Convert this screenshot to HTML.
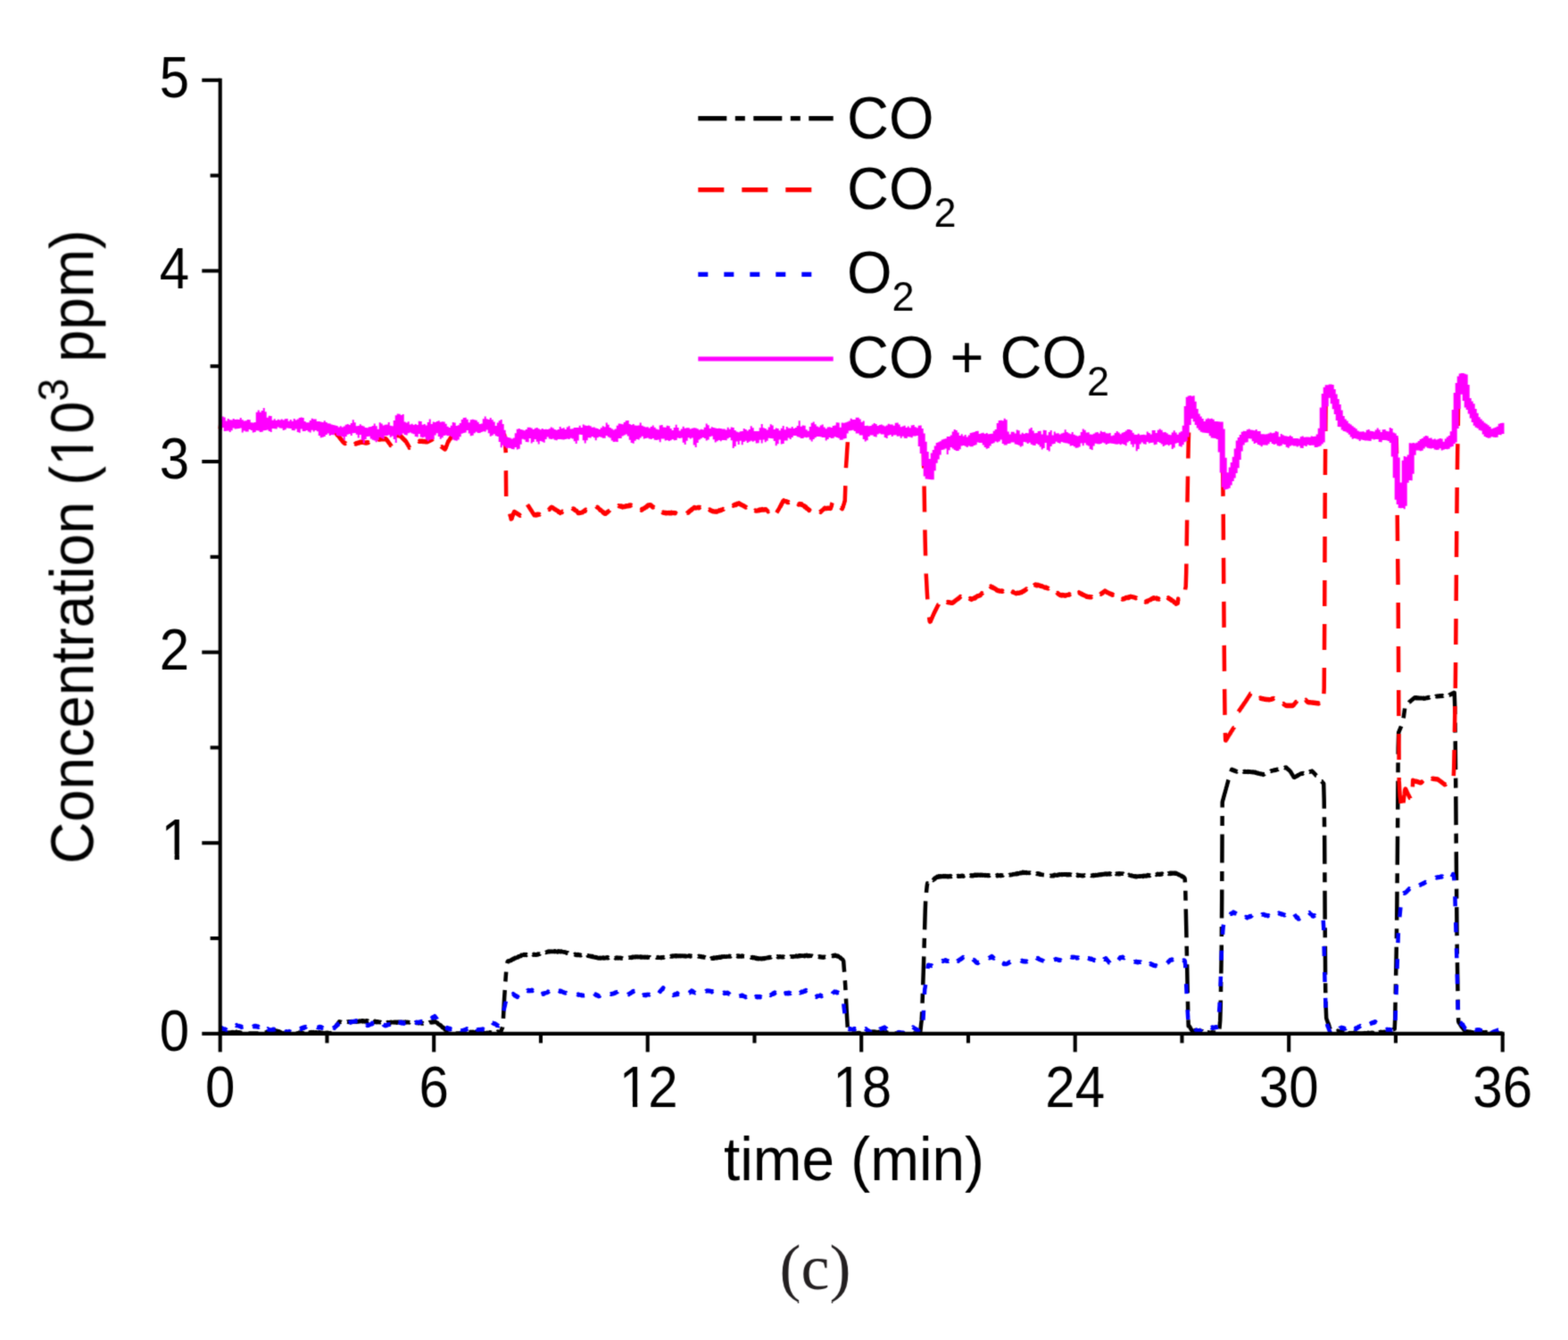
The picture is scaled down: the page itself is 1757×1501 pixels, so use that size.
<!DOCTYPE html>
<html><head><meta charset="utf-8"><title>Concentration vs time</title>
<style>
html,body{margin:0;padding:0;background:#fff;}
svg{display:block;}
text{font-family:"Liberation Sans", Arial, Helvetica, sans-serif;fill:#000;}
</style></head>
<body>
<svg width="1757" height="1501" viewBox="0 0 1757 1501">
<defs><clipPath id="c_ty1" clipPathUnits="userSpaceOnUse"><path clip-rule="evenodd" d="M-2033.37 -2000.00H1966.63V2000.00H-2033.37ZM-30.30 -6.08H-18.29V3.00H-30.30ZM-12.98 -6.08H-1.43V3.00H-12.98Z"/></clipPath><clipPath id="c_tx12" clipPathUnits="userSpaceOnUse"><path clip-rule="evenodd" d="M-2031.87 -2000.00H1968.13V2000.00H-2031.87ZM-28.80 -6.08H-16.79V3.00H-28.80ZM-11.48 -6.08H0.06V3.00H-11.48Z"/></clipPath><clipPath id="c_tx18" clipPathUnits="userSpaceOnUse"><path clip-rule="evenodd" d="M-2031.87 -2000.00H1968.13V2000.00H-2031.87ZM-28.80 -6.08H-16.79V3.00H-28.80ZM-11.48 -6.08H0.06V3.00H-11.48Z"/></clipPath><clipPath id="c_ytitle" clipPathUnits="userSpaceOnUse"><path clip-rule="evenodd" d="M-1909.53 -2000.00H2090.47V2000.00H-1909.53ZM93.93 -6.47H106.86V3.00H93.93ZM112.62 -6.47H125.04V3.00H112.62Z"/></clipPath><filter id="bl" x="0" y="0" width="100%" height="100%" color-interpolation-filters="sRGB"><feConvolveMatrix order="3" kernelMatrix="0.0277 0.1110 0.0277 0.1110 0.4452 0.1110 0.0277 0.1110 0.0277" edgeMode="duplicate"/></filter></defs>
<rect width="1757" height="1501" fill="#fff"/>
<g filter="url(#bl)">
<g fill="none" stroke-linejoin="round" stroke-width="4.5">
<path d="M246.7 1157.3l0.5 -0.21 0.5 0.36 0.5 -0.3 0.5 -0.07 0.5 -0.23 0.5 0.29 0.5 -0.41 0.5 0.28 0.5 -0.37 0.5 0.75 0.5 -0.47 0.5 0.5 0.5 -0.46 0.5 0.37 0.5 -0.71 0.5 0.53 0.5 -0.33 0.5 0.5 0.5 -0.72 0.5 0.39 0.5 -0.46 0.5 0.72 0.5 -0.63 0.5 0.27 0.5 -0.55 0.5 0.59 0.5 -0.81 0.5 0.62 0.5 -0.54 0.5 0.39 0.5 -0.37 0.5 0.42 0.5 -0.08 0.5 -0.07 0.5 -0.4 0.5 0.22 0.5 -0.53 0.5 0.92 0.5 -0.26 0.5 0.03 0.5 -0.25 0.5 0.67 0.5 -0.54 0.5 0.12 0.5 0.14 0.5 0.32 0.5 -0.24 0.5 0.25 0.5 -0.09 0.5 0.54 0.5 -0.63 0.5 0.72 0.5 -0.53 0.5 0.55 0.5 -0.4 0.5 0.4 0.5 -0.17 0.5 0.17 0.5 0 0.5 0 0.5 0 0.5 0 0.5 0 0.5 0 0.5 0 0.5 0 0.5 0 0.5 0 0.5 0 0.5 0 0.5 0 0.5 0 0.5 0 0.5 0 0.5 0 0.5 0 0.5 0 0.5 0 0.5 0 0.5 0 0.5 0 0.5 0 0.5 0 0.5 0 0.5 0 0.5 0 0.5 0 0.5 0 0.5 -0.06 0.5 0.06 0.5 -0.1 0.5 0.1 0.5 -0.18 0.5 0.18 0.5 -0.46 0.5 0.46 0.5 -0.72 0.5 0.38 0.5 -0.72 0.5 0.44 0.5 -0.48 0.5 0.26 0.5 -0.5 0.5 0.02 0.5 -0.41 0.5 0.5 0.5 -0.79 0.5 0.25 0.5 -0.58 0.5 0.27 0.5 -0.45 0.5 0.51 0.5 -0.7 0.5 0.26 0.5 -0.66 0.5 0.28 0.5 0 0.5 -0.08 0.5 -0.45 0.5 0.37 0.5 -0.24 0.5 0.46 0.5 -0.25 0.5 0.76 0.5 -0.65 0.5 0.76 0.5 -0.4 0.5 0.7 0.5 -0.51 0.5 0.75 0.5 -0.49 0.5 0.47 0.5 -0.2 0.5 0.65 0.5 -0.29 0.5 0.73 0.5 -0.04 0.5 0.27 0.5 -0.01 0.5 0.53 0.5 -0.34 0.5 0.34 0.5 0 0.5 0 0.5 0 0.5 0 0.5 0 0.5 0 0.5 0 0.5 0 0.5 0 0.5 0 0.5 0 0.5 0 0.5 0 0.5 0 0.5 0 0.5 0 0.5 0 0.5 0 0.5 0 0.5 0 0.5 0 0.5 0 0.5 0 0.5 0 0.5 0 0.5 0 0.5 0 0.5 0 0.5 -0.01 0.5 0.01 0.5 -0.18 0.5 0.18 0.5 -0.55 0.5 0.3 0.5 -0.58 0.5 0.83 0.5 -0.47 0.5 0.09 0.5 -0.19 0.5 0.39 0.5 -0.83 0.5 0.62 0.5 -0.36 0.5 0.68 0.5 -0.56 0.5 0.43 0.5 -0.61 0.5 0.51 0.5 -0.8 0.5 0.68 0.5 -0.45 0.5 0.11 0.5 -0.23 0.5 0.6 0.5 -0.4 0.5 0.35 0.5 -0.77 0.5 0.52 0.5 -0.51 0.5 0.7 0.5 -0.75 0.5 0.4 0.5 -0.54 0.5 0.7 0.5 -0.41 0.5 0.28 0.5 -0.46 0.5 0.53 0.5 -0.2 0.5 0.05 0.5 -0.23 0.5 0.49 0.5 -0.39 0.5 0.59 0.5 -0.48 0.5 0.39 0.5 -0.24 0.5 0.43 0.5 -0.54 0.5 0.47 0.5 -0.61 0.5 0.68 0.5 -0.54 0.5 0.43 0.5 -0.27 0.5 0.27 0.5 -0.27 0.5 0.54 0.5 -0.27 0.5 0.37 0.5 -0.33 0.5 0.41 0.5 -0.32 0.5 0.15 0.5 -0.53 0.5 0.58 0.5 -0.43 0.5 0.28 0.5 -0.4 0.5 0.44 0.5 -0.28 0.5 0.51 0.5 -0.17 0.5 0.02 0.5 -0.36 0.5 0.29 0.5 -0.49 0.5 0.66 0.5 -0.79 0.5 -0.55 0.5 -1.15 0.5 -0.59 0.5 -1.12 0.5 -0.7 0.5 -1.13 0.5 -0.61 0.5 -1.19 0.5 -0.14 0.5 -1.4 0.5 -0.13 0.5 -1 0.5 -0.25 0.5 -1.02 0.5 -0.37 0.5 -0.92 0.5 0.59 0.5 -0.41 0.5 0.26 0.5 -0.16 0.5 0.34 0.5 -0.43 0.5 0.41 0.5 -0.7 0.5 0.87 0.5 -0.87 0.5 0.59 0.5 -0.4 0.5 0.38 0.5 -0.47 0.5 0.28 0.5 -0.38 0.5 0.5 0.5 -0.26 0.5 0.15 0.5 -0.24 0.5 0.4 0.5 -0.5 0.5 0.34 0.5 -0.38 0.5 0.2 0.5 -0.17 0.5 0.47 0.5 -0.57 0.5 0.59 0.5 -0.48 0.5 0.27 0.5 -0.22 0.5 0.22 0.5 -0.02 0.5 -0.09 0.5 -0.43 0.5 0.43 0.5 -0.33 0.5 0.54 0.5 -0.64 0.5 0.32 0.5 -0.14 0.5 0.26 0.5 -0.69 0.5 0.4 0.5 -0.71 0.5 0.6 0.5 -0.26 0.5 -0.02 0.5 -0.45 0.5 0.68 0.5 -0.8 0.5 1.02 0.5 -0.87 0.5 0.56 0.5 -0.35 0.5 0.64 0.5 -0.56 0.5 0.09 0.5 -0.4 0.5 0.72 0.5 -0.78 0.5 0.72 0.5 -0.52 0.5 0.7 0.5 -0.37 0.5 -0.1 0.5 0.02 0.5 0.5 0.5 -0.62 0.5 0.51 0.5 -0.49 0.5 0.61 0.5 -0.27 0.5 0.63 0.5 -0.36 0.5 0.23 0.5 -0.49 0.5 0.75 0.5 -0.96 0.5 0.68 0.5 -0.08 0.5 0.72 0.5 -0.84 0.5 0.62 0.5 -0.57 0.5 0.65 0.5 -0.39 0.5 0.38 0.5 -0.21 0.5 0.4 0.5 -0.29 0.5 0.38 0.5 -0.54 0.5 0.68 0.5 -0.29 0.5 0.24 0.5 -0.08 0.5 0.35 0.5 -0.52 0.5 0.54 0.5 -0.47 0.5 0.41 0.5 -0.13 0.5 0.43 0.5 -0.68 0.5 0.45 0.5 -0.48 0.5 0.54 0.5 -0.35 0.5 0.09 0.5 -0.31 0.5 0.37 0.5 -0.37 0.5 0.55 0.5 -0.8 0.5 0.24 0.5 -0.17 0.5 0.21 0.5 0.04 0.5 0.08 0.5 -0.39 0.5 0.5 0.5 -0.45 0.5 0.33 0.5 -0.4 0.5 0.56 0.5 -0.65 0.5 0.74 0.5 -0.69 0.5 -0.01 0.5 0.01 0.5 0.05 0.5 -0.09 0.5 0.76 0.5 -0.59 0.5 0.13 0.5 -0.37 0.5 0.58 0.5 -0.21 0.5 0.12 0.5 -0.16 0.5 0.33 0.5 -0.5 0.5 0.43 0.5 -0.16 0.5 -0.04 0.5 -0.39 0.5 0.74 0.5 -0.43 0.5 0.09 0.5 -0.38 0.5 0.41 0.5 -0.19 0.5 0.26 0.5 -0.12 0.5 0.34 0.5 -0.51 0.5 0.44 0.5 -0.39 0.5 0.51 0.5 -0.52 0.5 0.52 0.5 -0.32 0.5 0.35 0.5 -0.24 0.5 0.31 0.5 -0.49 0.5 0.63 0.5 -0.18 0.5 0.46 0.5 -0.87 0.5 0.77 0.5 -0.52 0.5 0.5 0.5 -0.4 0.5 0.5 0.5 -0.45 0.5 0.52 0.5 -0.33 0.5 0.27 0.5 -0.4 0.5 0.5 0.5 -0.4 0.5 0.74 0.5 -0.65 0.5 0.64 0.5 -0.37 0.5 0.51 0.5 -0.64 0.5 0.51 0.5 -0.69 0.5 0.4 0.5 -0.44 0.5 0.02 0.5 -0.23 0.5 0.53 0.5 -0.72 0.5 0.32 0.5 -0.18 0.5 0.11 0.5 -0.33 0.5 -0.16 0.5 -0.13 0.5 0.29 0.5 -0.36 0.5 0.5 0.5 -0.7 0.5 0.38 0.5 -0.89 0.5 0.93 0.5 -0.42 0.5 0.21 0.5 -0.59 0.5 0.51 0.5 -0.32 0.5 0.69 0.5 0.18 0.5 0.45 0.5 -0.15 0.5 1.12 0.5 0.08 0.5 0.58 0.5 0.04 0.5 0.74 0.5 -0.14 0.5 0.92 0.5 -0.25 0.5 1.19 0.5 -0.02 0.5 0.9 0.5 -0.31 0.5 0.86 0.5 -0.2 0.5 0.86 0.5 0.3 0.5 1.12 0.5 -0.64 0.5 0.93 0.5 0.24 0.5 0.84 0.5 0.39 0.5 0.95 0.5 0.21 0.5 1.08 0.5 -0.29 0.5 0.33 0.5 0 0.5 0 0.5 0 0.5 0 0.5 0 0.5 0 0.5 0 0.5 0 0.5 0 0.5 0 0.5 0 0.5 0 0.5 0 0.5 0 0.5 0 0.5 0 0.5 0 0.5 0 0.5 0 0.5 0 0.5 0 0.5 0 0.5 -0.25 0.5 0.25 0.5 -0.37 0.5 0.3 0.5 -0.43 0.5 -0.02 0.5 -0.41 0.5 0.5 0.5 -0.37 0.5 0.29 0.5 -0.68 0.5 0.47 0.5 -0.7 0.5 0.77 0.5 -0.87 0.5 0.7 0.5 -0.34 0.5 0.39 0.5 -0.84 0.5 0.69 0.5 -0.55 0.5 0.44 0.5 -0.17 0.5 0.22 0.5 -0.71 0.5 0.48 0.5 -0.18 0.5 0.35 0.5 -0.65 0.5 0.34 0.5 -0.29 0.5 0.51 0.5 -0.16 0.5 0.32 0.5 -0.16 0.5 0.61 0.5 -0.78 0.5 0.67 0.5 -0.05 0.5 0.2 0.5 -0.31 0.5 0.64 0.5 -0.64 0.5 0.53 0.5 -0.59 0.5 0.81 0.5 -0.56 0.5 0.48 0.5 -0.74 0.5 0.86 0.5 -0.33 0.5 0.23 0.5 -0.13 0.5 -0.1 0.5 -0.07 0.5 0.2 0.5 0.2 0.5 -0.33 0.5 -0.22 0.5 0.46 0.5 -0.28 0.5 0.37 0.5 -0.58 0.5 0.27 0.5 -0.15 0.5 -0.06 0.5 -0.35 0.5 0.59 0.5 -0.96 0.5 0.45 0.5 -0.21 0.5 0.28 0.5 -0.75 0.5 0.59 0.5 -0.2 0.5 0.07 0.5 -0.32 0.5 0.3 0.5 -0.6 0.5 0.75 0.5 -0.57 0.5 0.45 0.5 -0.67 0.5 0.45 0.5 -0.45 0.5 0.45 0.5 -0.58 0.5 0.44 0.5 -0.1 0.5 0.13 0.5 -0.28 0.5 0.52 0.5 -0.96 0.5 -1.01 0.5 -1.71 0.5 -0.67 0.5 -1.52 0.5 -4.4 0.5 -10.37 0.5 -9.62 0.5 -9.38 0.5 -7.07 0.5 -7.96 0.5 -7.03 0.5 -6.67 0.5 -3.85 0.5 -4.77 0.5 -2.13 0.5 -0.75 0.5 0.19 0.5 -0.38 0.5 0.08 0.5 -0.43 0.5 0.26 0.5 -0.52 0.5 0.27 0.5 -0.9 0.5 0.18 0.5 -0.86 0.5 0.3 0.5 -0.75 0.5 0.37 0.5 -0.67 0.5 -0.07 0.5 -0.75 0.5 0.56 0.5 -0.56 0.5 -0.03 0.5 -0.31 0.5 0.03 0.5 -0.67 0.5 0.3 0.5 -0.91 0.5 0.21 0.5 -0.45 0.5 0.11 0.5 -0.47 0.5 0.25 0.5 -1.03 0.5 0.5 0.5 -0.43 0.5 -0.19 0.5 -0.34 0.5 0.18 0.5 -0.56 0.5 0.87 0.5 -0.48 0.5 0.19 0.5 -0.48 0.5 0.7 0.5 -0.49 0.5 0.24 0.5 -0.33 0.5 0.31 0.5 -0.52 0.5 0.57 0.5 -0.61 0.5 0.59 0.5 -0.57 0.5 0.4 0.5 -0.45 0.5 0.6 0.5 -0.37 0.5 0.37 0.5 -0.63 0.5 0.67 0.5 -0.67 0.5 0.41 0.5 -0.3 0.5 0.6 0.5 -0.44 0.5 0.39 0.5 -0.4 0.5 0.27 0.5 -0.72 0.5 0.52 0.5 -0.7 0.5 0.44 0.5 -0.52 0.5 0.23 0.5 -0.76 0.5 0.53 0.5 -0.59 0.5 0.35 0.5 -0.62 0.5 0.21 0.5 -0.64 0.5 0.65 0.5 -0.56 0.5 0.24 0.5 -0.64 0.5 0.59 0.5 -0.77 0.5 0.2 0.5 -0.46 0.5 0.16 0.5 -0.47 0.5 0.24 0.5 -0.55 0.5 0.3 0.5 -0.53 0.5 0.56 0.5 -0.37 0.5 0.12 0.5 -0.4 0.5 0.34 0.5 -0.16 0.5 0.27 0.5 -0.27 0.5 0.18 0.5 -0.2 0.5 0.23 0.5 -0.43 0.5 0.59 0.5 -0.58 0.5 0.42 0.5 -0.22 0.5 0.31 0.5 -0.24 0.5 0.63 0.5 -0.89 0.5 0.48 0.5 -0.6 0.5 0.5 0.5 -0.17 0.5 0.41 0.5 -0.43 0.5 0.48 0.5 -0.63 0.5 0.32 0.5 0.03 0.5 0.44 0.5 -0.19 0.5 0.4 0.5 -0.2 0.5 0.38 0.5 -0.23 0.5 0.55 0.5 -0.23 0.5 0.72 0.5 -0.42 0.5 0.06 0.5 0.11 0.5 0.59 0.5 -0.18 0.5 0.48 0.5 -0.43 0.5 0.56 0.5 -0.23 0.5 0.52 0.5 0.02 0.5 0.46 0.5 -0.39 0.5 0.71 0.5 -0.13 0.5 0.17 0.5 -0.37 0.5 0.44 0.5 -0.55 0.5 0.57 0.5 -0.46 0.5 0.68 0.5 -0.41 0.5 0.53 0.5 -0.66 0.5 0.72 0.5 -0.71 0.5 0.57 0.5 -0.2 0.5 0.44 0.5 -0.45 0.5 0.61 0.5 -0.59 0.5 0.26 0.5 -0.43 0.5 0.37 0.5 -0.28 0.5 0.3 0.5 -0.4 0.5 0.4 0.5 -0.53 0.5 1.07 0.5 -0.65 0.5 0.07 0.5 0.06 0.5 0.41 0.5 -0.55 0.5 0.85 0.5 -0.25 0.5 0.63 0.5 -0.24 0.5 0.26 0.5 -0.22 0.5 0.66 0.5 -0.34 0.5 0.53 0.5 -0.37 0.5 0.73 0.5 -0.69 0.5 0.53 0.5 0.16 0.5 0.36 0.5 -0.22 0.5 0.43 0.5 -0.41 0.5 0.54 0.5 -0.24 0.5 0.46 0.5 -0.26 0.5 0.54 0.5 -0.19 0.5 0.48 0.5 -0.32 0.5 0.1 0.5 -0.34 0.5 0.58 0.5 -0.53 0.5 0.02 0.5 -0.04 0.5 0.37 0.5 -0.52 0.5 0.44 0.5 -0.51 0.5 0.7 0.5 -0.53 0.5 0.34 0.5 -0.33 0.5 0.38 0.5 -0.73 0.5 0.37 0.5 -0.47 0.5 0.66 0.5 -0.59 0.5 0.58 0.5 -0.59 0.5 0.29 0.5 -0.65 0.5 0.53 0.5 -0.13 0.5 0.01 0.5 -0.41 0.5 0.57 0.5 -0.17 0.5 0.28 0.5 -0.56 0.5 0.54 0.5 -0.34 0.5 0.51 0.5 -0.27 0.5 0.69 0.5 -0.58 0.5 0.37 0.5 -0.51 0.5 0.36 0.5 -0.2 0.5 0.58 0.5 -0.47 0.5 0.34 0.5 -0.29 0.5 0.35 0.5 -0.38 0.5 0.48 0.5 -0.35 0.5 0.47 0.5 -0.23 0.5 0.35 0.5 -0.39 0.5 0.61 0.5 -0.53 0.5 0.47 0.5 -0.77 0.5 0.67 0.5 -0.7 0.5 0.22 0.5 -0.38 0.5 0.21 0.5 -0.46 0.5 0.46 0.5 -0.3 0.5 0.05 0.5 -0.27 0.5 0.31 0.5 -0.23 0.5 0.18 0.5 -0.43 0.5 0.5 0.5 -0.86 0.5 0.5 0.5 -0.66 0.5 0.48 0.5 -0.33 0.5 0.31 0.5 -0.41 0.5 0.27 0.5 -0.54 0.5 0.5 0.5 -0.53 0.5 0.42 0.5 -0.5 0.5 0.67 0.5 -0.35 0.5 0.21 0.5 -0.31 0.5 0.18 0.5 -0.27 0.5 0.63 0.5 -0.62 0.5 0.7 0.5 -0.55 0.5 0.56 0.5 -0.56 0.5 0.33 0.5 -0.22 0.5 0.56 0.5 -0.61 0.5 0.59 0.5 -0.59 0.5 0.51 0.5 -0.2 0.5 0.27 0.5 -0.56 0.5 0.67 0.5 -0.5 0.5 0.37 0.5 -0.25 0.5 -0.07 0.5 0.07 0.5 0.65 0.5 -0.66 0.5 0.13 0.5 0.05 0.5 0.62 0.5 -0.71 0.5 0.22 0.5 -0.37 0.5 0.53 0.5 -0.38 0.5 0.6 0.5 -0.52 0.5 0.05 0.5 -0.14 0.5 0.47 0.5 -0.13 0.5 0.1 0.5 -0.55 0.5 0.61 0.5 -0.35 0.5 0.14 0.5 0 0.5 0.27 0.5 -0.3 0.5 0.39 0.5 -0.52 0.5 0.51 0.5 -0.46 0.5 0.07 0.5 -0.45 0.5 0.54 0.5 -0.63 0.5 0.28 0.5 -0.4 0.5 0.24 0.5 -0.45 0.5 -0.06 0.5 0.02 0.5 0.63 0.5 -0.67 0.5 0.38 0.5 -0.58 0.5 0.24 0.5 -0.32 0.5 0.32 0.5 -0.53 0.5 0.43 0.5 -0.63 0.5 0.48 0.5 -0.43 0.5 0.43 0.5 -0.63 0.5 0.52 0.5 -0.53 0.5 0.09 0.5 -0.39 0.5 0.69 0.5 -0.57 0.5 0.69 0.5 -0.71 0.5 0.57 0.5 -0.46 0.5 0.41 0.5 -0.41 0.5 0.51 0.5 -0.43 0.5 0.35 0.5 -0.35 0.5 0.49 0.5 -0.55 0.5 0.37 0.5 -0.44 0.5 0.46 0.5 -0.44 0.5 0.52 0.5 -0.05 0.5 0.22 0.5 -0.6 0.5 0.53 0.5 -0.43 0.5 0.54 0.5 -0.42 0.5 0.09 0.5 0.03 0.5 0 0.5 -0.3 0.5 0.32 0.5 -0.56 0.5 0.43 0.5 0.12 0.5 0.38 0.5 -0.79 0.5 0.43 0.5 -0.05 0.5 0.09 0.5 -0.22 0.5 0.68 0.5 -0.62 0.5 0.56 0.5 -0.62 0.5 0.17 0.5 -0.31 0.5 0.31 0.5 -0.13 0.5 0.21 0.5 -0.22 0.5 0.35 0.5 -0.46 0.5 0.66 0.5 -0.51 0.5 0.47 0.5 -0.1 0.5 0.37 0.5 -0.57 0.5 0.91 0.5 -0.73 0.5 0.76 0.5 -0.31 0.5 0.41 0.5 -0.43 0.5 0.6 0.5 -0.35 0.5 0.42 0.5 -0.06 0.5 0.32 0.5 -0.36 0.5 0.85 0.5 -0.66 0.5 0.42 0.5 -0.13 0.5 0.56 0.5 -0.34 0.5 0.83 0.5 -0.73 0.5 0.82 0.5 -0.42 0.5 0.53 0.5 -0.72 0.5 0.35 0.5 -0.49 0.5 0.45 0.5 -0.41 0.5 0.47 0.5 -1.01 0.5 0.81 0.5 -0.6 0.5 0.34 0.5 -0.67 0.5 0.58 0.5 -0.82 0.5 0.82 0.5 -0.83 0.5 0.48 0.5 -0.52 0.5 0.47 0.5 -0.8 0.5 0.68 0.5 -0.58 0.5 0.54 0.5 -0.7 0.5 0.3 0.5 -0.77 0.5 0.6 0.5 -0.21 0.5 0.08 0.5 -0.5 0.5 0.44 0.5 -0.33 0.5 0.01 0.5 0.05 0.5 0.22 0.5 -0.45 0.5 0.31 0.5 -0.18 0.5 0.06 0.5 -0.28 0.5 0.31 0.5 -0.66 0.5 0.58 0.5 -0.33 0.5 0.27 0.5 -0.48 0.5 0.47 0.5 -0.59 0.5 0.38 0.5 -0.29 0.5 0.27 0.5 -0.25 0.5 0.44 0.5 -0.38 0.5 0.36 0.5 -0.65 0.5 0.54 0.5 -0.66 0.5 0.69 0.5 -0.56 0.5 0.73 0.5 -0.72 0.5 0.59 0.5 -0.57 0.5 0.67 0.5 -0.42 0.5 0.22 0.5 0.02 0.5 0.25 0.5 -0.69 0.5 0.55 0.5 -0.55 0.5 0.45 0.5 -0.13 0.5 0.18 0.5 -0.03 0.5 0.18 0.5 -0.21 0.5 0.79 0.5 -0.71 0.5 0.53 0.5 -0.2 0.5 0.26 0.5 -0.27 0.5 0.31 0.5 -0.29 0.5 0.61 0.5 -0.36 0.5 0.41 0.5 -0.2 0.5 0.59 0.5 -0.34 0.5 0.44 0.5 -0.49 0.5 0.77 0.5 -0.32 0.5 0.25 0.5 -0.54 0.5 0.84 0.5 -0.17 0.5 0.51 0.5 -0.66 0.5 0.9 0.5 -0.69 0.5 0.79 0.5 -0.56 0.5 0.72 0.5 -0.44 0.5 0.37 0.5 -0.26 0.5 0.27 0.5 -0.36 0.5 0.43 0.5 -0.57 0.5 0.65 0.5 -0.49 0.5 0.24 0.5 -0.64 0.5 0.58 0.5 -0.53 0.5 0.42 0.5 -0.61 0.5 0.33 0.5 -0.28 0.5 0.06 0.5 -0.46 0.5 0.11 0.5 -0.32 0.5 0.34 0.5 -0.51 0.5 0.48 0.5 -0.71 0.5 0.5 0.5 -0.66 0.5 0.34 0.5 -0.75 0.5 0.69 0.5 -0.51 0.5 0.11 0.5 -0.48 0.5 0.22 0.5 -0.24 0.5 0.33 0.5 -0.23 0.5 0.36 0.5 -0.33 0.5 0.22 0.5 -0.56 0.5 0.68 0.5 -0.51 0.5 0.81 0.5 -0.67 0.5 0.63 0.5 -0.56 0.5 0.33 0.5 -0.6 0.5 0.66 0.5 -0.29 0.5 0.39 0.5 -0.38 0.5 0.47 0.5 -0.64 0.5 0.72 0.5 -0.56 0.5 0.6 0.5 -0.19 0.5 -0.01 0.5 -0.13 0.5 0.53 0.5 -0.38 0.5 0.25 0.5 -0.61 0.5 0.64 0.5 -0.51 0.5 0.05 0.5 -0.21 0.5 0.14 0.5 -0.62 0.5 0.64 0.5 -0.48 0.5 0.22 0.5 0.11 0.5 -0.08 0.5 -0.25 0.5 0.44 0.5 -0.28 0.5 0.01 0.5 -0.21 0.5 -0.03 0.5 -0.35 0.5 0.32 0.5 -0.59 0.5 0.56 0.5 -0.27 0.5 0.39 0.5 -0.72 0.5 0.12 0.5 -0.42 0.5 0.63 0.5 -0.47 0.5 0.42 0.5 -0.58 0.5 0.32 0.5 -0.25 0.5 0.35 0.5 -0.24 0.5 0.11 0.5 -0.22 0.5 0.52 0.5 -0.35 0.5 0.44 0.5 -0.89 0.5 0.43 0.5 -0.24 0.5 0.29 0.5 -0.66 0.5 1.02 0.5 -0.58 0.5 0.52 0.5 -0.56 0.5 0.59 0.5 -0.57 0.5 0.42 0.5 -0.17 0.5 0.01 0.5 -0.12 0.5 0.19 0.5 0.08 0.5 0.24 0.5 -0.53 0.5 0.41 0.5 -0.14 0.5 0.82 0.5 -0.6 0.5 0.19 0.5 -0.46 0.5 1.23 0.5 -0.89 0.5 0.37 0.5 -0.15 0.5 0.57 0.5 -0.23 0.5 0.24 0.5 -0.46 0.5 0.72 0.5 -0.6 0.5 0.69 0.5 -0.41 0.5 0.64 0.5 -0.63 0.5 0.52 0.5 -0.23 0.5 0.45 0.5 -0.83 0.5 0.45 0.5 -0.38 0.5 0.27 0.5 -0.12 0.5 0.11 0.5 -0.44 0.5 0.15 0.5 -0.5 0.5 0.37 0.5 -0.38 0.5 0.15 0.5 -0.23 0.5 0.02 0.5 -0.25 0.5 0.25 0.5 -0.6 0.5 0.67 0.5 -0.6 0.5 0.2 0.5 -0.59 0.5 0.62 0.5 -0.75 0.5 0.59 0.5 -0.72 0.5 0.53 0.5 -0.64 0.5 0.62 0.5 0.03 0.5 0.65 0.5 -0.59 0.5 0.66 0.5 -0.46 0.5 0.92 0.5 -0.04 0.5 0.52 0.5 -0.06 0.5 1.01 0.5 -0.2 0.5 0.94 0.5 0.14 0.5 0.65 0.5 -0.04 0.5 0.99 0.5 0.94 0.5 6.98 0.5 6.07 0.5 6.94 0.5 7.31 0.5 9.82 0.5 9.04 0.5 9.86 0.5 9.02 0.5 8.21 0.5 3.31 0.5 1.66 0.5 0.69 0.5 0.97 0.5 0.88 0.5 0.14 0.5 0 0.5 0 0.5 0 0.5 0 0.5 0 0.5 0 0.5 0 0.5 0 0.5 0 0.5 0 0.5 0 0.5 0 0.5 0 0.5 0 0.5 -0.15 0.5 0.15 0.5 -0.43 0.5 0.43 0.5 -0.43 0.5 0.43 0.5 -0.4 0.5 0.36 0.5 -0.92 0.5 0.37 0.5 -0.25 0.5 0.17 0.5 -0.16 0.5 0.4 0.5 -0.76 0.5 0.67 0.5 -0.36 0.5 0.27 0.5 -0.57 0.5 0.43 0.5 -0.37 0.5 0.24 0.5 -0.31 0.5 0.33 0.5 -0.54 0.5 0.37 0.5 -0.24 0.5 0.19 0.5 -0.3 0.5 0.1 0.5 -0.23 0.5 0.44 0.5 -0.45 0.5 0.48 0.5 -0.55 0.5 0.4 0.5 -0.62 0.5 0.32 0.5 -0.41 0.5 0.53 0.5 -0.25 0.5 0.58 0.5 -0.51 0.5 0.45 0.5 -0.33 0.5 0.3 0.5 -0.34 0.5 0.41 0.5 -0.37 0.5 0.4 0.5 -0.58 0.5 0.6 0.5 -0.48 0.5 0.84 0.5 -0.46 0.5 0.16 0.5 -0.45 0.5 0.6 0.5 -0.63 0.5 0.89 0.5 -0.59 0.5 0.42 0.5 -0.16 0.5 0.52 0.5 -0.55 0.5 0.6 0.5 -0.83 0.5 0.59 0.5 -0.44 0.5 0.35 0.5 -0.04 0.5 0.67 0.5 -0.92 0.5 0.59 0.5 -0.14 0.5 0.29 0.5 -0.33 0.5 0.39 0.5 -0.2 0.5 0.32 0.5 -0.1 0.5 0.1 0.5 0 0.5 0 0.5 0 0.5 0 0.5 0 0.5 0 0.5 0 0.5 0 0.5 0 0.5 0 0.5 0 0.5 0 0.5 0 0.5 0 0.5 0 0.5 0 0.5 0 0.5 0 0.5 0 0.5 0 0.5 0 0.5 0 0.5 0 0.5 0 0.5 0 0.5 0 0.5 0 0.5 0 0.5 0 0.5 0 0.5 0 0.5 0 0.5 0 0.5 0 0.5 0 0.5 0 0.5 0 0.5 0 0.5 0 0.5 0 0.5 0 0.5 0 0.5 0 0.5 0 0.5 0 0.5 0 0.5 0 0.5 0 0.5 0 0.5 0 0.5 0 0.5 0 0.5 0 0.5 0 0.5 0 0.5 0 0.5 0 0.5 0 0.5 0 0.5 0 0.5 -1.12 0.5 -4.89 0.5 -4.68 0.5 -3.84 0.5 -9.01 0.5 -14.55 0.5 -15.41 0.5 -14.62 0.5 -16.44 0.5 -17.01 0.5 -17.96 0.5 -17.07 0.5 -13.06 0.5 -4.8 0.5 -5.68 0.5 -4.83 0.5 -3.16 0.5 0.47 0.5 -1.1 0.5 0.6 0.5 -1.09 0.5 0.26 0.5 -0.82 0.5 -0.05 0.5 -0.52 0.5 -0.05 0.5 -0.52 0.5 -0.14 0.5 -0.85 0.5 0.39 0.5 -0.97 0.5 -0.14 0.5 -0.94 0.5 0.46 0.5 -0.92 0.5 0.1 0.5 -0.98 0.5 0.08 0.5 -0.7 0.5 0.67 0.5 -0.7 0.5 0.49 0.5 -0.92 0.5 0.86 0.5 -0.76 0.5 0.1 0.5 -0.27 0.5 0.65 0.5 -0.31 0.5 -0.22 0.5 -0.26 0.5 0.65 0.5 -0.71 0.5 0.6 0.5 -0.53 0.5 0.61 0.5 -0.67 0.5 0.61 0.5 -0.51 0.5 0.59 0.5 -0.45 0.5 0.61 0.5 -0.54 0.5 0.67 0.5 -0.93 0.5 0.64 0.5 -0.29 0.5 0.34 0.5 -0.85 0.5 0.87 0.5 -0.56 0.5 0.87 0.5 -0.83 0.5 0.54 0.5 -0.7 0.5 0.67 0.5 -0.98 0.5 0.68 0.5 -0.37 0.5 0.23 0.5 -0.08 0.5 0.27 0.5 -0.21 0.5 -0.06 0.5 -0.38 0.5 0.63 0.5 -0.64 0.5 0.61 0.5 -0.5 0.5 0.2 0.5 -0.34 0.5 0.48 0.5 -0.5 0.5 0.36 0.5 -0.5 0.5 0.46 0.5 -0.27 0.5 0.58 0.5 -0.98 0.5 0.48 0.5 -0.33 0.5 0.67 0.5 -0.81 0.5 0.9 0.5 -0.46 0.5 -0.29 0.5 0 0.5 0.41 0.5 -0.62 0.5 0.2 0.5 -0.14 0.5 0.32 0.5 -0.23 0.5 0.33 0.5 -0.7 0.5 0.86 0.5 -0.48 0.5 0.36 0.5 -0.68 0.5 0.54 0.5 -0.61 0.5 0.3 0.5 -0.68 0.5 0.73 0.5 -0.81 0.5 0.81 0.5 -0.78 0.5 0.65 0.5 -0.54 0.5 0.29 0.5 -0.45 0.5 0.49 0.5 -0.14 0.5 0.26 0.5 -0.55 0.5 0.6 0.5 -0.75 0.5 0.39 0.5 -0.33 0.5 0.76 0.5 -0.61 0.5 0.54 0.5 -0.4 0.5 0.39 0.5 -0.15 0.5 0.4 0.5 -0.64 0.5 0.45 0.5 -0.26 0.5 0.33 0.5 -0.28 0.5 0.58 0.5 -0.52 0.5 0.48 0.5 -0.52 0.5 0.41 0.5 -0.46 0.5 0.81 0.5 -0.74 0.5 0.58 0.5 -0.43 0.5 0.5 0.5 -0.56 0.5 0.25 0.5 0.12 0.5 -0.04 0.5 -0.19 0.5 0.17 0.5 -0.18 0.5 0.16 0.5 -0.03 0.5 0.24 0.5 -0.77 0.5 0.92 0.5 -1 0.5 0.66 0.5 -0.22 0.5 0.2 0.5 -0.2 0.5 0.24 0.5 -0.55 0.5 0.7 0.5 -0.64 0.5 0.34 0.5 -0.24 0.5 0.24 0.5 -0.64 0.5 0.52 0.5 0.03 0.5 0.39 0.5 -1.05 0.5 0.78 0.5 -0.4 0.5 0.19 0.5 -0.31 0.5 0.15 0.5 -0.35 0.5 0.63 0.5 -0.63 0.5 0.41 0.5 -0.47 0.5 0.26 0.5 -0.4 0.5 0.44 0.5 -0.5 0.5 0.21 0.5 -0.14 0.5 -0.23 0.5 -0.45 0.5 0.4 0.5 -0.37 0.5 0.03 0.5 -0.28 0.5 0.17 0.5 -0.53 0.5 0.53 0.5 -0.47 0.5 0.37 0.5 -0.88 0.5 0.69 0.5 -0.53 0.5 0.23 0.5 -0.52 0.5 0.28 0.5 -0.57 0.5 0.49 0.5 -0.41 0.5 0.03 0.5 -0.45 0.5 0.42 0.5 -0.92 0.5 0.89 0.5 -0.58 0.5 0.66 0.5 -0.67 0.5 0.39 0.5 -0.28 0.5 0.54 0.5 -0.59 0.5 0.75 0.5 -0.51 0.5 0.26 0.5 -0.17 0.5 0.36 0.5 -0.38 0.5 0.39 0.5 -0.46 0.5 0.38 0.5 -0.2 0.5 0.46 0.5 -0.34 0.5 0.29 0.5 -0.22 0.5 0.54 0.5 -0.71 0.5 0.7 0.5 -0.08 0.5 0.08 0.5 -0.35 0.5 0.55 0.5 -0.44 0.5 0.74 0.5 -0.5 0.5 0.52 0.5 -0.45 0.5 0.74 0.5 -0.44 0.5 0.5 0.5 -0.31 0.5 0.84 0.5 -0.57 0.5 0.6 0.5 -0.15 0.5 0.34 0.5 -0.15 0.5 0.26 0.5 -0.06 0.5 0.13 0.5 0.04 0.5 0.47 0.5 -0.36 0.5 0.83 0.5 -0.38 0.5 0.57 0.5 -0.23 0.5 0.39 0.5 -0.33 0.5 0.37 0.5 -0.17 0.5 0.26 0.5 -0.74 0.5 0.39 0.5 -0.47 0.5 0.4 0.5 -0.18 0.5 0.24 0.5 -0.39 0.5 0.11 0.5 -0.51 0.5 0.68 0.5 -1 0.5 0.49 0.5 -0.66 0.5 0.59 0.5 -0.02 0.5 -0.15 0.5 -0.24 0.5 0.45 0.5 -0.87 0.5 0.36 0.5 -0.36 0.5 0.41 0.5 -0.86 0.5 0.48 0.5 -0.14 0.5 0.03 0.5 -0.26 0.5 0.54 0.5 -0.65 0.5 0.47 0.5 -0.49 0.5 0.43 0.5 -0.42 0.5 0.29 0.5 -0.26 0.5 0.5 0.5 -0.29 0.5 0.29 0.5 -0.46 0.5 0.85 0.5 -0.71 0.5 0.43 0.5 -0.46 0.5 0.54 0.5 -0.54 0.5 0.53 0.5 -0.46 0.5 0.42 0.5 -0.28 0.5 0.34 0.5 0.07 0.5 0.05 0.5 0.05 0.5 0.25 0.5 -0.34 0.5 0.55 0.5 -0.9 0.5 0.97 0.5 -0.59 0.5 0.32 0.5 -0.45 0.5 0.64 0.5 -0.71 0.5 0.99 0.5 -0.7 0.5 0.62 0.5 -0.5 0.5 0.4 0.5 -0.4 0.5 0.4 0.5 -0.08 0.5 0.28 0.5 -0.32 0.5 0.46 0.5 -0.39 0.5 0.43 0.5 -0.3 0.5 0.16 0.5 -0.48 0.5 0.57 0.5 -0.47 0.5 0.51 0.5 -0.24 0.5 0.44 0.5 -0.48 0.5 0.25 0.5 -0.24 0.5 0.4 0.5 -0.36 0.5 0.31 0.5 -0.52 0.5 0.5 0.5 -0.6 0.5 0.38 0.5 -0.3 0.5 0.36 0.5 -0.34 0.5 0.27 0.5 -0.69 0.5 0.77 0.5 -0.46 0.5 -0.02 0.5 -0.43 0.5 0.62 0.5 -0.61 0.5 0.14 0.5 -0.11 0.5 0.23 0.5 -0.45 0.5 0.5 0.5 -0.8 0.5 0.35 0.5 -0.31 0.5 0.4 0.5 -0.63 0.5 0.52 0.5 -0.61 0.5 0.48 0.5 -0.79 0.5 0.48 0.5 -0.29 0.5 0.1 0.5 -0.47 0.5 0.54 0.5 -0.54 0.5 0.31 0.5 -0.57 0.5 0.86 0.5 -0.66 0.5 0.62 0.5 -0.81 0.5 0.57 0.5 -0.49 0.5 0.47 0.5 -0.7 0.5 0.85 0.5 -0.66 0.5 0.49 0.5 -0.64 0.5 0.79 0.5 -0.92 0.5 0.93 0.5 -0.8 0.5 0.43 0.5 -0.51 0.5 0.74 0.5 -0.79 0.5 0.44 0.5 -0.46 0.5 0.66 0.5 -0.44 0.5 0.26 0.5 -0.25 0.5 0.59 0.5 -0.55 0.5 0.4 0.5 -0.64 0.5 0.83 0.5 -0.57 0.5 0.14 0.5 -0.33 0.5 0.14 0.5 0.05 0.5 0.18 0.5 -0.29 0.5 0.76 0.5 -0.72 0.5 0.91 0.5 -0.48 0.5 0.45 0.5 0.04 0.5 0.44 0.5 -0.48 0.5 0.74 0.5 -0.49 0.5 0.52 0.5 -0.26 0.5 0.76 0.5 -0.72 0.5 0.59 0.5 -0.01 0.5 0.2 0.5 -0.16 0.5 0.52 0.5 -0.49 0.5 0.62 0.5 -0.25 0.5 0.54 0.5 -0.24 0.5 0.46 0.5 -0.25 0.5 0.42 0.5 -0.46 0.5 0.63 0.5 -0.48 0.5 0.49 0.5 -0.61 0.5 0.42 0.5 -0.46 0.5 0.21 0.5 -0.18 0.5 0.24 0.5 -0.49 0.5 0.47 0.5 -0.12 0.5 -0.03 0.5 -0.14 0.5 -0.15 0.5 -0.22 0.5 0.72 0.5 -0.75 0.5 0.42 0.5 -0.63 0.5 0.18 0.5 -0.12 0.5 0.45 0.5 -0.48 0.5 0.52 0.5 -0.78 0.5 0.48 0.5 -0.88 0.5 0.64 0.5 -0.46 0.5 0.52 0.5 -0.43 0.5 0.33 0.5 -0.69 0.5 0.27 0.5 -0.51 0.5 0.38 0.5 -0.48 0.5 0.53 0.5 -0.71 0.5 0.17 0.5 -0.43 0.5 1.01 0.5 -0.73 0.5 0.12 0.5 -0.45 0.5 0.54 0.5 -0.54 0.5 0.41 0.5 -0.82 0.5 0.49 0.5 -0.24 0.5 0.49 0.5 -0.53 0.5 0.61 0.5 -0.71 0.5 0.43 0.5 -0.51 0.5 0.53 0.5 -0.71 0.5 0.8 0.5 -0.94 0.5 0.68 0.5 -0.48 0.5 0.54 0.5 -0.87 0.5 0.44 0.5 -0.37 0.5 0.56 0.5 -0.44 0.5 -0.11 0.5 -0.12 0.5 0.49 0.5 -0.45 0.5 0.41 0.5 -0.55 0.5 0.44 0.5 -0.77 0.5 0.81 0.5 -0.98 0.5 0.73 0.5 -0.61 0.5 0.57 0.5 -0.7 0.5 0.71 0.5 -0.49 0.5 0.51 0.5 -0.35 0.5 0.46 0.5 -0.63 0.5 0.6 0.5 -0.38 0.5 0.76 0.5 -0.27 0.5 0.31 0.5 0.16 0.5 0.72 0.5 -0.25 0.5 0.65 0.5 -0.06 0.5 0.56 0.5 0.01 0.5 0.77 0.5 -0.37 0.5 0.81 0.5 -0.5 0.5 0.72 0.5 0.01 0.5 0.84 0.5 0.22 0.5 1.51 0.5 8.56 0.5 22.06 0.5 21.25 0.5 23.28 0.5 24.32 0.5 25.2 0.5 24.29 0.5 15.55 0.5 -0.56 0.5 1.29 0.5 0.05 0.5 1.38 0.5 0.36 0.5 1.34 0.5 0.47 0.5 0.84 0.5 0.09 0.5 0.76 0.5 -0.53 0.5 0.48 0.5 -0.73 0.5 0.56 0.5 -0.98 0.5 0.83 0.5 -0.69 0.5 0.33 0.5 -0.43 0.5 0.71 0.5 -0.4 0.5 0.18 0.5 -0.34 0.5 0.74 0.5 -0.63 0.5 0.66 0.5 -0.31 0.5 0.61 0.5 -0.57 0.5 0.15 0.5 0.03 0.5 0.66 0.5 -0.53 0.5 0.51 0.5 -0.4 0.5 0.73 0.5 -0.39 0.5 0.55 0.5 -0.39 0.5 0.72 0.5 -0.49 0.5 0.48 0.5 -0.51 0.5 0.64 0.5 -0.28 0.5 0.75 0.5 -0.5 0.5 0.42 0.5 -0.19 0.5 0.45 0.5 -0.64 0.5 0.55 0.5 -0.7 0.5 0.58 0.5 -0.19 0.5 0.26 0.5 -0.51 0.5 0.45 0.5 -0.49 0.5 0.15 0.5 -0.35 0.5 0.39 0.5 -0.28 0.5 0.49 0.5 -0.28 0.5 0.11 0.5 -0.58 0.5 0.65 0.5 -2.37 0.5 -5.22 0.5 -6.11 0.5 -14.96 0.5 -30.44 0.5 -29.56 0.5 -61.72 0.5 -107.78 0.5 -2.34 0.5 -1.42 0.5 -2.19 0.5 -1.42 0.5 -2.28 0.5 -1.36 0.5 -2.27 0.5 -1.37 0.5 -2.27 0.5 -1.28 0.5 -2.3 0.5 -1.4 0.5 -2.26 0.5 -1.41 0.5 -2.15 0.5 -1.23 0.5 -2.06 0.5 -1.22 0.5 -1.99 0.5 -1.19 0.5 -1.35 0.5 0.63 0.5 -0.4 0.5 0.74 0.5 -0.22 0.5 0.61 0.5 -0.35 0.5 0.71 0.5 -0.24 0.5 0.59 0.5 -0.26 0.5 0.63 0.5 -0.53 0.5 0.6 0.5 -0.48 0.5 0.48 0.5 -0.42 0.5 0.45 0.5 -0.35 0.5 0.35 0.5 -0.4 0.5 0.36 0.5 -0.36 0.5 0.4 0.5 -0.31 0.5 0.41 0.5 -0.45 0.5 0.52 0.5 -0.52 0.5 0.49 0.5 -0.46 0.5 0.45 0.5 -0.4 0.5 0.44 0.5 -0.41 0.5 0.41 0.5 -0.45 0.5 0.58 0.5 -0.45 0.5 0.43 0.5 -0.38 0.5 0.41 0.5 -0.35 0.5 0.39 0.5 -0.33 0.5 0.47 0.5 -0.43 0.5 0.5 0.5 -0.44 0.5 0.55 0.5 -0.38 0.5 0.47 0.5 -0.29 0.5 0.69 0.5 -0.4 0.5 0.61 0.5 -0.35 0.5 0.67 0.5 -0.33 0.5 0.57 0.5 -0.36 0.5 0.58 0.5 -0.22 0.5 0.49 0.5 -0.37 0.5 0.72 0.5 -0.38 0.5 0.43 0.5 -0.27 0.5 0.54 0.5 -0.36 0.5 0.6 0.5 -0.53 0.5 0.04 0.5 -0.72 0.5 0.17 0.5 -0.75 0.5 0.08 0.5 -0.69 0.5 0.04 0.5 -0.68 0.5 0.01 0.5 -0.46 0.5 0.38 0.5 -0.59 0.5 0.2 0.5 -0.66 0.5 0.45 0.5 -0.53 0.5 0.26 0.5 -0.56 0.5 0.23 0.5 -0.53 0.5 0.28 0.5 -0.56 0.5 0.35 0.5 -0.47 0.5 0.28 0.5 -0.61 0.5 0.34 0.5 -0.59 0.5 0.34 0.5 -0.53 0.5 0.25 0.5 -0.48 0.5 0.28 0.5 -0.49 0.5 0.23 0.5 -0.51 0.5 0.27 0.5 -0.5 0.5 0.22 0.5 -0.51 0.5 0.31 0.5 -0.6 0.5 0.37 0.5 -0.55 0.5 0.3 0.5 -0.58 0.5 0.33 0.5 -0.57 0.5 0.41 0.5 -0.35 0.5 0.93 0.5 0.01 0.5 0.93 0.5 -0.05 0.5 0.9 0.5 0.01 0.5 0.88 0.5 0.06 0.5 0.89 0.5 0.18 0.5 1.27 0.5 0.44 0.5 1.18 0.5 0.49 0.5 1.26 0.5 0.39 0.5 1.3 0.5 -0.01 0.5 0.16 0.5 -0.77 0.5 0.2 0.5 -0.74 0.5 0.19 0.5 -0.72 0.5 0.15 0.5 -0.77 0.5 0.12 0.5 -0.62 0.5 0.05 0.5 -0.65 0.5 0.12 0.5 -0.6 0.5 0.24 0.5 -0.57 0.5 0.24 0.5 -0.44 0.5 0.29 0.5 -0.58 0.5 0.33 0.5 -0.49 0.5 0.29 0.5 -0.54 0.5 0.28 0.5 -0.54 0.5 0.35 0.5 -0.61 0.5 0.39 0.5 -0.62 0.5 0.41 0.5 -0.67 0.5 0.33 0.5 -0.54 0.5 0.29 0.5 -0.55 0.5 0.33 0.5 -0.48 0.5 0.26 0.5 -0.47 0.5 0.59 0.5 0.09 0.5 0.99 0.5 0.2 0.5 0.8 0.5 0.21 0.5 1 0.5 0.14 0.5 0.97 0.5 0.14 0.5 0.98 0.5 0.12 0.5 0.92 0.5 0.15 0.5 1.03 0.5 0 0.5 1.02 0.5 0.04 0.5 1.06 0.5 0.05 0.5 1.05 0.5 0.02 0.5 1.04 0.5 0.06 0.5 1 0.5 0.05 0.5 18.77 0.5 44.55 0.5 95.15 0.5 71.85 0.5 20.43 0.5 12.16 0.5 1.85 0.5 1.07 0.5 2 0.5 0.48 0.5 1.58 0.5 1.22 0.5 2.28 0.5 0.92 0.5 1.13 0.5 -0.25 0.5 0.61 0.5 -0.46 0.5 0.28 0.5 0.27 0.5 0.35 0.5 -0.25 0.5 0.58 0.5 -0.24 0.5 0.58 0.5 0 0.5 0.4 0.5 -0.08 0.5 0.46 0.5 -0.14 0.5 0.38 0.5 -0.65 0.5 1.12 0.5 -0.35 0.5 0.4 0.5 -0.68 0.5 0.97 0.5 -0.48 0.5 0.36 0.5 -0.3 0.5 0.79 0.5 -0.62 0.5 0.61 0.5 -0.44 0.5 0.71 0.5 -0.56 0.5 0.74 0.5 -0.49 0.5 0.87 0.5 -0.74 0.5 0.61 0.5 -0.23 0.5 0.47 0.5 -0.69 0.5 0.69 0.5 -0.35 0.5 0.35 0.5 -0.4 0.5 0.4 0.5 -0.14 0.5 0.14 0.5 -0.49 0.5 0.49 0.5 -0.2 0.5 0.2 0.5 -0.44 0.5 0.44 0.5 -0.53 0.5 0.53 0.5 -0.04 0.5 0.04 0.5 -0.07 0.5 0.07 0.5 -0.2 0.5 0.2 0.5 0 0.5 0 0.5 -0.19 0.5 0.19 0.5 -0.1 0.5 0.1 0.5 -0.12 0.5 0.12 0.5 -0.06 0.5 0.06 0.5 0 0.5 0 0.5 -0.16 0.5 0.16 0.5 -0.09 0.5 0.09 0.5 -0.37 0.5 0.37 0.5 -0.31 0.5 0.31 0.5 -0.26 0.5 0.26 0.5 -0.54 0.5 0.34 0.5 -0.47 0.5 0.56 0.5 -0.31 0.5 0.36 0.5 -0.29 0.5 0.08 0.5 -0.33 0.5 0.41 0.5 -0.57 0.5 0.24 0.5 -0.25 0.5 0.66 0.5 -0.89 0.5 0.77 0.5 -0.48 0.5 0.23 0.5 -0.43 0.5 0.34 0.5 -0.47 0.5 0.61 0.5 -0.54 0.5 0.38 0.5 -0.6 0.5 0.34 0.5 -0.42 0.5 0.18 0.5 -0.41 0.5 0.54 0.5 -0.75 0.5 0.69 0.5 -0.49 0.5 0.41 0.5 -0.45 0.5 0.34 0.5 -0.04 0.5 -0.18 0.5 -0.27 0.5 0.28 0.5 -0.12 0.5 0.54 0.5 -0.28 0.5 0.09 0.5 -0.2 0.5 0.23 0.5 -0.28 0.5 0.58 0.5 -0.73 0.5 0.67 0.5 -0.65 0.5 0.21 0.5 -0.77 0.5 -0.29 0.5 -0.63 0.5 -0.15 0.5 -0.42 0.5 0.08 0.5 -0.83 0.5 0.01 0.5 -0.85 0.5 0.17 0.5 -10.89 0.5 -25.06 0.5 -25.93 0.5 -25.07 0.5 -35.72 0.5 -49.58 0.5 -62.59 0.5 -79.94 0.5 -17.46 0.5 -0.77 0.5 -1.63 0.5 -0.74 0.5 -1.62 0.5 -0.82 0.5 -1.59 0.5 -0.73 0.5 -1.63 0.5 -0.78 0.5 -2.53 0.5 -3.22 0.5 -4.04 0.5 -3.19 0.5 -4.04 0.5 -2.56 0.5 -0.77 0.5 0.09 0.5 -0.89 0.5 0.05 0.5 -0.87 0.5 0.01 0.5 -0.82 0.5 0.03 0.5 -0.85 0.5 -0.02 0.5 -0.85 0.5 -0.08 0.5 -0.73 0.5 -0.03 0.5 -0.84 0.5 0.09 0.5 -0.89 0.5 0.03 0.5 -0.91 0.5 0.08 0.5 -0.7 0.5 0.47 0.5 -0.43 0.5 0.55 0.5 -0.54 0.5 0.53 0.5 -0.41 0.5 0.49 0.5 -0.43 0.5 0.42 0.5 -0.38 0.5 0.52 0.5 -0.43 0.5 0.4 0.5 -0.39 0.5 0.45 0.5 -0.35 0.5 0.39 0.5 -0.33 0.5 0.48 0.5 -0.49 0.5 0.57 0.5 -0.52 0.5 0.47 0.5 -0.44 0.5 0.26 0.5 -0.54 0.5 0.26 0.5 -0.53 0.5 0.34 0.5 -0.63 0.5 0.41 0.5 -0.57 0.5 0.28 0.5 -0.53 0.5 0.32 0.5 -0.63 0.5 0.38 0.5 -0.54 0.5 0.35 0.5 -0.43 0.5 0.33 0.5 -0.56 0.5 0.54 0.5 -0.49 0.5 0.47 0.5 -0.58 0.5 0.45 0.5 -0.57 0.5 0.38 0.5 -0.45 0.5 0.41 0.5 -0.5 0.5 0.45 0.5 -0.49 0.5 0.29 0.5 -0.45 0.5 0.5 0.5 -0.5 0.5 0.28 0.5 -0.46 0.5 0.52 0.5 -0.61 0.5 0.5 0.5 -0.62 0.5 0.48 0.5 -0.52 0.5 0.47 0.5 -0.43 0.5 0.36 0.5 -0.45 0.5 0.42 0.5 -0.46 0.5 0.35 0.5 -0.58 0.5 0.43 0.5 -0.44 0.5 0.2 0.5 -0.65 0.5 0.14 0.5 -0.68 0.5 0.14 0.5 -0.64 0.5 0.25 0.5 -0.71 0.5 0.16 0.5 -0.54 0.5 0.14 0.5 -0.67 0.5 0.03 0.5 14.31 0.5 37.68 0.5 48.59 0.5 67.1 0.5 66.22 0.5 52.99 0.5 30.89 0.5 31.78 0.5 18.62 0.5 1.42 0.5 0.15 0.5 1.13 0.5 0.73 0.5 1.03 0.5 0.23 0.5 1.31 0.5 0.37 0.5 0.84 0.5 0.26 0.5 1.11 0.5 0.24 0.5 0.88 0.5 0.66 0.5 0.64 0.5 0.1 0.5 0.91 0.5 -0.7 0.5 0.37 0.5 -0.21 0.5 0.85 0.5 -0.71 0.5 0.33 0.5 -0.16 0.5 0.52 0.5 -0.53 0.5 0.69 0.5 -0.74 0.5 0.94 0.5 -0.4 0.5 0.51 0.5 -0.51 0.5 0.73 0.5 -0.55 0.5 0.54 0.5 -0.73 0.5 0.64 0.5 -0.29 0.5 0.39 0.5 -0.79 0.5 0.57 0.5 -0.53 0.5 0.49 0.5 -0.4 0.5 0.71 0.5 -0.48 0.5 0.18 0.5 -0.29 0.5 0.2 0.5 -0.54 0.5 0.33 0.5 -0.3 0.5 0.86 0.5 -0.73 0.5 0.47 0.5 -0.38 0.5 -0.03 0.5 -0.2 0.5 0.46 0.5 -0.27 0.5 0.34 0.5 -0.7 0.5 0.5 0.5 -0.07 0.5 0.49 0.5 -0.62 0.5 0.5 0.5 -0.15 0.5 0.29 0.5 -0.13 0.5 0.42 0.5 -0.38 0.5 0.61 0.5 -0.56 0.5 0.47 0.5 -0.27 0.5 0.23 0.5 0.12 0.5 0.01 0.5 0 0.5 0 0.5 0 0.5 0 0.5 0 0.5 0 0.5 0 0.5 0 0.5 0 0.5 0 0.5 0 0.5 0 0.5 0 0.5 0 0.5 0 0.5 0 0.5 0 0.5 0 0.5 0 0.5 0" stroke="#000" stroke-dasharray="32 9.5 11 9.5"/>
<path d="M246.7 480.4l0.5 -4.78 0.5 0.14 0.5 0.11 0.5 0.1 0.5 0.08 0.5 0.07 0.5 0.03 0.5 0 0.5 -0.01 0.5 -0.03 0.5 -0.04 0.5 -0.06 0.5 -0.07 0.5 -0.06 0.5 -0.08 0.5 -0.09 0.5 -0.09 0.5 -0.09 0.5 -0.1 0.5 -0.09 0.5 -0.09 0.5 -0.1 0.5 -0.08 0.5 -0.08 0.5 -0.07 0.5 -0.06 0.5 -0.08 0.5 -0.06 0.5 -0.06 0.5 -0.06 0.5 -0.05 0.5 -0.03 0.5 -0.01 0.5 0 0.5 0.02 0.5 0.05 0.5 0.09 0.5 0.1 0.5 0.12 0.5 0.13 0.5 0.13 0.5 0.11 0.5 0.09 0.5 0.07 0.5 0.04 0.5 0 0.5 -0.02 0.5 -0.04 0.5 -0.05 0.5 -0.07 0.5 -0.04 0.5 -0.02 0.5 0.01 0.5 0.06 0.5 0.11 0.5 0.15 0.5 0.2 0.5 0.24 0.5 0.26 0.5 0.28 0.5 0.28 0.5 0.27 0.5 0.23 0.5 0.18 0.5 0.14 0.5 0.08 0.5 0.02 0.5 -0.02 0.5 -0.05 0.5 -0.06 0.5 -0.06 0.5 -0.05 0.5 -0.01 0.5 0.01 0.5 0.04 0.5 0.07 0.5 0.09 0.5 0.08 0.5 0.06 0.5 0.04 0.5 0 0.5 -0.04 0.5 -0.09 0.5 -0.14 0.5 -0.88 0.5 -1.99 0.5 -1.98 0.5 -1.97 0.5 -1.93 0.5 -1.17 0.5 -0.03 0.5 0.02 0.5 0.08 0.5 0.83 0.5 1.94 0.5 1.96 0.5 1.95 0.5 1.93 0.5 1.18 0.5 0.07 0.5 0.01 0.5 -0.05 0.5 -0.1 0.5 -0.13 0.5 -0.18 0.5 -0.21 0.5 -0.22 0.5 -0.23 0.5 -0.22 0.5 -0.21 0.5 -0.19 0.5 -0.15 0.5 -0.13 0.5 -0.09 0.5 -0.09 0.5 -0.05 0.5 -0.03 0.5 -0.03 0.5 -0.03 0.5 -0.03 0.5 -0.04 0.5 -0.04 0.5 -0.05 0.5 -0.05 0.5 -0.06 0.5 -0.05 0.5 -0.05 0.5 -0.04 0.5 -0.02 0.5 0 0.5 0.01 0.5 0.02 0.5 0.04 0.5 0.06 0.5 0.06 0.5 0.08 0.5 0.09 0.5 0.09 0.5 0.11 0.5 0.11 0.5 0.13 0.5 0.11 0.5 0.13 0.5 0.11 0.5 0.11 0.5 0.09 0.5 0.07 0.5 0.06 0.5 0.04 0.5 0.02 0.5 -0.02 0.5 -0.03 0.5 -0.07 0.5 -0.1 0.5 -0.1 0.5 -0.13 0.5 -0.13 0.5 -0.13 0.5 -0.13 0.5 -0.11 0.5 -0.08 0.5 -0.03 0.5 -0.01 0.5 0.04 0.5 0.08 0.5 0.11 0.5 0.15 0.5 0.17 0.5 0.18 0.5 0.18 0.5 0.17 0.5 0.17 0.5 0.15 0.5 0.13 0.5 0.11 0.5 0.07 0.5 0.05 0.5 0.02 0.5 0.01 0.5 0 0.5 -0.01 0.5 -0.02 0.5 -0.02 0.5 0.01 0.5 0.02 0.5 0.05 0.5 0.08 0.5 0.13 0.5 0.14 0.5 0.16 0.5 0.19 0.5 0.16 0.5 0.17 0.5 0.15 0.5 0.11 0.5 0.1 0.5 0.07 0.5 0.03 0.5 0.02 0.5 0.01 0.5 0.01 0.5 0.01 0.5 0 0.5 -0.02 0.5 -0.03 0.5 -0.05 0.5 -0.07 0.5 -0.08 0.5 -0.13 0.5 -0.18 0.5 -0.2 0.5 -0.22 0.5 -0.25 0.5 -0.24 0.5 -0.23 0.5 -0.2 0.5 -0.17 0.5 -0.1 0.5 -0.05 0.5 -0.01 0.5 0.07 0.5 0.11 0.5 0.17 0.5 0.22 0.5 0.24 0.5 0.29 0.5 0.29 0.5 0.29 0.5 0.27 0.5 0.23 0.5 0.21 0.5 0.15 0.5 0.09 0.5 0.05 0.5 0 0.5 -0.03 0.5 -0.05 0.5 -0.06 0.5 -0.06 0.5 -0.03 0.5 -0.01 0.5 0.03 0.5 0.07 0.5 0.1 0.5 0.13 0.5 0.17 0.5 0.19 0.5 0.21 0.5 0.21 0.5 0.23 0.5 0.23 0.5 0.24 0.5 0.21 0.5 0.2 0.5 0.2 0.5 0.18 0.5 0.17 0.5 0.16 0.5 2.42 0.5 1.54 0.5 -0.07 0.5 1.42 0.5 -0.13 0.5 1.26 0.5 -0.1 0.5 1.29 0.5 -0.14 0.5 1.47 0.5 -0.28 0.5 1.39 0.5 -0.14 0.5 1.36 0.5 -0.19 0.5 1.51 0.5 -0.26 0.5 1.44 0.5 -0.19 0.5 0.95 0.5 -0.47 0.5 1.09 0.5 -0.58 0.5 1.02 0.5 -0.43 0.5 1.06 0.5 -0.34 0.5 1.13 0.5 -0.61 0.5 1.11 0.5 -0.94 0.5 0.75 0.5 -0.92 0.5 0.66 0.5 -0.84 0.5 0.6 0.5 -0.83 0.5 0.67 0.5 -0.95 0.5 0.75 0.5 -0.95 0.5 0.66 0.5 -0.91 0.5 0.68 0.5 -0.89 0.5 0.58 0.5 -1.07 0.5 0.62 0.5 -0.88 0.5 0.63 0.5 -0.92 0.5 0.6 0.5 -0.93 0.5 0.74 0.5 -1.05 0.5 0.74 0.5 -0.98 0.5 0.72 0.5 -0.95 0.5 0.73 0.5 -0.64 0.5 0.89 0.5 -0.74 0.5 0.99 0.5 -0.68 0.5 0.91 0.5 -0.66 0.5 0.9 0.5 -0.74 0.5 0.66 0.5 -0.98 0.5 0.72 0.5 -0.85 0.5 0.63 0.5 -0.92 0.5 0.59 0.5 -0.98 0.5 0.61 0.5 -0.93 0.5 0.66 0.5 -1 0.5 0.61 0.5 -1.04 0.5 0.63 0.5 -1.03 0.5 0.69 0.5 -0.98 0.5 0.58 0.5 -0.93 0.5 0.55 0.5 -0.81 0.5 0.65 0.5 -0.86 0.5 0.76 0.5 -0.86 0.5 0.69 0.5 -0.76 0.5 0.77 0.5 -0.86 0.5 0.76 0.5 -0.89 0.5 0.83 0.5 -0.92 0.5 0.76 0.5 -0.77 0.5 0.77 0.5 -0.87 0.5 0.87 0.5 -0.97 0.5 0.73 0.5 -0.78 0.5 0.83 0.5 -0.89 0.5 0.88 0.5 -0.09 0.5 1.53 0.5 -0.11 0.5 1.5 0.5 -0.11 0.5 1.43 0.5 -0.01 0.5 1.43 0.5 -0.09 0.5 1.48 0.5 -0.1 0.5 1.41 0.5 -0.05 0.5 1.48 0.5 -0.16 0.5 1.49 0.5 -0.11 0.5 0.53 0.5 -2.38 0.5 -0.83 0.5 -2.3 0.5 -0.87 0.5 -2.39 0.5 -0.73 0.5 -2.36 0.5 -0.8 0.5 -2.39 0.5 -0.7 0.5 -1.5 0.5 1.23 0.5 -0.16 0.5 1.21 0.5 -0.18 0.5 1.27 0.5 -0.27 0.5 1.35 0.5 -0.26 0.5 1.34 0.5 -0.32 0.5 1.28 0.5 -0.37 0.5 1.34 0.5 -0.28 0.5 1.28 0.5 -0.1 0.5 1.64 0.5 0.17 0.5 1.6 0.5 0.04 0.5 1.71 0.5 0.08 0.5 1.74 0.5 -0.42 0.5 0.33 0.5 -1.26 0.5 0.28 0.5 -1.27 0.5 0.36 0.5 -1.23 0.5 0.33 0.5 -1.24 0.5 0.37 0.5 -1.31 0.5 0.39 0.5 -1.38 0.5 0.37 0.5 -1.32 0.5 0.35 0.5 -1.13 0.5 0.8 0.5 -0.78 0.5 0.78 0.5 -0.81 0.5 0.88 0.5 -0.85 0.5 0.88 0.5 -0.73 0.5 0.7 0.5 -0.73 0.5 0.78 0.5 -0.85 0.5 0.9 0.5 -0.7 0.5 0.72 0.5 -0.72 0.5 0.84 0.5 -0.8 0.5 0.92 0.5 -0.77 0.5 0.89 0.5 -0.77 0.5 0.74 0.5 -0.96 0.5 0.59 0.5 -1.06 0.5 0.6 0.5 -1.04 0.5 0.46 0.5 -0.94 0.5 0.44 0.5 -1.02 0.5 0.58 0.5 -1.1 0.5 0.54 0.5 -1 0.5 0.44 0.5 -0.98 0.5 0.56 0.5 -0.57 0.5 1.73 0.5 0.23 0.5 1.94 0.5 0.36 0.5 1.79 0.5 -0.03 0.5 1.17 0.5 -0.42 0.5 1.17 0.5 -0.49 0.5 1.15 0.5 -0.42 0.5 1.14 0.5 -0.46 0.5 1.1 0.5 -0.37 0.5 1.13 0.5 -0.43 0.5 1.15 0.5 -0.47 0.5 1.21 0.5 -0.44 0.5 1.08 0.5 -1.21 0.5 -0.53 0.5 -2.14 0.5 -0.59 0.5 -2.13 0.5 -0.64 0.5 -1.87 0.5 0.1 0.5 -1.58 0.5 -0.01 0.5 -1.54 0.5 0.12 0.5 -1.6 0.5 -0.02 0.5 -1.52 0.5 0.01 0.5 -1.57 0.5 0.01 0.5 -1.23 0.5 0.73 0.5 -1.72 0.5 -0.11 0.5 -0.16 0.5 -0.2 0.5 -0.25 0.5 -0.25 0.5 -0.27 0.5 -0.27 0.5 -0.29 0.5 -0.28 0.5 -0.27 0.5 -0.28 0.5 -0.27 0.5 -0.28 0.5 -0.3 0.5 -0.3 0.5 -0.33 0.5 -0.33 0.5 -0.36 0.5 -0.35 0.5 -0.34 0.5 -0.35 0.5 -0.32 0.5 -0.27 0.5 -0.24 0.5 -0.22 0.5 -0.18 0.5 -0.18 0.5 -0.14 0.5 -0.1 0.5 -0.09 0.5 -0.04 0.5 -0.01 0.5 0.04 0.5 0.09 0.5 0.14 0.5 0.19 0.5 0.21 0.5 0.26 0.5 0.26 0.5 0.27 0.5 0.26 0.5 0.23 0.5 0.2 0.5 0.18 0.5 0.16 0.5 0.13 0.5 0.1 0.5 0.11 0.5 0.09 0.5 0.1 0.5 0.09 0.5 0.08 0.5 0.08 0.5 0.05 0.5 0.03 0.5 0 0.5 -0.03 0.5 -0.05 0.5 -0.12 0.5 -0.16 0.5 -0.18 0.5 -0.18 0.5 -0.18 0.5 -0.21 0.5 -0.27 0.5 -0.29 0.5 -0.33 0.5 -0.38 0.5 -0.39 0.5 -0.41 0.5 -0.41 0.5 -0.37 0.5 -0.34 0.5 -0.24 0.5 -0.14 0.5 -0.02 0.5 0.11 0.5 0.25 0.5 0.37 0.5 0.5 0.5 0.58 0.5 0.63 0.5 0.68 0.5 0.67 0.5 0.64 0.5 0.61 0.5 0.55 0.5 0.48 0.5 0.41 0.5 0.33 0.5 0.26 0.5 0.21 0.5 0.14 0.5 0.08 0.5 0.05 0.5 0.02 0.5 -0.02 0.5 -0.04 0.5 -0.07 0.5 -0.07 0.5 -0.09 0.5 -0.09 0.5 -0.11 0.5 0.56 0.5 1.55 0.5 1.54 0.5 1.52 0.5 1.54 0.5 1.53 0.5 -4.45 0.5 1.2 0.5 -0.49 0.5 4.15 0.5 6.53 0.5 8.14 0.5 53.37 0.5 2.63 0.5 1.17 0.5 2.81 0.5 1.17 0.5 2.71 0.5 1.17 0.5 2.67 0.5 1.25 0.5 2.77 0.5 1.04 0.5 2.76 0.5 -0.25 0.5 -0.8 0.5 -2.18 0.5 -0.73 0.5 -2.39 0.5 -0.66 0.5 -1.53 0.5 1.08 0.5 -0.58 0.5 1.13 0.5 -0.51 0.5 1.14 0.5 -0.53 0.5 1.14 0.5 -0.5 0.5 1.06 0.5 -0.42 0.5 1.1 0.5 -0.53 0.5 1.16 0.5 -0.44 0.5 0.94 0.5 -1.02 0.5 -0.36 0.5 -2.02 0.5 -0.42 0.5 -1.88 0.5 -0.5 0.5 -1.99 0.5 -0.42 0.5 -1.92 0.5 -0.53 0.5 -1.94 0.5 -0.38 0.5 -1.18 0.5 1.54 0.5 -0.02 0.5 1.5 0.5 -0.06 0.5 1.58 0.5 -0.06 0.5 1.58 0.5 -0.02 0.5 1.62 0.5 0.01 0.5 1.51 0.5 0.02 0.5 1.62 0.5 0 0.5 1.59 0.5 0.05 0.5 1.14 0.5 -1.17 0.5 0.61 0.5 -0.56 0.5 1.33 0.5 -1.13 0.5 0.73 0.5 -1.24 0.5 1.04 0.5 -0.99 0.5 0.56 0.5 -0.65 0.5 0.71 0.5 -0.69 0.5 0.57 0.5 -0.47 0.5 1.5 0.5 -0.72 0.5 1.12 0.5 -1.06 0.5 0.55 0.5 -1.12 0.5 -0.02 0.5 -1.11 0.5 0.57 0.5 -1 0.5 0 0.5 -1.02 0.5 0.05 0.5 -1.33 0.5 0.69 0.5 -1.62 0.5 0.51 0.5 -1.43 0.5 0.5 0.5 -1.68 0.5 0.26 0.5 -1.33 0.5 0.51 0.5 -0.72 0.5 1 0.5 -0.63 0.5 1.03 0.5 -0.23 0.5 0.85 0.5 -0.25 0.5 1.17 0.5 -0.6 0.5 1.06 0.5 -0.46 0.5 1.03 0.5 -0.39 0.5 0.91 0.5 -0.46 0.5 1.62 0.5 -0.79 0.5 0.83 0.5 0.13 0.5 1.14 0.5 -0.89 0.5 0.12 0.5 -0.5 0.5 0.31 0.5 -1.08 0.5 0.22 0.5 -0.95 0.5 0.4 0.5 -1.04 0.5 0.37 0.5 -0.97 0.5 0.62 0.5 -0.95 0.5 0.72 0.5 -1.17 0.5 0.02 0.5 -0.57 0.5 -0.07 0.5 -0.81 0.5 0.24 0.5 -0.94 0.5 0.89 0.5 -0.73 0.5 1.5 0.5 -1.43 0.5 1.28 0.5 -0.18 0.5 0.73 0.5 -0.57 0.5 0.87 0.5 -0.58 0.5 1.45 0.5 -0.61 0.5 1.28 0.5 -0.3 0.5 0.75 0.5 -0.2 0.5 1.36 0.5 -0.12 0.5 1.4 0.5 -0.82 0.5 0.97 0.5 -0.79 0.5 0.77 0.5 -0.53 0.5 0.26 0.5 -0.74 0.5 0.16 0.5 -0.55 0.5 0.61 0.5 -0.95 0.5 0.27 0.5 -1.12 0.5 0.34 0.5 -1.01 0.5 1.02 0.5 -1.96 0.5 0.46 0.5 -0.78 0.5 0.27 0.5 -0.67 0.5 -0.03 0.5 -0.45 0.5 0.14 0.5 -1.28 0.5 0.48 0.5 -0.74 0.5 0.66 0.5 -0.77 0.5 0.31 0.5 -0.08 0.5 0.22 0.5 -1.14 0.5 0.6 0.5 -0.29 0.5 -0.01 0.5 -0.62 0.5 0.82 0.5 -1.41 0.5 0.98 0.5 -0.93 0.5 1.64 0.5 -0.34 0.5 1.07 0.5 -0.42 0.5 0.97 0.5 0.38 0.5 1.05 0.5 -0.51 0.5 1.4 0.5 -0.66 0.5 1.02 0.5 0.05 0.5 0.86 0.5 -0.26 0.5 1.51 0.5 -0.82 0.5 1.59 0.5 -0.39 0.5 1.1 0.5 -0.65 0.5 0.6 0.5 -1.2 0.5 0.5 0.5 -1.51 0.5 0.73 0.5 -1.46 0.5 0.49 0.5 -0.86 0.5 0.03 0.5 -1.21 0.5 0.26 0.5 -1.14 0.5 0.44 0.5 -1.59 0.5 0.45 0.5 -1.77 0.5 0.57 0.5 -1.51 0.5 0.24 0.5 -1.36 0.5 0.87 0.5 -0.61 0.5 0.51 0.5 -0.38 0.5 0.59 0.5 -0.59 0.5 0.53 0.5 -0.86 0.5 1.31 0.5 -0.73 0.5 0.72 0.5 -0.59 0.5 0.74 0.5 -0.57 0.5 0.8 0.5 -0.91 0.5 1.33 0.5 -1.08 0.5 1.57 0.5 -1.22 0.5 0.58 0.5 -0.71 0.5 0.78 0.5 -0.86 0.5 0.81 0.5 -1.13 0.5 0.41 0.5 -0.67 0.5 0.94 0.5 -0.78 0.5 0.06 0.5 -0.49 0.5 0.91 0.5 -1.39 0.5 1.36 0.5 -1.34 0.5 0.91 0.5 -0.88 0.5 1.27 0.5 -0.87 0.5 0.87 0.5 -0.65 0.5 0.79 0.5 -0.26 0.5 1 0.5 -0.44 0.5 0.72 0.5 0.11 0.5 1 0.5 -0.4 0.5 0.63 0.5 -0.43 0.5 0.83 0.5 -0.12 0.5 0.83 0.5 -0.18 0.5 0.85 0.5 -0.57 0.5 0.96 0.5 -1.14 0.5 1.09 0.5 -1.44 0.5 0.97 0.5 -0.98 0.5 0.2 0.5 -1 0.5 0.57 0.5 -1.05 0.5 0.44 0.5 -1.23 0.5 0.23 0.5 -0.97 0.5 0.86 0.5 -1.79 0.5 0.87 0.5 -1.69 0.5 0.61 0.5 -0.68 0.5 0.47 0.5 -0.68 0.5 0.88 0.5 -0.73 0.5 1.27 0.5 -0.55 0.5 1.46 0.5 -0.51 0.5 1.31 0.5 -0.81 0.5 1.27 0.5 -0.46 0.5 1.18 0.5 -0.4 0.5 1.45 0.5 -0.67 0.5 1.37 0.5 -0.64 0.5 0.76 0.5 -0.37 0.5 1.41 0.5 -0.23 0.5 0.78 0.5 -0.9 0.5 1.33 0.5 -0.68 0.5 1.15 0.5 -0.57 0.5 0.85 0.5 -0.83 0.5 0.84 0.5 -0.55 0.5 0.96 0.5 -0.63 0.5 0.71 0.5 -0.78 0.5 1.08 0.5 -0.69 0.5 0.74 0.5 -1.02 0.5 0.98 0.5 -0.29 0.5 0.11 0.5 -0.7 0.5 1.03 0.5 -1.2 0.5 0.91 0.5 -0.5 0.5 0.72 0.5 -1.37 0.5 1.27 0.5 -0.98 0.5 0.58 0.5 -0.32 0.5 0.48 0.5 -0.7 0.5 0.64 0.5 -0.47 0.5 0.84 0.5 -0.8 0.5 1.16 0.5 -1.14 0.5 0.59 0.5 -0.65 0.5 0.75 0.5 -0.72 0.5 0.19 0.5 -0.13 0.5 1.07 0.5 -0.99 0.5 0.56 0.5 -0.18 0.5 0.61 0.5 -0.45 0.5 0.69 0.5 -0.95 0.5 0.66 0.5 -0.34 0.5 1 0.5 -0.87 0.5 0.71 0.5 -0.39 0.5 0.27 0.5 -0.61 0.5 0.14 0.5 -0.91 0.5 0.33 0.5 -1.02 0.5 0.46 0.5 -1.72 0.5 0.67 0.5 -1.2 0.5 0.37 0.5 -1.12 0.5 0.63 0.5 -1.63 0.5 0.72 0.5 -1.37 0.5 0.38 0.5 -1.32 0.5 0.6 0.5 -1.07 0.5 1.14 0.5 -0.56 0.5 0.61 0.5 -0.75 0.5 0.48 0.5 -0.52 0.5 0.46 0.5 -0.86 0.5 0.98 0.5 -1.04 0.5 1 0.5 -0.97 0.5 0.66 0.5 -0.91 0.5 0.92 0.5 -0.8 0.5 0.76 0.5 -0.57 0.5 0.5 0.5 -0.89 0.5 0.92 0.5 -0.6 0.5 0.96 0.5 -0.5 0.5 1.33 0.5 -1.15 0.5 1.01 0.5 -0.56 0.5 0.9 0.5 -0.56 0.5 1.3 0.5 -0.47 0.5 0.64 0.5 -0.43 0.5 1.25 0.5 -0.66 0.5 0.97 0.5 -0.4 0.5 0.99 0.5 -0.67 0.5 1.18 0.5 -0.9 0.5 0.94 0.5 -0.55 0.5 0.58 0.5 -0.39 0.5 0.52 0.5 -0.88 0.5 1.04 0.5 -0.87 0.5 0.75 0.5 -0.86 0.5 0.17 0.5 -0.82 0.5 0.45 0.5 -0.92 0.5 0.92 0.5 -1.09 0.5 0.61 0.5 -0.97 0.5 0.45 0.5 -0.66 0.5 0.17 0.5 -0.65 0.5 0.37 0.5 -1.04 0.5 1.2 0.5 -1.45 0.5 0.82 0.5 -1.26 0.5 0.62 0.5 -0.59 0.5 0.48 0.5 -1.03 0.5 0.71 0.5 -0.91 0.5 0.72 0.5 -0.98 0.5 0.75 0.5 -1.05 0.5 0.47 0.5 -0.89 0.5 -0.1 0.5 -0.45 0.5 0.41 0.5 -0.98 0.5 0.51 0.5 -1.08 0.5 0.87 0.5 -1.32 0.5 0.67 0.5 -0.98 0.5 1.15 0.5 -1.31 0.5 0.61 0.5 -1.27 0.5 0.89 0.5 -0.87 0.5 0.18 0.5 -0.61 0.5 1.16 0.5 -0.41 0.5 1.16 0.5 -0.34 0.5 0.68 0.5 -0.54 0.5 0.91 0.5 -0.24 0.5 0.85 0.5 -0.45 0.5 1.12 0.5 -0.69 0.5 1.1 0.5 -0.42 0.5 1.14 0.5 -0.47 0.5 1.13 0.5 -0.41 0.5 1.43 0.5 -0.82 0.5 1.19 0.5 -0.57 0.5 1.25 0.5 -0.88 0.5 1.06 0.5 -0.66 0.5 1.23 0.5 -0.69 0.5 0.89 0.5 -0.75 0.5 1.3 0.5 -1.09 0.5 0.43 0.5 -0.65 0.5 0.86 0.5 -0.56 0.5 0.62 0.5 -0.46 0.5 0.56 0.5 -0.57 0.5 0.51 0.5 -0.75 0.5 0.57 0.5 -1.15 0.5 1.2 0.5 -1.48 0.5 0.82 0.5 -1.06 0.5 1.19 0.5 -0.88 0.5 0.55 0.5 -1.3 0.5 1.39 0.5 -0.65 0.5 0.24 0.5 -0.58 0.5 0.84 0.5 -1.02 0.5 0.52 0.5 -0.49 0.5 1.15 0.5 -0.15 0.5 0.76 0.5 0.04 0.5 1.11 0.5 -0.73 0.5 1.29 0.5 -0.12 0.5 1.33 0.5 -0.51 0.5 1.57 0.5 -0.95 0.5 0.9 0.5 -0.18 0.5 1.04 0.5 -0.73 0.5 1.87 0.5 -0.79 0.5 1.22 0.5 -0.35 0.5 -0.6 0.5 -1.75 0.5 0.23 0.5 -1.49 0.5 -0.82 0.5 -1.52 0.5 0.01 0.5 -1.39 0.5 -0.19 0.5 -1.5 0.5 -0.6 0.5 -1.42 0.5 0.22 0.5 -2.35 0.5 0.46 0.5 -2.1 0.5 0.08 0.5 -2.01 0.5 0.17 0.5 -1.28 0.5 0.86 0.5 -0.21 0.5 0.5 0.5 -0.2 0.5 0.57 0.5 -0.19 0.5 0.95 0.5 -0.94 0.5 1.42 0.5 -0.95 0.5 0.71 0.5 -0.42 0.5 1.23 0.5 -0.78 0.5 1.17 0.5 -0.49 0.5 0.91 0.5 -0.62 0.5 0.99 0.5 -0.58 0.5 1.01 0.5 -1.17 0.5 0.91 0.5 -0.57 0.5 0.47 0.5 -0.37 0.5 0.64 0.5 -0.68 0.5 0.61 0.5 -0.7 0.5 1.11 0.5 -1.23 0.5 1.24 0.5 -0.76 0.5 0.61 0.5 -1.19 0.5 0.98 0.5 -0.51 0.5 0.93 0.5 -1.16 0.5 1.47 0.5 -0.51 0.5 0.78 0.5 -0.14 0.5 0.93 0.5 -0.62 0.5 1.78 0.5 -0.95 0.5 1.03 0.5 -0.42 0.5 1.86 0.5 -0.57 0.5 1.13 0.5 -0.65 0.5 1.48 0.5 -0.42 0.5 1.37 0.5 -0.78 0.5 1.68 0.5 -0.41 0.5 0.58 0.5 -0.67 0.5 1.1 0.5 -0.92 0.5 1.13 0.5 -0.69 0.5 1.23 0.5 -1.18 0.5 1.02 0.5 -0.4 0.5 0.27 0.5 -0.17 0.5 0.58 0.5 -0.52 0.5 0.76 0.5 -0.59 0.5 0.09 0.5 -0.2 0.5 0.59 0.5 -0.54 0.5 0.3 0.5 -1.08 0.5 0.68 0.5 -1.45 0.5 0.35 0.5 -1.19 0.5 0.2 0.5 -0.89 0.5 0.2 0.5 -1.36 0.5 0.61 0.5 -1.54 0.5 0.35 0.5 0.16 0.5 0.7 0.5 -0.87 0.5 0.81 0.5 -0.94 0.5 0.73 0.5 -0.81 0.5 0.8 0.5 -0.8 0.5 0.84 0.5 -0.76 0.5 0.89 0.5 -1.64 0.5 -1.18 0.5 -2.73 0.5 -1.2 0.5 -1.83 0.5 1.19 0.5 -0.35 0.5 1.11 0.5 -0.42 0.5 1.28 0.5 -0.52 0.5 1.16 0.5 -0.31 0.5 1.14 0.5 -0.4 0.5 1.18 0.5 -0.48 0.5 1.24 0.5 -0.49 0.5 1.26 0.5 -0.41 0.5 1.1 0.5 -0.34 0.5 1.14 0.5 -0.34 0.5 1.11 0.5 -1.29 0.5 -0.84 0.5 -2.33 0.5 -0.88 0.5 -2.4 0.5 -0.95 0.5 -13.39 0.5 -19.67 0.5 -8.45 0.5 -6.86 0.5 -8.47 0.5 -6.86 0.5 -8.47 0.5 -3.51 0.5 -7.23 0.5 -0.19 0.5 -0.24 0.5 -0.25 0.5 -0.3 0.5 -0.33 0.5 -0.37 0.5 -0.4 0.5 -0.45 0.5 -0.49 0.5 -0.23 0.5 0.19 0.5 0.18 0.5 0.18 0.5 0.23 0.5 0.28 0.5 0.36 0.5 0.43 0.5 0.52 0.5 0.63 0.5 0.73 0.5 0.82 0.5 0.62 0.5 0.28 0.5 0.32 0.5 0.32 0.5 0.31 0.5 0.28 0.5 0.22 0.5 0.19 0.5 0.15 0.5 0.1 0.5 0.07 0.5 0.06 0.5 0.04 0.5 0.05 0.5 0.07 0.5 0.1 0.5 0.14 0.5 0.16 0.5 0.18 0.5 0.19 0.5 0.2 0.5 0.19 0.5 0.14 0.5 0.12 0.5 0.07 0.5 0 0.5 -0.07 0.5 -0.13 0.5 -0.2 0.5 -0.27 0.5 -0.3 0.5 -0.35 0.5 -0.35 0.5 -0.37 0.5 -0.36 0.5 -0.33 0.5 -0.31 0.5 -0.26 0.5 -0.22 0.5 -0.16 0.5 -0.12 0.5 -0.08 0.5 -0.02 0.5 0.02 0.5 0.04 0.5 0.08 0.5 0.12 0.5 0.14 0.5 0.15 0.5 0.16 0.5 0.17 0.5 0.15 0.5 0.14 0.5 0.12 0.5 0.11 0.5 0.09 0.5 0.07 0.5 0.04 0.5 0.04 0.5 0.06 0.5 0.04 0.5 0.04 0.5 0.05 0.5 0.04 0.5 0 0.5 -0.01 0.5 -0.05 0.5 -0.09 0.5 -0.12 0.5 -0.16 0.5 -0.19 0.5 -0.21 0.5 -0.21 0.5 -0.19 0.5 -0.18 0.5 -0.14 0.5 -0.09 0.5 -0.04 0.5 0 0.5 0.07 0.5 0.13 0.5 0.18 0.5 0.25 0.5 0.27 0.5 0.33 0.5 0.36 0.5 0.38 0.5 0.39 0.5 0.38 0.5 0.36 0.5 0.34 0.5 0.31 0.5 0.25 0.5 0.21 0.5 0.16 0.5 0.09 0.5 0.01 0.5 -0.05 0.5 -0.11 0.5 -0.18 0.5 -0.22 0.5 -0.27 0.5 -0.28 0.5 -0.3 0.5 -0.29 0.5 -0.25 0.5 -0.21 0.5 -0.11 0.5 -0.04 0.5 0.05 0.5 0.12 0.5 0.19 0.5 0.22 0.5 0.24 0.5 0.23 0.5 0.2 0.5 0.13 0.5 0.07 0.5 0 0.5 -0.09 0.5 -0.13 0.5 -0.17 0.5 -0.17 0.5 -0.18 0.5 -0.16 0.5 -0.11 0.5 -0.07 0.5 -0.05 0.5 -0.01 0.5 0 0.5 0.03 0.5 0.04 0.5 0.04 0.5 0.07 0.5 0.08 0.5 0.11 0.5 0.12 0.5 0.15 0.5 1.41 0.5 1.29 0.5 -0.3 0.5 1.33 0.5 -0.22 0.5 1.45 0.5 0.4 0.5 11.14 0.5 24.2 0.5 28.3 0.5 30.46 0.5 24.14 0.5 20.57 0.5 14.89 0.5 8.43 0.5 10.03 0.5 8.44 0.5 10.04 0.5 6.03 0.5 4.07 0.5 2.44 0.5 3.56 0.5 0.71 0.5 -0.25 0.5 -1.96 0.5 -0.33 0.5 -2 0.5 -0.22 0.5 -2.09 0.5 -0.26 0.5 -1.93 0.5 -0.28 0.5 -1.95 0.5 -0.2 0.5 -1.88 0.5 -0.07 0.5 -1.84 0.5 -0.18 0.5 -1.78 0.5 -0.17 0.5 -1.73 0.5 -0.11 0.5 -1.82 0.5 -0.13 0.5 -1.78 0.5 -0.15 0.5 -1.4 0.5 0.97 0.5 -0.67 0.5 0.99 0.5 -0.83 0.5 0.97 0.5 -0.58 0.5 0.98 0.5 -0.71 0.5 0.93 0.5 -0.64 0.5 0.96 0.5 -0.67 0.5 0.86 0.5 -0.67 0.5 0.84 0.5 -0.72 0.5 0.97 0.5 -0.65 0.5 0.84 0.5 -0.82 0.5 1.04 0.5 -0.67 0.5 0.84 0.5 -0.75 0.5 0.88 0.5 -0.86 0.5 0.66 0.5 -1.2 0.5 0.41 0.5 -1.19 0.5 0.42 0.5 -1.15 0.5 0.38 0.5 -1.14 0.5 0.38 0.5 -1.19 0.5 0.37 0.5 -1.1 0.5 0.47 0.5 -1.22 0.5 0.43 0.5 -1.26 0.5 0.38 0.5 -1.2 0.5 0.39 0.5 -1.11 0.5 0.42 0.5 -1.22 0.5 0.66 0.5 -1.09 0.5 0.68 0.5 -0.86 0.5 0.8 0.5 -0.61 0.5 0.79 0.5 -0.68 0.5 0.95 0.5 -0.87 0.5 0.98 0.5 -0.75 0.5 0.98 0.5 0.69 0.5 1.24 0.5 -0.19 0.5 1.52 0.5 -0.77 0.5 1.21 0.5 -0.51 0.5 1.02 0.5 -1.47 0.5 0.77 0.5 -0.87 0.5 0.54 0.5 -0.88 0.5 0.44 0.5 -1.32 0.5 1.37 0.5 -1.34 0.5 0.27 0.5 -1.17 0.5 0.49 0.5 -1.3 0.5 0.69 0.5 -0.77 0.5 0.61 0.5 -0.75 0.5 0.35 0.5 -1.2 0.5 0.61 0.5 -1.35 0.5 -0.04 0.5 -1.18 0.5 0.57 0.5 -1.67 0.5 0.42 0.5 -1.57 0.5 0.65 0.5 -1.16 0.5 -0.59 0.5 -1.18 0.5 0.55 0.5 -1.48 0.5 0.12 0.5 -1.66 0.5 0.08 0.5 -1.17 0.5 0.42 0.5 -1.08 0.5 1.39 0.5 -1.32 0.5 1.48 0.5 -0.52 0.5 1.39 0.5 -1.06 0.5 1.46 0.5 -1.15 0.5 1.58 0.5 -0.94 0.5 1.03 0.5 -0.24 0.5 0.93 0.5 -0.34 0.5 1.06 0.5 -0.57 0.5 1.51 0.5 -0.6 0.5 1.15 0.5 -0.53 0.5 0.57 0.5 -0.66 0.5 1.16 0.5 -0.79 0.5 0.77 0.5 -0.47 0.5 0.56 0.5 -0.78 0.5 0.9 0.5 -0.85 0.5 0.92 0.5 -1.2 0.5 0.83 0.5 -0.91 0.5 0.6 0.5 -0.88 0.5 0.85 0.5 -0.85 0.5 0.33 0.5 -0.9 0.5 0.84 0.5 -0.61 0.5 0.7 0.5 -0.52 0.5 1.03 0.5 -0.75 0.5 0.66 0.5 -0.54 0.5 1.01 0.5 -0.59 0.5 1.33 0.5 -0.88 0.5 1.28 0.5 -0.73 0.5 0.97 0.5 -0.11 0.5 0.55 0.5 0.04 0.5 0.56 0.5 -0.27 0.5 0.63 0.5 -0.91 0.5 0.64 0.5 -1.01 0.5 0.79 0.5 -0.57 0.5 0.62 0.5 -0.64 0.5 0.48 0.5 -1.03 0.5 0.58 0.5 -1.02 0.5 0.92 0.5 -1.33 0.5 0.6 0.5 -1.1 0.5 0.8 0.5 -0.52 0.5 -0.16 0.5 -1.38 0.5 0.62 0.5 -0.86 0.5 0.18 0.5 -1.18 0.5 0.68 0.5 -1.28 0.5 0.32 0.5 -0.85 0.5 0.2 0.5 -0.91 0.5 0.9 0.5 -1.91 0.5 1.28 0.5 -1.79 0.5 0.91 0.5 -1.6 0.5 0.83 0.5 -1.25 0.5 0.44 0.5 -1.05 0.5 1.35 0.5 -0.84 0.5 0.35 0.5 -0.81 0.5 1.16 0.5 -1.02 0.5 1.51 0.5 -0.88 0.5 0.69 0.5 -1.21 0.5 1.08 0.5 -0.38 0.5 0.52 0.5 -0.34 0.5 0.81 0.5 -0.46 0.5 0.77 0.5 -0.61 0.5 0.77 0.5 -0.38 0.5 0.8 0.5 -0.32 0.5 0.54 0.5 -0.17 0.5 1 0.5 -0.69 0.5 0.54 0.5 -0.58 0.5 1.25 0.5 -0.65 0.5 0.84 0.5 -0.62 0.5 0.76 0.5 -0.67 0.5 0.89 0.5 -0.6 0.5 0.97 0.5 -0.78 0.5 0.75 0.5 -0.24 0.5 0.98 0.5 -0.7 0.5 1.87 0.5 -1.52 0.5 1.72 0.5 -0.56 0.5 0.92 0.5 -0.59 0.5 1.31 0.5 -0.25 0.5 1.11 0.5 -0.53 0.5 1.11 0.5 -0.44 0.5 1.38 0.5 -0.55 0.5 1.26 0.5 -0.12 0.5 0.9 0.5 -0.35 0.5 0.64 0.5 -1.01 0.5 1.22 0.5 -1.3 0.5 0.91 0.5 -0.88 0.5 1.07 0.5 -0.75 0.5 1.03 0.5 -0.79 0.5 0.8 0.5 -1.03 0.5 0.86 0.5 -1.12 0.5 0.56 0.5 -0.49 0.5 0.24 0.5 -0.71 0.5 0.74 0.5 -1.29 0.5 1 0.5 -1.18 0.5 0.64 0.5 -0.8 0.5 0.87 0.5 -1.59 0.5 0.93 0.5 -1.17 0.5 0.83 0.5 -0.91 0.5 0.28 0.5 -0.86 0.5 1.07 0.5 -0.99 0.5 0.49 0.5 -0.74 0.5 0.91 0.5 -0.88 0.5 0.15 0.5 -0.43 0.5 1.5 0.5 -0.94 0.5 1.05 0.5 -0.42 0.5 1.09 0.5 -0.55 0.5 1.09 0.5 -0.78 0.5 1.3 0.5 -0.46 0.5 0.92 0.5 -0.59 0.5 0.96 0.5 -0.37 0.5 0.78 0.5 -0.39 0.5 1.11 0.5 -0.96 0.5 1.56 0.5 -0.97 0.5 0.98 0.5 -0.75 0.5 0.95 0.5 -0.73 0.5 1 0.5 -1.08 0.5 0.96 0.5 -0.6 0.5 0.63 0.5 -0.8 0.5 1.01 0.5 -0.7 0.5 0.79 0.5 -1.14 0.5 1.1 0.5 -0.8 0.5 1.17 0.5 -1.1 0.5 0.81 0.5 -0.58 0.5 0 0.5 -0.79 0.5 0.44 0.5 -1.41 0.5 0.53 0.5 -1.06 0.5 0.79 0.5 -1.52 0.5 0.34 0.5 -0.91 0.5 0.35 0.5 -1.32 0.5 0.6 0.5 -1.09 0.5 0.59 0.5 -1.31 0.5 0.43 0.5 -1.39 0.5 0.72 0.5 -1.28 0.5 1.07 0.5 -0.48 0.5 1 0.5 -0.37 0.5 1.16 0.5 -0.68 0.5 0.93 0.5 -0.46 0.5 0.85 0.5 -0.31 0.5 1.08 0.5 -0.94 0.5 0.99 0.5 -0.34 0.5 1.26 0.5 -1.05 0.5 1.36 0.5 -0.68 0.5 0.83 0.5 -0.34 0.5 1.13 0.5 -0.68 0.5 1.54 0.5 -1.34 0.5 1.46 0.5 -0.51 0.5 1.04 0.5 -0.51 0.5 1.2 0.5 -0.47 0.5 0.94 0.5 -0.49 0.5 0.82 0.5 -0.81 0.5 1 0.5 -0.3 0.5 0.56 0.5 -0.66 0.5 1.05 0.5 -0.77 0.5 0.51 0.5 -0.79 0.5 0.75 0.5 -0.93 0.5 0.36 0.5 -1.27 0.5 0.69 0.5 -0.95 0.5 0.92 0.5 -0.78 0.5 0.51 0.5 -0.85 0.5 1.09 0.5 -1.76 0.5 1.17 0.5 -1.18 0.5 0.58 0.5 -0.86 0.5 0.71 0.5 -0.36 0.5 0.61 0.5 -0.49 0.5 0.4 0.5 -0.09 0.5 0.75 0.5 -0.53 0.5 0.62 0.5 -0.3 0.5 0.93 0.5 -0.63 0.5 1.11 0.5 -0.49 0.5 1.12 0.5 -0.71 0.5 1.44 0.5 -0.85 0.5 1.2 0.5 -0.6 0.5 0.95 0.5 0.37 0.5 1.01 0.5 -1.05 0.5 0.97 0.5 -0.75 0.5 1.1 0.5 -0.73 0.5 0.63 0.5 -0.58 0.5 0.53 0.5 -0.62 0.5 0.98 0.5 -1 0.5 0.57 0.5 -1.07 0.5 1.05 0.5 -1.44 0.5 0.19 0.5 -0.67 0.5 0.17 0.5 -0.63 0.5 0.45 0.5 -0.79 0.5 0.5 0.5 -1.41 0.5 0.56 0.5 -0.83 0.5 0.26 0.5 -0.9 0.5 1.13 0.5 -1.35 0.5 1.02 0.5 -0.34 0.5 0.28 0.5 -0.26 0.5 0.26 0.5 -0.59 0.5 1.39 0.5 -0.78 0.5 0.81 0.5 -0.73 0.5 1.04 0.5 -0.64 0.5 0.19 0.5 -0.66 0.5 1.04 0.5 -1.08 0.5 1 0.5 -1.23 0.5 1.21 0.5 -1 0.5 0.61 0.5 -0.87 0.5 0.93 0.5 -1.49 0.5 0.94 0.5 -1.22 0.5 0.59 0.5 -0.58 0.5 0.34 0.5 -0.87 0.5 1.28 0.5 -0.68 0.5 1.49 0.5 -0.79 0.5 1.33 0.5 -0.58 0.5 1.29 0.5 -0.83 0.5 1.49 0.5 -0.45 0.5 1.03 0.5 -0.56 0.5 1.07 0.5 -0.28 0.5 1.37 0.5 -0.53 0.5 1 0.5 0.1 0.5 1.23 0.5 -0.79 0.5 0.37 0.5 -0.92 0.5 0.55 0.5 -5.25 0.5 0.78 0.5 -0.95 0.5 0.82 0.5 -0.88 0.5 0.78 0.5 -0.94 0.5 0.76 0.5 -0.88 0.5 0.66 0.5 -0.7 0.5 0.64 0.5 -0.84 0.5 -0.47 0.5 -3.87 0.5 -2.25 0.5 -3.91 0.5 -2.17 0.5 -15.28 0.5 -30.86 0.5 -32.47 0.5 -28.87 0.5 -27.46 0.5 -25.87 0.5 -16.78 0.5 -29.09 0.5 -1.32 0.5 -1.29 0.5 -0.07 0.5 1.77 0.5 1.81 0.5 1.85 0.5 1.88 0.5 1.92 0.5 1.93 0.5 1.95 0.5 1.94 0.5 1.74 0.5 0.92 0.5 0.89 0.5 0.86 0.5 0.83 0.5 0.8 0.5 0.76 0.5 0.72 0.5 0.67 0.5 0.66 0.5 0.61 0.5 0.59 0.5 0.6 0.5 0.76 0.5 0.76 0.5 0.75 0.5 0.76 0.5 0.78 0.5 0.8 0.5 0.82 0.5 0.86 0.5 0.89 0.5 0.91 0.5 -0.48 0.5 -0.8 0.5 -0.79 0.5 -0.78 0.5 -0.77 0.5 -0.75 0.5 -0.75 0.5 -0.74 0.5 -0.73 0.5 -0.73 0.5 -0.73 0.5 -0.72 0.5 0.35 0.5 1.96 0.5 1.94 0.5 1.94 0.5 1.93 0.5 1.91 0.5 1.9 0.5 1.89 0.5 0.7 0.5 -1.04 0.5 -1.06 0.5 -1.08 0.5 -1.1 0.5 -1.12 0.5 -1.13 0.5 -1.14 0.5 -1.15 0.5 -1.15 0.5 -1.15 0.5 0.15 0.5 1.05 0.5 1.06 0.5 1.09 0.5 1.11 0.5 4.74 0.5 -1.11 0.5 6.7 0.5 19.46 0.5 17.88 0.5 44 0.5 79.2 0.5 70.61 0.5 53.7 0.5 40.51 0.5 13.04 0.5 0.09 0.5 -1.55 0.5 0 0.5 -1.56 0.5 -0.08 0.5 -1.58 0.5 -0.03 0.5 -1.58 0.5 0.02 0.5 -1.62 0.5 -0.03 0.5 -1.66 0.5 0.05 0.5 -1.58 0.5 0.02 0.5 -1.57 0.5 0.01 0.5 -1.62 0.5 0.03 0.5 -3.83 0.5 -2.16 0.5 -3.71 0.5 -2.19 0.5 -2.85 0.5 0.09 0.5 -1.51 0.5 0.08 0.5 -1.47 0.5 0.08 0.5 -1.49 0.5 0.07 0.5 -1.57 0.5 0.13 0.5 -1.58 0.5 0.12 0.5 -1.6 0.5 0.14 0.5 -1.57 0.5 0.09 0.5 -1.53 0.5 0.11 0.5 -1.53 0.5 0.05 0.5 -1.46 0.5 0.02 0.5 -1.6 0.5 0.08 0.5 -1.55 0.5 0.06 0.5 -1.57 0.5 -0.02 0.5 -1.49 0.5 -0.01 0.5 -1.6 0.5 0.02 0.5 -1.63 0.5 -0.03 0.5 -1.62 0.5 0.32 0.5 -0.28 0.5 1.38 0.5 -0.26 0.5 1.42 0.5 -0.27 0.5 1.38 0.5 -0.25 0.5 1.34 0.5 -0.18 0.5 1.35 0.5 -0.23 0.5 0.93 0.5 -0.7 0.5 0.91 0.5 -0.74 0.5 0.88 0.5 -0.68 0.5 0.85 0.5 -0.67 0.5 0.91 0.5 -0.74 0.5 0.98 0.5 -0.67 0.5 0.88 0.5 -0.65 0.5 0.85 0.5 -0.63 0.5 0.91 0.5 -0.74 0.5 0.92 0.5 -0.74 0.5 0.83 0.5 -0.76 0.5 0.85 0.5 -0.71 0.5 0.78 0.5 -0.72 0.5 0.92 0.5 -0.82 0.5 0.82 0.5 -0.86 0.5 0.59 0.5 -0.87 0.5 0.64 0.5 -0.99 0.5 0.62 0.5 -0.94 0.5 0.62 0.5 -0.91 0.5 0.61 0.5 -0.93 0.5 0.7 0.5 -0.47 0.5 1.12 0.5 -0.37 0.5 1.09 0.5 -0.37 0.5 1.11 0.5 -0.46 0.5 1.08 0.5 -0.39 0.5 1.14 0.5 -0.45 0.5 1.08 0.5 -0.45 0.5 1.14 0.5 -0.46 0.5 1.13 0.5 -0.48 0.5 1.13 0.5 -0.45 0.5 1.16 0.5 -0.47 0.5 1.12 0.5 -0.46 0.5 1.14 0.5 -0.56 0.5 0.73 0.5 -0.81 0.5 0.82 0.5 -0.82 0.5 0.81 0.5 -0.78 0.5 0.78 0.5 -0.79 0.5 0.81 0.5 -0.81 0.5 0.78 0.5 -0.75 0.5 0.79 0.5 -0.81 0.5 0.8 0.5 -1.01 0.5 0.23 0.5 -1.47 0.5 0.2 0.5 -1.46 0.5 0.17 0.5 -1.37 0.5 0.16 0.5 -1.46 0.5 0.24 0.5 -1.46 0.5 0.22 0.5 -1.42 0.5 0.14 0.5 -1.44 0.5 0.24 0.5 -1.4 0.5 0.12 0.5 -1.03 0.5 1.32 0.5 -0.29 0.5 1.22 0.5 -0.28 0.5 1.28 0.5 -0.3 0.5 1.36 0.5 -0.37 0.5 1.33 0.5 -0.35 0.5 1.28 0.5 -0.32 0.5 1.29 0.5 -0.27 0.5 1.02 0.5 -0.74 0.5 0.88 0.5 -0.8 0.5 0.87 0.5 -0.76 0.5 0.88 0.5 -0.69 0.5 0.79 0.5 -0.75 0.5 0.86 0.5 -0.77 0.5 0.9 0.5 -0.73 0.5 0.87 0.5 -0.78 0.5 0.87 0.5 -0.72 0.5 0.81 0.5 -0.73 0.5 0.89 0.5 -0.73 0.5 0.86 0.5 -0.72 0.5 0.87 0.5 -0.76 0.5 0.85 0.5 -0.8 0.5 0.8 0.5 -0.73 0.5 0.79 0.5 -0.76 0.5 0.76 0.5 -0.74 0.5 0.84 0.5 -5.97 0.5 -11.71 0.5 -73.51 0.5 -139.8 0.5 -65.01 0.5 -49.61 0.5 -2.18 0.5 -1.1 0.5 -1.09 0.5 -1.08 0.5 -1.07 0.5 -1.06 0.5 -0.44 0.5 0.46 0.5 0.47 0.5 0.48 0.5 0.81 0.5 1.3 0.5 1.3 0.5 1.33 0.5 1.34 0.5 1.34 0.5 1.36 0.5 1.37 0.5 1.37 0.5 1.37 0.5 1.47 0.5 1.63 0.5 1.61 0.5 1.6 0.5 1.58 0.5 1.57 0.5 1.55 0.5 1.56 0.5 1.55 0.5 1.57 0.5 1.57 0.5 1.59 0.5 1.6 0.5 1.63 0.5 1.19 0.5 0.54 0.5 0.54 0.5 0.55 0.5 0.56 0.5 0.55 0.5 0.54 0.5 0.54 0.5 0.53 0.5 0.52 0.5 0.49 0.5 0.48 0.5 0.46 0.5 0.42 0.5 0.41 0.5 0.38 0.5 0.36 0.5 0.34 0.5 0.33 0.5 0.31 0.5 0.33 0.5 0.32 0.5 0.34 0.5 0.36 0.5 0.39 0.5 0.45 0.5 0.47 0.5 0.49 0.5 0.5 0.5 0.52 0.5 0.51 0.5 0.52 0.5 0.51 0.5 0.5 0.5 0.3 0.5 0 0.5 0.01 0.5 0.01 0.5 -0.6 0.5 0.08 0.5 0.12 0.5 0.17 0.5 0.21 0.5 0.25 0.5 0.26 0.5 0.27 0.5 0.27 0.5 0.23 0.5 0.2 0.5 0.14 0.5 0.07 0.5 0.03 0.5 -0.04 0.5 -0.11 0.5 -0.14 0.5 -0.18 0.5 -0.21 0.5 -0.22 0.5 -0.22 0.5 -0.21 0.5 -0.19 0.5 -0.16 0.5 -0.13 0.5 -0.08 0.5 -0.05 0.5 0 0.5 0.03 0.5 0.07 0.5 0.09 0.5 0.11 0.5 0.11 0.5 0.1 0.5 0.09 0.5 0.07 0.5 0.04 0.5 0.02 0.5 -0.01 0.5 -0.02 0.5 -0.03 0.5 -0.03 0.5 0 0.5 0 0.5 0.04 0.5 0.08 0.5 0.11 0.5 0.13 0.5 0.15 0.5 0.15 0.5 0.14 0.5 0.13 0.5 0.1 0.5 0.06 0.5 0.04 0.5 -0.01 0.5 -0.06 0.5 -0.08 0.5 -0.13 0.5 -0.14 0.5 -0.16 0.5 -0.15 0.5 -0.15 0.5 -0.14 0.5 -0.1 0.5 -0.07 0.5 -0.06 0.5 -0.03 0.5 -0.01 0.5 0.01 0.5 0.03 0.5 0.03 0.5 0.03 0.5 0.05 0.5 0.04 0.5 0.06 0.5 0.55 0.5 0.04 0.5 0.05 0.5 0.06 0.5 2.66 0.5 6.21 0.5 6.2 0.5 6.21 0.5 6.21 0.5 -25.18 0.5 25.2 0.5 58.99 0.5 47.19 0.5 48.81 0.5 96 0.5 106.78 0.5 9.2 0.5 8.49 0.5 3.42 0.5 5 0.5 3.41 0.5 5.15 0.5 0.25 0.5 -3.49 0.5 -4.81 0.5 -3.22 0.5 -4.82 0.5 -3.21 0.5 -4.81 0.5 -1.45 0.5 0.21 0.5 1.94 0.5 0.2 0.5 1.87 0.5 0.34 0.5 1.89 0.5 0.24 0.5 1.7 0.5 0.13 0.5 1.79 0.5 0.01 0.5 1.83 0.5 0.11 0.5 1.69 0.5 -0.52 0.5 -10.61 0.5 -12.56 0.5 1.42 0.5 -0.75 0.5 0.92 0.5 -0.72 0.5 0.89 0.5 -0.7 0.5 0.89 0.5 -0.72 0.5 0.84 0.5 -0.66 0.5 1.02 0.5 -0.67 0.5 1.01 0.5 -0.61 0.5 0.86 0.5 -0.48 0.5 0.94 0.5 -0.86 0.5 0.39 0.5 -1.21 0.5 0.39 0.5 -1.26 0.5 0.41 0.5 -1.22 0.5 0.4 0.5 -1.19 0.5 0.39 0.5 -1.21 0.5 0.39 0.5 -1.22 0.5 0.38 0.5 -1.04 0.5 0.88 0.5 -0.67 0.5 0.88 0.5 -0.76 0.5 0.88 0.5 -0.76 0.5 0.93 0.5 -0.7 0.5 0.86 0.5 -0.72 0.5 0.91 0.5 -0.73 0.5 0.83 0.5 -0.66 0.5 0.85 0.5 -0.71 0.5 0.8 0.5 -0.75 0.5 0.89 0.5 -0.73 0.5 0.85 0.5 -0.67 0.5 0.82 0.5 -0.65 0.5 1.25 0.5 -0.46 0.5 1.18 0.5 -0.46 0.5 1.12 0.5 -0.32 0.5 1.13 0.5 -0.45 0.5 1.18 0.5 -0.4 0.5 1.15 0.5 -0.44 0.5 1.18 0.5 -0.46 0.5 1.23 0.5 -0.71 0.5 0.49 0.5 -1.17 0.5 0.47 0.5 -1.17 0.5 0.51 0.5 -1.13 0.5 0.46 0.5 -1.09 0.5 0.45 0.5 -1.16 0.5 0.42 0.5 -1.11 0.5 0.57 0.5 -1.26 0.5 0.46 0.5 -1.12 0.5 0.42 0.5 -1.14 0.5 0 0.5 -12.18 0.5 -27.11 0.5 -28.71 0.5 -27.11 0.5 -44.23 0.5 -65.88 0.5 -67.47 0.5 -54.42 0.5 -38.81 0.5 -22.04 0.5 -47.71 0.5 -1.86 0.5 -1.87 0.5 -1.89 0.5 -1.89 0.5 -1.89 0.5 -1.9 0.5 -1.89 0.5 -0.98 0.5 0.38 0.5 0.39 0.5 0.4 0.5 0.41 0.5 1.11 0.5 3.79 0.5 3.83 0.5 3.83 0.5 3.82 0.5 3.83 0.5 3.83 0.5 2.77 0.5 0.78 0.5 0.78 0.5 0.79 0.5 0.81 0.5 0.82 0.5 0.84 0.5 0.85 0.5 0.87 0.5 0.96 0.5 1.24 0.5 1.24 0.5 1.23 0.5 1.22 0.5 1.2 0.5 1.2 0.5 1.18 0.5 1.16 0.5 1.15 0.5 1.13 0.5 0.92 0.5 0.61 0.5 0.59 0.5 0.57 0.5 0.55 0.5 0.54 0.5 0.51 0.5 0.49 0.5 0.48 0.5 0.47 0.5 0.37 0.5 0.34 0.5 0.35 0.5 0.37 0.5 0.38 0.5 0.39 0.5 0.43 0.5 0.44 0.5 0.48 0.5 0.51 0.5 0.52 0.5 0.54 0.5 0.57 0.5 0.53 0.5 0.35 0.5 0.35 0.5 0.36 0.5 0.35 0.5 0.34 0.5 0.33 0.5 0.32 0.5 0.32 0.5 0.3 0.5 0.3 0.5 0.28 0.5 0.27 0.5 0.26 0.5 -0.09 0.5 -0.32 0.5 -0.33 0.5 -0.33 0.5 -0.35 0.5 -0.34 0.5 -0.33 0.5 -0.32 0.5 -0.3 0.5 -0.27 0.5 -0.25 0.5 -0.22 0.5 -0.19 0.5 -0.17 0.5 -0.13 0.5 -0.11 0.5 -0.43 0.5 -0.5 0.5 -0.5 0.5 -0.51 0.5 -0.5 0.5 -0.53 0.5 -0.54" stroke="#ff0000" stroke-dasharray="29 20"/>
<path d="M246.7 1151.2l0.5 -0.46 0.5 0.92 0.5 -0.5 0.5 1.18 0.5 -0.7 0.5 0.59 0.5 -0.03 0.5 0.74 0.5 -0.33 0.5 0.32 0.5 -0.36 0.5 0.5 0.5 0.08 0.5 0.68 0.5 -0.52 0.5 1.13 0.5 -0.84 0.5 0.39 0.5 -0.96 0.5 0.29 0.5 -0.72 0.5 0.27 0.5 -0.96 0.5 0.11 0.5 -0.99 0.5 0.37 0.5 -0.87 0.5 0.05 0.5 -0.91 0.5 0.2 0.5 -1.14 0.5 0.07 0.5 -0.77 0.5 1 0.5 -0.73 0.5 0.56 0.5 -0.63 0.5 0.71 0.5 -0.17 0.5 0.27 0.5 0.08 0.5 0.39 0.5 -0.41 0.5 0.61 0.5 -0.19 0.5 0.75 0.5 -0.76 0.5 1.27 0.5 -0.75 0.5 0.2 0.5 -0.3 0.5 0.5 0.5 -0.7 0.5 0.65 0.5 -0.62 0.5 0.1 0.5 -0.46 0.5 0.56 0.5 -0.62 0.5 0.2 0.5 -0.24 0.5 0.52 0.5 -0.27 0.5 0.02 0.5 -0.56 0.5 0.84 0.5 -0.63 0.5 0.83 0.5 -0.49 0.5 0.23 0.5 -0.36 0.5 0.74 0.5 -0.86 0.5 1.2 0.5 -0.97 0.5 0.57 0.5 -0.94 0.5 0.75 0.5 -0.89 0.5 1.09 0.5 -0.93 0.5 0.87 0.5 -0.45 0.5 0.67 0.5 -0.62 0.5 0.92 0.5 -0.86 0.5 0.55 0.5 -0.41 0.5 1.15 0.5 -0.35 0.5 0.31 0.5 -0.45 0.5 0.92 0.5 -0.81 0.5 0.9 0.5 -0.63 0.5 1.01 0.5 -1.07 0.5 1 0.5 -0.51 0.5 1.07 0.5 -0.35 0.5 0.65 0.5 -0.03 0.5 0.38 0.5 -0.63 0.5 0.88 0.5 -0.2 0.5 0.74 0.5 -0.08 0.5 0.4 0.5 -0.65 0.5 0.47 0.5 -0.34 0.5 -0.24 0.5 -0.11 0.5 0.54 0.5 -1.01 0.5 0.57 0.5 -0.56 0.5 0.45 0.5 -0.82 0.5 0.33 0.5 -1.03 0.5 0.2 0.5 -0.99 0.5 1.17 0.5 -0.94 0.5 0.33 0.5 0.08 0.5 0.52 0.5 -0.39 0.5 0.71 0.5 0.3 0.5 0.2 0.5 -0.28 0.5 1.25 0.5 -0.28 0.5 0.84 0.5 -0.6 0.5 1.07 0.5 -0.42 0.5 0.98 0.5 0.16 0.5 0.36 0.5 -0.44 0.5 0.3 0.5 -0.49 0.5 0.82 0.5 -0.44 0.5 0.33 0.5 -0.28 0.5 0.76 0.5 -1.47 0.5 0.91 0.5 -0.52 0.5 0.35 0.5 -0.3 0.5 0.21 0.5 -0.64 0.5 0.04 0.5 -0.27 0.5 0.15 0.5 -0.63 0.5 0.27 0.5 -0.86 0.5 0.52 0.5 -0.98 0.5 0.64 0.5 -0.49 0.5 0.42 0.5 -1.13 0.5 0.83 0.5 -0.97 0.5 0.43 0.5 -0.47 0.5 0.47 0.5 -1.02 0.5 0.76 0.5 -0.94 0.5 0.89 0.5 -1.48 0.5 0.7 0.5 -0.77 0.5 0.33 0.5 -0.87 0.5 0.95 0.5 -0.97 0.5 0.08 0.5 -0.63 0.5 0.43 0.5 -0.68 0.5 0.45 0.5 0 0.5 0.41 0.5 -0.23 0.5 0.51 0.5 -0.69 0.5 0.7 0.5 -0.41 0.5 0.62 0.5 -0.51 0.5 0.78 0.5 -0.43 0.5 0.23 0.5 -0.64 0.5 0.84 0.5 -0.07 0.5 0.19 0.5 -0.81 0.5 0.69 0.5 -0.63 0.5 0.15 0.5 -0.65 0.5 0.72 0.5 -0.67 0.5 0.43 0.5 -0.04 0.5 0.36 0.5 -0.9 0.5 0.74 0.5 -0.99 0.5 1.01 0.5 -0.83 0.5 0.69 0.5 -0.55 0.5 1.24 0.5 -0.55 0.5 0.66 0.5 -0.08 0.5 0.55 0.5 -0.3 0.5 0.65 0.5 -0.22 0.5 0.49 0.5 -0.26 0.5 0.88 0.5 -0.58 0.5 0.83 0.5 -0.18 0.5 0.3 0.5 -0.37 0.5 0.4 0.5 -0.79 0.5 0.19 0.5 -0.13 0.5 0.45 0.5 -0.99 0.5 0.4 0.5 -0.8 0.5 0.31 0.5 -0.77 0.5 0.52 0.5 -1.21 0.5 0.67 0.5 -0.9 0.5 -0.37 0.5 -0.92 0.5 -0.11 0.5 -1.11 0.5 0.46 0.5 -1.47 0.5 0.82 0.5 -1.68 0.5 -0.05 0.5 -0.88 0.5 0.49 0.5 -0.7 0.5 0.44 0.5 -0.76 0.5 0.61 0.5 -0.72 0.5 0.33 0.5 -0.59 0.5 0.35 0.5 -0.6 0.5 0.63 0.5 -0.26 0.5 0.2 0.5 -0.4 0.5 0.62 0.5 -0.42 0.5 0.37 0.5 -0.49 0.5 0.97 0.5 -0.65 0.5 0.6 0.5 -0.1 0.5 0.27 0.5 -0.85 0.5 0.77 0.5 -0.54 0.5 0.07 0.5 -0.82 0.5 0.24 0.5 0.13 0.5 0.03 0.5 -0.65 0.5 0.37 0.5 -0.54 0.5 0.32 0.5 -0.19 0.5 0.32 0.5 -0.97 0.5 0.8 0.5 0.11 0.5 0.66 0.5 0.15 0.5 0.73 0.5 -0.35 0.5 0.68 0.5 -0.01 0.5 0.59 0.5 0.18 0.5 0.27 0.5 0 0.5 1.43 0.5 -0.9 0.5 1.13 0.5 -0.27 0.5 0.46 0.5 -0.7 0.5 0.83 0.5 -0.61 0.5 0.26 0.5 -0.2 0.5 0.51 0.5 -1.1 0.5 0.85 0.5 -0.65 0.5 0.45 0.5 -0.84 0.5 0.4 0.5 -0.37 0.5 0.09 0.5 -0.51 0.5 0.01 0.5 -0.68 0.5 0.45 0.5 -1.23 0.5 0.73 0.5 -0.86 0.5 0.22 0.5 -0.81 0.5 0.52 0.5 -0.97 0.5 -0.08 0.5 -0.47 0.5 0.3 0.5 -0.56 0.5 0.15 0.5 -0.34 0.5 0.77 0.5 -0.18 0.5 0.59 0.5 -0.17 0.5 0.52 0.5 0.1 0.5 0.93 0.5 -0.55 0.5 1.17 0.5 -0.57 0.5 1.25 0.5 -0.58 0.5 0.95 0.5 0.07 0.5 0.63 0.5 -0.19 0.5 0.47 0.5 -0.87 0.5 0.86 0.5 -0.94 0.5 0.44 0.5 -0.8 0.5 0.32 0.5 -0.41 0.5 0.29 0.5 -0.63 0.5 0.31 0.5 -0.64 0.5 0.17 0.5 -0.62 0.5 0.56 0.5 -0.74 0.5 0.19 0.5 -0.93 0.5 0.93 0.5 -0.79 0.5 0.11 0.5 -0.33 0.5 0.34 0.5 -0.98 0.5 0.73 0.5 -0.95 0.5 0.72 0.5 -0.65 0.5 0.63 0.5 -0.39 0.5 0.08 0.5 -0.93 0.5 1.44 0.5 -0.68 0.5 0.95 0.5 -0.51 0.5 0.87 0.5 -1.21 0.5 1.39 0.5 -0.83 0.5 0.59 0.5 -0.12 0.5 0.58 0.5 -1.07 0.5 0.77 0.5 -0.19 0.5 0.03 0.5 -0.27 0.5 0.71 0.5 -0.66 0.5 0.6 0.5 -0.29 0.5 0.44 0.5 -0.72 0.5 0.94 0.5 -1 0.5 0.83 0.5 -0.41 0.5 0.26 0.5 -0.01 0.5 0.41 0.5 -0.65 0.5 0.45 0.5 -0.3 0.5 0.32 0.5 -0.64 0.5 0.25 0.5 -0.59 0.5 0.11 0.5 -0.75 0.5 0.63 0.5 -0.96 0.5 0.84 0.5 -0.63 0.5 0.17 0.5 -0.38 0.5 0.44 0.5 -0.67 0.5 0.92 0.5 -0.98 0.5 0.53 0.5 -0.86 0.5 0.48 0.5 -0.66 0.5 0.49 0.5 -0.78 0.5 0.72 0.5 -0.99 0.5 0.5 0.5 -0.36 0.5 0.17 0.5 -0.61 0.5 0.44 0.5 -0.94 0.5 0.8 0.5 -0.94 0.5 0.35 0.5 -0.83 0.5 0.42 0.5 -0.74 0.5 -0.22 0.5 -0.16 0.5 -0.31 0.5 -0.7 0.5 0.71 0.5 -1.03 0.5 0.5 0.5 -1.25 0.5 0.56 0.5 -0.78 0.5 0.03 0.5 -0.87 0.5 1.31 0.5 0.08 0.5 0.7 0.5 0.5 0.5 1.41 0.5 0.32 0.5 0.77 0.5 0.33 0.5 1.05 0.5 0.12 0.5 1.36 0.5 0.54 0.5 1.08 0.5 0.18 0.5 1.08 0.5 0.34 0.5 0.58 0.5 -0.28 0.5 0.33 0.5 -0.31 0.5 1.07 0.5 -0.15 0.5 0.7 0.5 -1.03 0.5 0.91 0.5 -0.44 0.5 1.39 0.5 -1.03 0.5 1.01 0.5 -0.18 0.5 0.72 0.5 -0.76 0.5 1.39 0.5 -1.29 0.5 1.21 0.5 -0.59 0.5 0.53 0.5 -0.25 0.5 0.74 0.5 -0.61 0.5 0.86 0.5 -0.4 0.5 0.8 0.5 -0.95 0.5 1.05 0.5 -0.37 0.5 0.91 0.5 -0.56 0.5 -0.02 0.5 -0.4 0.5 0.74 0.5 -0.53 0.5 0.77 0.5 -1.02 0.5 0.4 0.5 -0.33 0.5 0.65 0.5 -0.76 0.5 0.58 0.5 -0.25 0.5 0.28 0.5 -0.38 0.5 0.86 0.5 -0.53 0.5 0.3 0.5 -1.08 0.5 -0.2 0.5 -0.33 0.5 0.63 0.5 -0.82 0.5 0.45 0.5 -1.08 0.5 0.49 0.5 -1.2 0.5 0.38 0.5 -0.58 0.5 -0.31 0.5 -0.92 0.5 0.58 0.5 -1.04 0.5 0.29 0.5 0.21 0.5 0.39 0.5 -0.39 0.5 1.14 0.5 -0.51 0.5 0.82 0.5 -0.21 0.5 0.73 0.5 -1.09 0.5 1.41 0.5 -0.26 0.5 0.72 0.5 -0.38 0.5 0.99 0.5 -0.31 0.5 0.54 0.5 -0.63 0.5 0.39 0.5 -0.38 0.5 0.42 0.5 -0.31 0.5 0.3 0.5 -0.6 0.5 0.37 0.5 -0.44 0.5 0.7 0.5 -1.01 0.5 1 0.5 -0.89 0.5 0.45 0.5 -0.48 0.5 0.03 0.5 -1.55 0.5 0.7 0.5 -1.16 0.5 -0.01 0.5 -1.69 0.5 0 0.5 -0.65 0.5 0.67 0.5 -1.02 0.5 -0.02 0.5 -1.07 0.5 -0.3 0.5 -0.6 0.5 -0.04 0.5 -0.91 0.5 0.69 0.5 0.04 0.5 0.65 0.5 -0.21 0.5 0.77 0.5 -0.49 0.5 0.68 0.5 -0.32 0.5 0.91 0.5 -0.17 0.5 1.22 0.5 -0.7 0.5 0.74 0.5 -0.16 0.5 0.43 0.5 -0.67 0.5 -0.73 0.5 -2.43 0.5 -0.23 0.5 -2.1 0.5 -0.62 0.5 -1.96 0.5 -0.64 0.5 -2.46 0.5 -1.3 0.5 -2.81 0.5 -2.03 0.5 -2.59 0.5 -1.74 0.5 -2.53 0.5 -2.06 0.5 -2.66 0.5 -1.98 0.5 -2.43 0.5 0.94 0.5 -0.93 0.5 0.13 0.5 -0.34 0.5 0.48 0.5 -1.27 0.5 0.72 0.5 -0.75 0.5 0.48 0.5 -0.7 0.5 0.41 0.5 -0.99 0.5 0.85 0.5 -0.99 0.5 1.03 0.5 -0.08 0.5 1.18 0.5 -0.39 0.5 0.5 0.5 -0.19 0.5 1.23 0.5 -0.44 0.5 0.98 0.5 -0.62 0.5 1.21 0.5 -0.27 0.5 1.07 0.5 -0.21 0.5 0.41 0.5 0.12 0.5 -0.2 0.5 -1.01 0.5 0.38 0.5 -1.35 0.5 0.15 0.5 -0.91 0.5 0.18 0.5 -1.47 0.5 -0.31 0.5 -0.94 0.5 -0.14 0.5 -1.15 0.5 0.16 0.5 -1.32 0.5 0.05 0.5 -1.21 0.5 0.49 0.5 -1.04 0.5 0.86 0.5 -0.65 0.5 0.88 0.5 -0.79 0.5 0.46 0.5 -0.79 0.5 0.8 0.5 -0.99 0.5 1.02 0.5 -0.85 0.5 0.62 0.5 -0.2 0.5 0.41 0.5 -0.59 0.5 0.61 0.5 0.15 0.5 0.1 0.5 0.29 0.5 0.85 0.5 -0.29 0.5 0.68 0.5 -0.4 0.5 1.46 0.5 -0.57 0.5 0.97 0.5 -0.83 0.5 1.41 0.5 -0.23 0.5 0.73 0.5 -0.86 0.5 0.53 0.5 -1.09 0.5 0.98 0.5 -0.66 0.5 0.24 0.5 -0.97 0.5 0.28 0.5 -0.46 0.5 0 0.5 -0.23 0.5 0.1 0.5 -0.64 0.5 0.13 0.5 -0.89 0.5 0.53 0.5 -1.07 0.5 0.62 0.5 -0.68 0.5 0.34 0.5 -0.4 0.5 0.17 0.5 -0.87 0.5 0.8 0.5 -0.68 0.5 0.43 0.5 -0.69 0.5 0.49 0.5 -0.72 0.5 0.38 0.5 -0.79 0.5 0.1 0.5 -0.37 0.5 0.87 0.5 -0.71 0.5 0.7 0.5 -0.08 0.5 0.46 0.5 -0.26 0.5 0.84 0.5 -0.3 0.5 1.18 0.5 -1.09 0.5 0.16 0.5 0.28 0.5 0.61 0.5 -0.11 0.5 0.74 0.5 -0.28 0.5 0.61 0.5 -0.21 0.5 0.52 0.5 -0.13 0.5 0.43 0.5 -0.35 0.5 0.97 0.5 -0.22 0.5 0.49 0.5 -0.18 0.5 0.95 0.5 -0.36 0.5 0.45 0.5 0.24 0.5 0.39 0.5 -0.2 0.5 0.71 0.5 -1.18 0.5 0.25 0.5 -0.06 0.5 -0.03 0.5 -0.36 0.5 0.32 0.5 -0.09 0.5 0.23 0.5 -0.35 0.5 0.31 0.5 -0.84 0.5 0.87 0.5 -1.01 0.5 0.69 0.5 -0.31 0.5 0.68 0.5 -0.82 0.5 0.87 0.5 -0.49 0.5 0.49 0.5 0 0.5 0.2 0.5 -0.28 0.5 0.7 0.5 -0.5 0.5 0 0.5 0.14 0.5 0.49 0.5 -0.16 0.5 0.06 0.5 -0.06 0.5 0.31 0.5 -1.08 0.5 0.6 0.5 -0.71 0.5 -0.01 0.5 -0.91 0.5 0.68 0.5 -0.6 0.5 0.32 0.5 -0.86 0.5 0.25 0.5 -0.79 0.5 0.68 0.5 -0.88 0.5 0.63 0.5 -1.03 0.5 0.74 0.5 -0.46 0.5 0.92 0.5 -0.04 0.5 0.43 0.5 -0.33 0.5 0.96 0.5 -0.31 0.5 1.01 0.5 -0.67 0.5 1.31 0.5 -0.79 0.5 0.86 0.5 -0.34 0.5 1.07 0.5 -0.45 0.5 0.32 0.5 -0.99 0.5 0.4 0.5 -0.41 0.5 0.46 0.5 -0.82 0.5 0.53 0.5 -0.92 0.5 0.65 0.5 -0.52 0.5 0.29 0.5 -0.82 0.5 0.47 0.5 -0.57 0.5 0.13 0.5 -0.7 0.5 0.5 0.5 -0.83 0.5 1.19 0.5 -0.74 0.5 0.27 0.5 -0.09 0.5 0.06 0.5 -0.38 0.5 0.33 0.5 -0.18 0.5 0.4 0.5 -0.59 0.5 0.56 0.5 -0.3 0.5 -0.38 0.5 -0.27 0.5 0.51 0.5 -0.72 0.5 0.25 0.5 -0.82 0.5 0.55 0.5 -0.83 0.5 0.06 0.5 -0.47 0.5 0.11 0.5 -0.8 0.5 0.75 0.5 -0.95 0.5 -0.32 0.5 -0.27 0.5 0.45 0.5 -0.92 0.5 0.71 0.5 0.15 0.5 0.54 0.5 -0.17 0.5 0.8 0.5 -0.14 0.5 0.69 0.5 0.3 0.5 0.58 0.5 -0.12 0.5 0.85 0.5 0.11 0.5 1.04 0.5 -0.64 0.5 0.83 0.5 -0.31 0.5 0.08 0.5 -0.91 0.5 0.37 0.5 -0.8 0.5 0.11 0.5 -0.85 0.5 0.32 0.5 -0.82 0.5 0.16 0.5 -1.08 0.5 0.38 0.5 -1.18 0.5 0.79 0.5 -0.98 0.5 0.28 0.5 -1.32 0.5 1.11 0.5 -0.27 0.5 0.76 0.5 -0.1 0.5 0.45 0.5 0.13 0.5 1.04 0.5 -0.6 0.5 0.93 0.5 -0.38 0.5 1.3 0.5 -0.39 0.5 0.99 0.5 -0.38 0.5 1.2 0.5 -0.34 0.5 0.56 0.5 -0.65 0.5 0.74 0.5 -0.78 0.5 0.52 0.5 -0.59 0.5 0.56 0.5 -0.78 0.5 1.15 0.5 -0.69 0.5 -0.11 0.5 -0.47 0.5 0.48 0.5 -0.17 0.5 0.11 0.5 -0.49 0.5 0.45 0.5 -0.38 0.5 0.92 0.5 -0.24 0.5 0.29 0.5 -0.25 0.5 0.72 0.5 -0.59 0.5 0.66 0.5 -0.94 0.5 1 0.5 -0.73 0.5 0.2 0.5 -0.06 0.5 0.51 0.5 -0.76 0.5 0.42 0.5 -1.4 0.5 0.17 0.5 -1.14 0.5 0.46 0.5 -1.53 0.5 0.55 0.5 -1.39 0.5 0.22 0.5 -1.38 0.5 0.05 0.5 -1.11 0.5 0.21 0.5 -1.22 0.5 0.19 0.5 -1.49 0.5 1.43 0.5 -0.09 0.5 0.9 0.5 -0.15 0.5 1.06 0.5 -0.3 0.5 1.03 0.5 0.12 0.5 1.22 0.5 -0.09 0.5 1.33 0.5 -0.2 0.5 1.33 0.5 -0.15 0.5 1.19 0.5 0.58 0.5 0.28 0.5 -0.78 0.5 0.32 0.5 -0.42 0.5 0.77 0.5 -1.24 0.5 0.54 0.5 -0.6 0.5 0.17 0.5 -0.97 0.5 0.97 0.5 -0.97 0.5 0.65 0.5 -0.84 0.5 0.23 0.5 -1.14 0.5 1.45 0.5 -0.46 0.5 0.83 0.5 -0.34 0.5 0.86 0.5 -0.26 0.5 0.51 0.5 -0.1 0.5 0.59 0.5 -0.36 0.5 0.95 0.5 -0.51 0.5 0.89 0.5 -0.47 0.5 0.64 0.5 -0.2 0.5 0.11 0.5 -1.22 0.5 0.04 0.5 -0.62 0.5 -0.43 0.5 -0.64 0.5 -0.1 0.5 -0.72 0.5 0 0.5 -0.59 0.5 -0.03 0.5 -1.11 0.5 0.19 0.5 -0.65 0.5 0.17 0.5 -1.21 0.5 0.87 0.5 -0.49 0.5 1.51 0.5 -0.41 0.5 0.54 0.5 -0.1 0.5 0.59 0.5 -0.36 0.5 0.86 0.5 -0.22 0.5 0.58 0.5 -0.19 0.5 0.71 0.5 -0.78 0.5 0.87 0.5 -0.01 0.5 0.25 0.5 -0.84 0.5 0.48 0.5 -0.86 0.5 0.44 0.5 -0.65 0.5 0.07 0.5 -0.69 0.5 0.48 0.5 -1.03 0.5 -0.14 0.5 -0.19 0.5 -0.15 0.5 -0.74 0.5 0.57 0.5 -0.58 0.5 0.33 0.5 -0.73 0.5 0.5 0.5 -0.63 0.5 0.54 0.5 -0.19 0.5 0.47 0.5 -0.49 0.5 0.39 0.5 -0.2 0.5 0.34 0.5 -0.06 0.5 0.99 0.5 -1.03 0.5 0.67 0.5 0.01 0.5 0.37 0.5 -0.11 0.5 0.22 0.5 -0.14 0.5 0.84 0.5 -0.61 0.5 0.43 0.5 -0.86 0.5 1.21 0.5 -0.66 0.5 0.85 0.5 -0.21 0.5 0.03 0.5 -0.28 0.5 0.88 0.5 -0.26 0.5 0.16 0.5 -0.44 0.5 0.14 0.5 -0.46 0.5 0.56 0.5 -0.5 0.5 0.44 0.5 -0.62 0.5 0.83 0.5 -0.79 0.5 0.57 0.5 -0.53 0.5 0.53 0.5 -0.37 0.5 0.54 0.5 -0.91 0.5 1.13 0.5 -0.59 0.5 1.1 0.5 -0.08 0.5 1.19 0.5 -0.46 0.5 1.04 0.5 -0.65 0.5 1.29 0.5 -0.46 0.5 0.65 0.5 -0.32 0.5 0.91 0.5 -0.58 0.5 0.84 0.5 -0.19 0.5 0.64 0.5 -0.83 0.5 0.79 0.5 -0.89 0.5 0.17 0.5 -0.44 0.5 0.15 0.5 -0.71 0.5 0.62 0.5 -0.34 0.5 -0.04 0.5 -0.31 0.5 0.07 0.5 -0.45 0.5 0.51 0.5 -0.82 0.5 0.82 0.5 -0.57 0.5 0.54 0.5 -0.05 0.5 0.8 0.5 -0.05 0.5 0.45 0.5 -0.37 0.5 0.82 0.5 -0.68 0.5 0.92 0.5 -0.28 0.5 0.49 0.5 -0.68 0.5 0.94 0.5 -0.28 0.5 0.27 0.5 -0.77 0.5 0.75 0.5 -1.17 0.5 0.8 0.5 -0.72 0.5 0.34 0.5 -0.53 0.5 0.73 0.5 -0.68 0.5 0.4 0.5 -0.47 0.5 0.47 0.5 -0.98 0.5 1.02 0.5 -0.8 0.5 0.63 0.5 -0.59 0.5 0.87 0.5 -0.95 0.5 0.84 0.5 -0.69 0.5 0.54 0.5 -0.77 0.5 1.1 0.5 -0.8 0.5 0.66 0.5 -0.51 0.5 0.53 0.5 -0.78 0.5 1.26 0.5 -0.77 0.5 0.52 0.5 -0.79 0.5 0.43 0.5 -0.66 0.5 0.51 0.5 -0.71 0.5 0.7 0.5 -1.27 0.5 0.38 0.5 -0.58 0.5 0.65 0.5 -0.84 0.5 0.02 0.5 -0.28 0.5 0.59 0.5 -1.11 0.5 0.56 0.5 -0.94 0.5 0.18 0.5 -0.46 0.5 0.11 0.5 -1.1 0.5 0.82 0.5 -1.42 0.5 1.17 0.5 -1.66 0.5 0.68 0.5 -1.05 0.5 0.87 0.5 -0.64 0.5 -0.13 0.5 -0.45 0.5 0.38 0.5 -0.59 0.5 1.11 0.5 -0.28 0.5 0.5 0.5 -0.48 0.5 0.89 0.5 -0.61 0.5 0.82 0.5 -0.49 0.5 0.62 0.5 -0.49 0.5 0.73 0.5 -0.66 0.5 0.67 0.5 -0.57 0.5 0.82 0.5 -0.94 0.5 0.85 0.5 -0.62 0.5 0.29 0.5 -0.64 0.5 0.87 0.5 -0.86 0.5 0.92 0.5 -1.21 0.5 0.55 0.5 -0.25 0.5 0.63 0.5 -0.67 0.5 0.41 0.5 -0.25 0.5 0.51 0.5 -0.41 0.5 0.55 0.5 -0.81 0.5 0.67 0.5 -0.36 0.5 0.38 0.5 -0.73 0.5 0.65 0.5 -0.2 0.5 0.65 0.5 -0.96 0.5 0.59 0.5 -0.71 0.5 0.51 0.5 -1.13 0.5 1.32 0.5 -1.23 0.5 0.59 0.5 -0.72 0.5 0.16 0.5 -0.87 0.5 0.84 0.5 -0.81 0.5 0.5 0.5 -0.58 0.5 -0.11 0.5 -0.72 0.5 0.64 0.5 -0.65 0.5 0.44 0.5 -1.2 0.5 1.18 0.5 -0.17 0.5 1.02 0.5 0.14 0.5 0.76 0.5 0.26 0.5 0.81 0.5 0.43 0.5 0.61 0.5 0.19 0.5 1.13 0.5 -0.41 0.5 1.29 0.5 -0.13 0.5 0.87 0.5 0 0.5 0.96 0.5 -1.06 0.5 0.51 0.5 -1.2 0.5 0.42 0.5 -0.26 0.5 0.28 0.5 -0.96 0.5 0.55 0.5 -0.73 0.5 0.2 0.5 -0.23 0.5 -0.13 0.5 0.05 0.5 -0.33 0.5 -0.55 0.5 1.06 0.5 -0.51 0.5 0.92 0.5 -0.76 0.5 0.51 0.5 0.18 0.5 0.45 0.5 -0.21 0.5 1 0.5 -0.34 0.5 0.02 0.5 0.1 0.5 0.4 0.5 -0.27 0.5 0.74 0.5 0.12 0.5 -0.18 0.5 -1.33 0.5 0.46 0.5 -1.47 0.5 0.57 0.5 -1.46 0.5 0.36 0.5 -0.9 0.5 -0.3 0.5 -0.66 0.5 0.13 0.5 -1.02 0.5 -0.09 0.5 -0.73 0.5 0.03 0.5 -0.78 0.5 0.29 0.5 -0.07 0.5 0.63 0.5 -0.54 0.5 1.24 0.5 -0.93 0.5 0.83 0.5 -0.29 0.5 0.39 0.5 -0.11 0.5 0.25 0.5 -0.56 0.5 0.74 0.5 -0.55 0.5 1.01 0.5 -0.72 0.5 0.43 0.5 1.73 0.5 5.06 0.5 3.96 0.5 5.09 0.5 3.9 0.5 5.17 0.5 2.83 0.5 2.15 0.5 0.62 0.5 2.47 0.5 1.1 0.5 1.7 0.5 1.63 0.5 2.01 0.5 0.47 0.5 0.34 0.5 -0.8 0.5 0.88 0.5 -0.62 0.5 0.61 0.5 -0.18 0.5 0.12 0.5 -0.17 0.5 0.09 0.5 -0.35 0.5 0.24 0.5 -0.59 0.5 0.96 0.5 -0.87 0.5 0.12 0.5 -0.22 0.5 0.49 0.5 -0.89 0.5 0.21 0.5 -0.66 0.5 0.62 0.5 -0.82 0.5 0.45 0.5 -0.96 0.5 1.08 0.5 -0.88 0.5 0.17 0.5 -0.76 0.5 1.02 0.5 -0.84 0.5 0.17 0.5 -0.15 0.5 0.96 0.5 -0.46 0.5 0.96 0.5 0.09 0.5 0.58 0.5 -0.28 0.5 0.8 0.5 0.17 0.5 1.2 0.5 -0.53 0.5 0.6 0.5 0.06 0.5 1.01 0.5 -0.62 0.5 1.07 0.5 -0.45 0.5 0.95 0.5 -1.33 0.5 0.28 0.5 -0.45 0.5 0.74 0.5 -1 0.5 0.67 0.5 -0.93 0.5 0.63 0.5 -1.04 0.5 0.34 0.5 -0.77 0.5 0.54 0.5 -0.56 0.5 0.62 0.5 -1.03 0.5 0.8 0.5 -1.13 0.5 0.74 0.5 -1.11 0.5 0.53 0.5 -0.59 0.5 0.27 0.5 -0.11 0.5 -0.09 0.5 -0.69 0.5 0.05 0.5 -0.64 0.5 0.74 0.5 -0.84 0.5 0.28 0.5 -0.82 0.5 0.83 0.5 0.03 0.5 0.88 0.5 -0.27 0.5 1.26 0.5 0.22 0.5 0.67 0.5 0 0.5 0.78 0.5 -0.02 0.5 1.33 0.5 -0.33 0.5 0.94 0.5 0.18 0.5 0.83 0.5 0.02 0.5 0.01 0.5 0 0.5 -0.17 0.5 -0.44 0.5 0.21 0.5 -0.52 0.5 0.58 0.5 -0.88 0.5 0.86 0.5 -0.96 0.5 0.2 0.5 -0.34 0.5 0.24 0.5 -0.52 0.5 0.46 0.5 -0.52 0.5 0.35 0.5 -0.25 0.5 0.84 0.5 -0.69 0.5 0.49 0.5 -0.11 0.5 0.56 0.5 -0.74 0.5 0.61 0.5 -0.36 0.5 0.83 0.5 -0.93 0.5 0.77 0.5 -0.19 0.5 0.3 0.5 -0.53 0.5 0.18 0.5 -0.71 0.5 -0.26 0.5 -0.8 0.5 0.2 0.5 -0.89 0.5 0.02 0.5 -1.43 0.5 0.45 0.5 -0.83 0.5 0.46 0.5 -1.49 0.5 0.65 0.5 -1.37 0.5 0.37 0.5 -1.07 0.5 0.61 0.5 -0.06 0.5 0.75 0.5 0.06 0.5 0.91 0.5 -0.47 0.5 0.9 0.5 -0.27 0.5 1.15 0.5 -0.46 0.5 0.66 0.5 0.07 0.5 1.52 0.5 -1.06 0.5 1.32 0.5 -0.33 0.5 0.28 0.5 -1.18 0.5 -0.28 0.5 -0.95 0.5 -0.34 0.5 -5.83 0.5 -10.03 0.5 -11.11 0.5 -10.02 0.5 -8.2 0.5 -2.64 0.5 -3.76 0.5 -2.62 0.5 -3.83 0.5 -2.57 0.5 -3.81 0.5 -6.03 0.5 -2.17 0.5 0.85 0.5 -0.79 0.5 0.93 0.5 -0.55 0.5 0.47 0.5 -0.35 0.5 0.46 0.5 -0.23 0.5 0.6 0.5 -0.21 0.5 0.7 0.5 -0.17 0.5 0.16 0.5 -0.26 0.5 0.08 0.5 -0.76 0.5 0.53 0.5 -1.13 0.5 0.03 0.5 -0.97 0.5 0 0.5 -1.04 0.5 0.54 0.5 -1.13 0.5 0.49 0.5 -1.2 0.5 0.49 0.5 -1.31 0.5 0.19 0.5 -0.5 0.5 0.03 0.5 -0.56 0.5 0.55 0.5 -0.64 0.5 -0.01 0.5 -0.15 0.5 0.22 0.5 -0.8 0.5 1.02 0.5 -0.97 0.5 1.11 0.5 -0.35 0.5 0.48 0.5 -0.42 0.5 0.46 0.5 -0.22 0.5 1.11 0.5 -0.86 0.5 0.63 0.5 -0.57 0.5 0.57 0.5 -0.55 0.5 0.65 0.5 -1 0.5 0.64 0.5 -0.33 0.5 0.87 0.5 -0.93 0.5 1.08 0.5 -0.85 0.5 1.22 0.5 -0.71 0.5 0.64 0.5 -1.09 0.5 -0.21 0.5 -0.59 0.5 0.44 0.5 -0.9 0.5 0.09 0.5 -1.11 0.5 0.38 0.5 -0.82 0.5 0.29 0.5 -1.04 0.5 0.24 0.5 -0.89 0.5 0.37 0.5 -1.28 0.5 0.75 0.5 -0.46 0.5 0.28 0.5 -0.55 0.5 0.36 0.5 -0.38 0.5 0.58 0.5 -0.45 0.5 0.44 0.5 -0.87 0.5 0.86 0.5 -0.87 0.5 0.65 0.5 -0.61 0.5 1.12 0.5 -0.74 0.5 0.4 0.5 0.16 0.5 1.13 0.5 -0.24 0.5 0.82 0.5 -0.17 0.5 0.98 0.5 -0.17 0.5 0.96 0.5 -0.34 0.5 1.41 0.5 -0.43 0.5 1.54 0.5 -0.52 0.5 1.01 0.5 0.02 0.5 0.25 0.5 -0.88 0.5 0.11 0.5 -0.85 0.5 0.34 0.5 -0.37 0.5 0.05 0.5 -0.73 0.5 0.41 0.5 -1.05 0.5 0.53 0.5 -0.91 0.5 0.28 0.5 -0.7 0.5 0.25 0.5 -0.62 0.5 0.38 0.5 -0.73 0.5 0.7 0.5 -1.12 0.5 0.69 0.5 -0.82 0.5 0.07 0.5 -0.85 0.5 0.43 0.5 -0.55 0.5 0.27 0.5 -0.78 0.5 0.39 0.5 -0.89 0.5 0.48 0.5 -1.49 0.5 1.23 0.5 -0.51 0.5 1.41 0.5 -0.55 0.5 0.92 0.5 -0.58 0.5 1.13 0.5 -0.21 0.5 0.7 0.5 -0.19 0.5 0.9 0.5 -0.57 0.5 1.2 0.5 -0.32 0.5 0.86 0.5 0.2 0.5 0.66 0.5 -0.57 0.5 0.74 0.5 -0.12 0.5 0.45 0.5 -0.09 0.5 0.98 0.5 -0.88 0.5 1.09 0.5 -0.66 0.5 1.72 0.5 -0.98 0.5 0.94 0.5 -0.18 0.5 0.34 0.5 -0.17 0.5 0.11 0.5 -0.3 0.5 -0.03 0.5 -0.76 0.5 0.24 0.5 -0.48 0.5 -0.03 0.5 -1.02 0.5 0.2 0.5 -0.66 0.5 -0.01 0.5 -0.63 0.5 0.21 0.5 -0.84 0.5 0.12 0.5 -0.83 0.5 0.53 0.5 -0.4 0.5 0.91 0.5 -0.71 0.5 0.63 0.5 -0.39 0.5 -0.07 0.5 0.09 0.5 0.17 0.5 -0.13 0.5 0.41 0.5 -0.4 0.5 -0.01 0.5 -0.2 0.5 0.84 0.5 -0.39 0.5 0.35 0.5 -0.86 0.5 0.95 0.5 -0.49 0.5 0.96 0.5 -0.93 0.5 1.12 0.5 -0.76 0.5 0.65 0.5 -0.48 0.5 0.74 0.5 -0.67 0.5 0.5 0.5 -0.57 0.5 0.71 0.5 -0.58 0.5 0.14 0.5 -0.74 0.5 0.2 0.5 -0.91 0.5 0.22 0.5 -1.24 0.5 0.43 0.5 -0.86 0.5 0.16 0.5 -0.83 0.5 0.36 0.5 -0.63 0.5 0.15 0.5 -1.33 0.5 0.41 0.5 -0.92 0.5 0.73 0.5 -0.42 0.5 0.93 0.5 -0.2 0.5 1.02 0.5 -0.13 0.5 0.67 0.5 -0.69 0.5 0.94 0.5 -0.11 0.5 0.88 0.5 -0.29 0.5 0.33 0.5 0.09 0.5 0.65 0.5 -0.15 0.5 0.48 0.5 -0.18 0.5 0.53 0.5 -0.07 0.5 0.49 0.5 -0.04 0.5 0.01 0.5 -0.44 0.5 1.22 0.5 -0.67 0.5 0.66 0.5 -0.62 0.5 0.91 0.5 -0.46 0.5 0.58 0.5 -0.33 0.5 0.6 0.5 -1.19 0.5 0.56 0.5 -1.2 0.5 0.32 0.5 -0.89 0.5 0.3 0.5 -0.73 0.5 0.43 0.5 -0.59 0.5 0.03 0.5 -0.23 0.5 -0.16 0.5 -0.34 0.5 0.36 0.5 -0.79 0.5 0.62 0.5 -0.24 0.5 0.2 0.5 0.34 0.5 0.53 0.5 -0.44 0.5 0.64 0.5 -0.66 0.5 0.86 0.5 -0.65 0.5 0.98 0.5 -0.34 0.5 0.3 0.5 0.05 0.5 0.5 0.5 -0.54 0.5 0.55 0.5 -1.04 0.5 0.35 0.5 -0.82 0.5 0.17 0.5 -0.74 0.5 0.04 0.5 -0.55 0.5 0.66 0.5 -1.17 0.5 0.35 0.5 -0.87 0.5 0.02 0.5 -0.76 0.5 0.44 0.5 -0.87 0.5 0.38 0.5 -0.54 0.5 0.63 0.5 -0.54 0.5 0.22 0.5 -0.16 0.5 0.6 0.5 -0.77 0.5 0.32 0.5 -0.16 0.5 0.39 0.5 -0.08 0.5 0.33 0.5 -0.12 0.5 0.89 0.5 -0.73 0.5 0.57 0.5 -0.69 0.5 0.87 0.5 -0.49 0.5 0.5 0.5 -0.82 0.5 1.11 0.5 -0.38 0.5 0.56 0.5 -0.67 0.5 0.5 0.5 -0.43 0.5 0.77 0.5 -1.46 0.5 1.43 0.5 -1.07 0.5 0.67 0.5 -0.58 0.5 0.39 0.5 -0.11 0.5 0.02 0.5 -0.12 0.5 0.13 0.5 0.01 0.5 0.29 0.5 -0.24 0.5 0.69 0.5 -0.39 0.5 0.44 0.5 -0.37 0.5 0.8 0.5 -0.73 0.5 0.87 0.5 0.09 0.5 -0.03 0.5 0.36 0.5 0.56 0.5 -0.44 0.5 0.65 0.5 0.01 0.5 1.03 0.5 -0.51 0.5 1.21 0.5 -0.8 0.5 0.93 0.5 -0.27 0.5 0.74 0.5 -0.24 0.5 0.2 0.5 -0.94 0.5 0.46 0.5 -0.67 0.5 0.38 0.5 -1.23 0.5 0.7 0.5 -1.12 0.5 0.25 0.5 -1.07 0.5 0.47 0.5 -1.01 0.5 0.21 0.5 -0.59 0.5 0.28 0.5 -1.01 0.5 1.35 0.5 -0.05 0.5 1.13 0.5 -0.09 0.5 1.02 0.5 0.18 0.5 1.38 0.5 -0.1 0.5 1.24 0.5 0.08 0.5 1.38 0.5 -0.31 0.5 1.57 0.5 0.19 0.5 0.64 0.5 0.07 0.5 0.3 0.5 -0.95 0.5 -0.02 0.5 -1.37 0.5 -0.07 0.5 -1.37 0.5 -0.06 0.5 -1.09 0.5 -0.56 0.5 -1.19 0.5 0.02 0.5 -1.13 0.5 -0.62 0.5 -1.23 0.5 -0.04 0.5 -1.29 0.5 0.8 0.5 -0.77 0.5 0.34 0.5 -0.67 0.5 0.57 0.5 -0.6 0.5 0.9 0.5 -0.11 0.5 0.32 0.5 -0.63 0.5 0.81 0.5 -0.57 0.5 1.14 0.5 -0.68 0.5 0.54 0.5 -0.24 0.5 0.86 0.5 -0.62 0.5 0.77 0.5 -0.15 0.5 0.37 0.5 -0.15 0.5 1.15 0.5 -0.29 0.5 1.01 0.5 -0.6 0.5 0.76 0.5 -0.48 0.5 0.81 0.5 -0.11 0.5 0.7 0.5 -0.26 0.5 0.34 0.5 -0.29 0.5 0.21 0.5 -0.63 0.5 1.17 0.5 -0.61 0.5 0.69 0.5 -0.84 0.5 0.86 0.5 -0.65 0.5 0.36 0.5 -0.23 0.5 0.23 0.5 -0.22 0.5 0.65 0.5 -0.88 0.5 1.05 0.5 -0.83 0.5 0.68 0.5 -0.17 0.5 0.56 0.5 -0.81 0.5 1.55 0.5 -1.03 0.5 0.65 0.5 -0.66 0.5 0.53 0.5 -0.43 0.5 0.64 0.5 -0.61 0.5 0.63 0.5 -0.26 0.5 0.48 0.5 0.01 0.5 0.68 0.5 -0.67 0.5 0.87 0.5 -0.57 0.5 0.96 0.5 -0.38 0.5 0.81 0.5 -0.39 0.5 0.85 0.5 -0.35 0.5 0.56 0.5 -0.25 0.5 0.58 0.5 -0.67 0.5 0.96 0.5 -0.5 0.5 0.68 0.5 -0.16 0.5 0.4 0.5 -0.19 0.5 0.33 0.5 -0.59 0.5 0.83 0.5 -0.15 0.5 0.08 0.5 -0.22 0.5 0.79 0.5 -0.52 0.5 0.38 0.5 -0.34 0.5 0.1 0.5 -0.77 0.5 -0.19 0.5 -1.17 0.5 0 0.5 -0.89 0.5 -0.28 0.5 -1.21 0.5 0.35 0.5 -0.76 0.5 -0.07 0.5 -1.22 0.5 0.57 0.5 -1.52 0.5 0.22 0.5 -1.28 0.5 0.38 0.5 -0.41 0.5 0.37 0.5 -0.91 0.5 0.85 0.5 -0.85 0.5 0.97 0.5 -0.71 0.5 0.36 0.5 -0.85 0.5 0.68 0.5 -0.31 0.5 0.49 0.5 -0.57 0.5 0.19 0.5 -0.08 0.5 0.57 0.5 -0.74 0.5 0.58 0.5 -0.18 0.5 0.3 0.5 -0.24 0.5 0.3 0.5 -0.06 0.5 0.78 0.5 -0.87 0.5 0.54 0.5 -0.58 0.5 1.03 0.5 -0.5 0.5 0.81 0.5 -0.78 0.5 0.67 0.5 4.7 0.5 11.58 0.5 10.42 0.5 10.84 0.5 8.31 0.5 9.71 0.5 8.35 0.5 5.53 0.5 -0.3 0.5 1.32 0.5 -0.67 0.5 1.44 0.5 -0.46 0.5 0.7 0.5 -0.07 0.5 1.47 0.5 -0.48 0.5 1.33 0.5 0.07 0.5 0.76 0.5 0.4 0.5 0.98 0.5 -0.21 0.5 1.5 0.5 -0.06 0.5 0.99 0.5 -0.28 0.5 0.43 0.5 -0.06 0.5 1.05 0.5 0.03 0.5 0.21 0.5 -1.17 0.5 0.14 0.5 -1.02 0.5 -0.13 0.5 -1.04 0.5 0.22 0.5 -0.51 0.5 -0.08 0.5 -0.7 0.5 -0.01 0.5 -1.26 0.5 0.07 0.5 -1.06 0.5 0.58 0.5 -0.92 0.5 0.29 0.5 -0.15 0.5 0.31 0.5 0.36 0.5 0.66 0.5 -0.87 0.5 1.2 0.5 -1.13 0.5 1.28 0.5 -0.12 0.5 0.29 0.5 -0.3 0.5 0.44 0.5 -0.51 0.5 1.03 0.5 -1.03 0.5 0.96 0.5 -0.7 0.5 0.2 0.5 -0.6 0.5 0.63 0.5 -0.93 0.5 0.11 0.5 -0.13 0.5 0.43 0.5 -0.61 0.5 0.62 0.5 -3.88 0.5 -6.88 0.5 -8.03 0.5 -6.89 0.5 -10.99 0.5 -14.41 0.5 -15.58 0.5 -14.46 0.5 -12.34 0.5 -6.13 0.5 -7.4 0.5 -6.11 0.5 -2.28 0.5 -0.47 0.5 -2.42 0.5 -0.58 0.5 -2.21 0.5 -0.7 0.5 -2.32 0.5 -0.11 0.5 -1.38 0.5 0.8 0.5 -1.18 0.5 0.3 0.5 -0.97 0.5 0.64 0.5 -0.46 0.5 0.31 0.5 -1.09 0.5 0.3 0.5 -0.93 0.5 0.09 0.5 -0.43 0.5 0.39 0.5 -1.26 0.5 1.18 0.5 -0.33 0.5 0.55 0.5 -0.49 0.5 0.76 0.5 0.02 0.5 0.45 0.5 -0.05 0.5 1.12 0.5 -0.34 0.5 0.69 0.5 0.29 0.5 0.74 0.5 -0.48 0.5 1.29 0.5 -0.52 0.5 1.07 0.5 -0.24 0.5 0.73 0.5 -0.63 0.5 0.7 0.5 -0.7 0.5 0.42 0.5 0.05 0.5 0.48 0.5 -0.96 0.5 0.88 0.5 -1.17 0.5 0.77 0.5 -0.6 0.5 1.05 0.5 -0.98 0.5 0.04 0.5 -0.16 0.5 0.1 0.5 -0.96 0.5 0.57 0.5 -0.72 0.5 0.37 0.5 -0.7 0.5 0.04 0.5 -0.81 0.5 0.39 0.5 -0.48 0.5 0.11 0.5 -1.01 0.5 0.63 0.5 -0.4 0.5 0.71 0.5 -1.11 0.5 0.7 0.5 -1.23 0.5 1.04 0.5 -0.4 0.5 0.2 0.5 -0.41 0.5 0.56 0.5 -0.47 0.5 0.71 0.5 -0.33 0.5 0.58 0.5 -0.74 0.5 0.78 0.5 -0.69 0.5 0.3 0.5 -0.41 0.5 0.4 0.5 -0.4 0.5 0.74 0.5 -0.08 0.5 0.79 0.5 -0.87 0.5 0.6 0.5 -0.02 0.5 0.11 0.5 -0.02 0.5 0.71 0.5 -0.87 0.5 1.06 0.5 -0.81 0.5 0.97 0.5 -0.58 0.5 0.45 0.5 -1.06 0.5 0.21 0.5 -0.67 0.5 0.42 0.5 -0.91 0.5 0.08 0.5 -0.31 0.5 -0.01 0.5 -0.63 0.5 0 0.5 -0.49 0.5 0.23 0.5 -0.69 0.5 0.61 0.5 -1.02 0.5 0.77 0.5 -0.23 0.5 0.74 0.5 -0.71 0.5 0.8 0.5 -0.41 0.5 0.65 0.5 -0.4 0.5 0.98 0.5 -0.74 0.5 0.97 0.5 -0.68 0.5 0.54 0.5 -0.07 0.5 0.79 0.5 -0.43 0.5 0.5 0.5 -0.71 0.5 0.09 0.5 -0.38 0.5 0.68 0.5 -0.74 0.5 0.23 0.5 -0.62 0.5 0.52 0.5 -0.94 0.5 0.48 0.5 -0.7 0.5 0.29 0.5 -0.99 0.5 0.12 0.5 -0.68 0.5 1.36 0.5 -0.45 0.5 1.22 0.5 -0.51 0.5 1.37 0.5 -0.73 0.5 0.82 0.5 0.36 0.5 0.91 0.5 0.04 0.5 1.45 0.5 -0.5 0.5 1.23 0.5 -0.64 0.5 1.67 0.5 -0.19 0.5 0.17 0.5 -0.91 0.5 0.01 0.5 -1.62 0.5 0.28 0.5 -0.89 0.5 -0.05 0.5 -0.9 0.5 -0.77 0.5 -0.9 0.5 -0.39 0.5 -0.64 0.5 -0.22 0.5 -1.15 0.5 -0.43 0.5 -1 0.5 0.29 0.5 0.24 0.5 0.69 0.5 -0.14 0.5 0.87 0.5 0.01 0.5 0.87 0.5 -0.42 0.5 1.05 0.5 0.19 0.5 0.63 0.5 0 0.5 0.55 0.5 0.17 0.5 1.42 0.5 -0.65 0.5 0.97 0.5 -1.18 0.5 0.68 0.5 -0.62 0.5 0.92 0.5 -0.98 0.5 0.73 0.5 -0.61 0.5 0.68 0.5 -0.65 0.5 0.59 0.5 -0.75 0.5 1.26 0.5 -0.48 0.5 1.38 0.5 0.04 0.5 0.99 0.5 -0.2 0.5 1.5 0.5 0.36 0.5 0.87 0.5 0.13 0.5 -0.89 0.5 9.13 0.5 23.96 0.5 22.78 0.5 19.95 0.5 12.73 0.5 13.98 0.5 8.05 0.5 5.45 0.5 1.44 0.5 1.97 0.5 0.41 0.5 1.78 0.5 1.12 0.5 1.5 0.5 0.96 0.5 1.18 0.5 -0.56 0.5 -0.46 0.5 -0.59 0.5 0.19 0.5 -1.27 0.5 0.82 0.5 -0.98 0.5 0.41 0.5 -1.14 0.5 0.19 0.5 -1.43 0.5 0.78 0.5 -0.59 0.5 0.5 0.5 -0.57 0.5 0.53 0.5 -0.79 0.5 0.71 0.5 -0.6 0.5 0.64 0.5 -0.81 0.5 0.02 0.5 -0.47 0.5 0.42 0.5 -0.68 0.5 0.74 0.5 -0.53 0.5 0.89 0.5 -0.74 0.5 1.02 0.5 -0.78 0.5 0.87 0.5 -0.32 0.5 0.18 0.5 -0.58 0.5 0.87 0.5 -0.78 0.5 0.99 0.5 -0.95 0.5 0.5 0.5 -0.68 0.5 1 0.5 -0.75 0.5 0.66 0.5 -0.85 0.5 0.9 0.5 -0.73 0.5 0.57 0.5 -0.77 0.5 0.84 0.5 -0.57 0.5 0.43 0.5 -0.67 0.5 0.43 0.5 -0.25 0.5 0.68 0.5 -1.04 0.5 1.06 0.5 -1.01 0.5 0.34 0.5 -1.02 0.5 0.34 0.5 -1.19 0.5 0.57 0.5 -0.75 0.5 0 0.5 -0.72 0.5 0.31 0.5 -1.11 0.5 0.41 0.5 -0.79 0.5 0.39 0.5 -1.13 0.5 0.59 0.5 -0.5 0.5 0.74 0.5 -1.09 0.5 0.8 0.5 -0.66 0.5 0.61 0.5 -0.59 0.5 1.14 0.5 -0.94 0.5 0.2 0.5 -0.84 0.5 0.68 0.5 -0.46 0.5 0.26 0.5 -0.21 0.5 -0.18 0.5 -0.71 0.5 0.26 0.5 -0.72 0.5 0.38 0.5 -0.78 0.5 0.31 0.5 -0.61 0.5 0.71 0.5 -1.02 0.5 0.53 0.5 -0.75 0.5 1.17 0.5 0.22 0.5 0.69 0.5 -0.14 0.5 0.98 0.5 0.17 0.5 0.68 0.5 -0.32 0.5 1.09 0.5 -0.25 0.5 1.27 0.5 -0.1 0.5 1.11 0.5 -0.25 0.5 1.37 0.5 -0.78 0.5 1.18 0.5 0.21 0.5 0.41 0.5 -0.21 0.5 0.38 0.5 -0.38 0.5 0.5 0.5 -0.19 0.5 0.21 0.5 -0.5 0.5 1.25 0.5 -0.55 0.5 0.19 0.5 -0.67 0.5 0.89 0.5 -0.88 0.5 0.95 0.5 -0.83 0.5 1.16 0.5 -1.34 0.5 1.04 0.5 -0.08 0.5 0.63 0.5 -0.67 0.5 0.68 0.5 -0.52 0.5 0.48 0.5 -5.58 0.5 -13.14 0.5 -14.38 0.5 -13.14 0.5 -14.86 0.5 -14.39 0.5 -15.61 0.5 -14.41 0.5 -11.56 0.5 -4.25 0.5 -5.44 0.5 -4.25 0.5 -5.46 0.5 -4.24 0.5 -5.43 0.5 -4.26 0.5 -3.36 0.5 0.44 0.5 -0.73 0.5 0.29 0.5 -0.68 0.5 0.38 0.5 -0.85 0.5 0.42 0.5 -0.8 0.5 0.18 0.5 -1.04 0.5 0.1 0.5 -1.24 0.5 0.08 0.5 -1.04 0.5 0.21 0.5 -1.18 0.5 0.4 0.5 -1.08 0.5 0.25 0.5 -0.95 0.5 0.18 0.5 -0.81 0.5 0.14 0.5 -1.01 0.5 0.5 0.5 -0.65 0.5 0.47 0.5 -0.62 0.5 0.4 0.5 -0.61 0.5 0.52 0.5 -0.75 0.5 0.54 0.5 -0.79 0.5 0.55 0.5 -0.68 0.5 0.49 0.5 -0.75 0.5 0.55 0.5 -0.64 0.5 0.36 0.5 -0.95 0.5 0.34 0.5 -0.77 0.5 0.28 0.5 -0.8 0.5 0.41 0.5 -0.95 0.5 0.41 0.5 -0.91 0.5 0.48 0.5 -0.98 0.5 0.26 0.5 -0.69 0.5 0.27 0.5 -0.89 0.5 0.34 0.5 -0.98 0.5 0.26 0.5 -0.84 0.5 0.34 0.5 -0.76 0.5 0.43 0.5 -0.84 0.5 0.17 0.5 -0.62 0.5 0.34 0.5 -0.72 0.5 0.38 0.5 -0.8 0.5 0.36 0.5 -0.7 0.5 0.46 0.5 -0.75 0.5 0.63 0.5 -0.74 0.5 0.36 0.5 -0.6 0.5 0.53 0.5 -0.79 0.5 0.54 0.5 -0.67 0.5 0.48 0.5 -0.58 0.5 0.42 0.5 -0.77 0.5 0.45 0.5 -0.62 0.5 0.58 0.5 -0.61 0.5 0.84 0.5 -0.46 0.5 0.76 0.5 -0.33 0.5 0.6 0.5 -0.23 0.5 0.76 0.5 -0.54 0.5 0.83 0.5 -0.31 0.5 0.67 0.5 -0.44 0.5 0.82 0.5 -0.47 0.5 0.65 0.5 -0.47 0.5 0.7 0.5 -0.73 0.5 0.73 0.5 -1.73 0.5 -0.41 0.5 -1.7 0.5 -0.39 0.5 -1.79 0.5 1.39 0.5 3.38 0.5 4.25 0.5 8.8 0.5 18.6 0.5 17.37 0.5 18.63 0.5 17.4 0.5 19.93 0.5 20.74 0.5 21.95 0.5 12.39 0.5 0.78 0.5 0.03 0.5 1.23 0.5 -1.03 0.5 1.45 0.5 -0.39 0.5 1.69 0.5 -0.54 0.5 0.88 0.5 -0.36 0.5 1.68 0.5 0.35 0.5 1.36 0.5 -0.01 0.5 1.27 0.5 -0.36 0.5 1.5 0.5 -0.73 0.5 0.84 0.5 -0.53 0.5 0.58 0.5 0.15 0.5 0.55 0.5 -0.61 0.5 0.84 0.5 -0.65 0.5 0.78 0.5 -0.61 0.5 0.06 0.5 -0.38 0.5 0.49 0.5 -0.53 0.5 0.29 0.5 -0.48 0.5 0.68 0.5 -0.75 0.5 0.62 0.5 -0.87 0.5 0.76 0.5 -0.37 0.5 0.17 0.5 -0.42 0.5 0.55 0.5 -0.24 0.5 0.63 0.5 -0.93 0.5 0.97 0.5 -0.34 0.5 1.11 0.5 -1.05 0.5 0.77 0.5 -0.31 0.5 0.58 0.5 -0.82 0.5 1.46 0.5 -1.23 0.5 0.95 0.5 -0.3 0.5 0.44 0.5 -0.05 0.5 0.32 0.5 -0.43 0.5 0.52 0.5 -0.31 0.5 0.59 0.5 -0.4 0.5 0.46 0.5 -0.54 0.5 1.01 0.5 -0.57 0.5 0.88 0.5 -0.2 0.5 0.71 0.5 -0.57 0.5 0.25 0.5 -0.81 0.5 0.32 0.5 -0.79 0.5 0.12 0.5 -0.51 0.5 0.48 0.5 -0.85 0.5 0.24 0.5 -0.65 0.5 0.1 0.5 -0.59 0.5 0.25 0.5 -0.64 0.5 0.16 0.5 -0.55 0.5 0.32 0.5 -0.41 0.5 1.17 0.5 -0.43 0.5 0.76 0.5 -0.75 0.5 0.73 0.5 -0.38 0.5 0.45" stroke="#0000ff" stroke-dasharray="11 18"/>
<path d="M245.9 469.8V469.8H248.7V466.5H250.7V467.6H252.7V471.6H254.7V469.0H256.7V470.2H258.7V470.4H260.7V469.1H262.7V470.0H264.7V469.8H266.7V470.0H268.7V468.1H270.7V470.3H272.7V471.6H274.7V471.2H276.7V470.0H278.7V470.2H280.7V473.3H282.7V473.6H284.7V473.0H286.7V461.8H288.7V459.5H290.7V461.8H292.7V460.0H294.7V456.9H296.7V461.2H298.7V467.8H300.7V465.7H302.7V466.0H304.7V470.7H306.7V469.3H308.7V471.0H310.7V469.7H312.7V470.4H314.7V469.4H316.7V470.4H318.7V469.3H320.7V469.1H322.7V471.7H324.7V469.9H326.7V471.8H328.7V468.9H330.7V470.6H332.7V469.5H334.7V467.9H336.7V467.6H338.7V468.0H340.7V472.0H342.7V473.3H344.7V473.3H346.7V471.1H348.7V468.7H350.7V469.6H352.7V469.5H354.7V471.9H356.7V471.9H358.7V472.5H360.7V473.1H362.7V471.2H364.7V473.1H366.7V474.3H368.7V474.4H370.7V475.4H372.7V475.9H374.7V476.5H376.7V477.0H378.7V478.4H380.7V477.3H382.7V478.4H384.7V477.6H386.7V475.8H388.7V474.9H390.7V475.9H392.7V474.0H394.7V470.3H396.7V473.2H398.7V477.3H400.7V477.0H402.7V475.3H404.7V476.7H406.7V477.5H408.7V479.0H410.7V479.3H412.7V478.2H414.7V477.9H416.7V477.1H418.7V474.5H420.7V477.2H422.7V480.7H424.7V473.2H426.7V474.5H428.7V476.5H430.7V475.7H432.7V475.5H434.7V473.0H436.7V476.8H438.7V477.2H440.7V471.1H442.7V465.3H444.7V463.6H446.7V463.7H448.7V465.0H450.7V464.1H452.7V472.4H454.7V473.6H456.7V472.3H458.7V475.4H460.7V474.7H462.7V475.9H464.7V475.0H466.7V476.1H468.7V471.7H470.7V472.0H472.7V475.7H474.7V475.0H476.7V476.5H478.7V472.9H480.7V469.5H482.7V475.0H484.7V472.5H486.7V473.0H488.7V472.1H490.7V471.2H492.7V472.7H494.7V472.3H496.7V472.4H498.7V474.8H500.7V477.8H502.7V479.0H504.7V476.7H506.7V473.0H508.7V473.4H510.7V477.0H512.7V476.3H514.7V474.1H516.7V470.0H518.7V468.1H520.7V467.7H522.7V469.7H524.7V473.2H526.7V470.3H528.7V469.8H530.7V470.2H532.7V470.8H534.7V472.7H536.7V475.0H538.7V474.4H540.7V469.3H542.7V466.5H544.7V469.2H546.7V469.9H548.7V468.0H550.7V470.3H552.7V472.6H554.7V476.9H556.7V473.6H558.7V471.2H560.7V469.9H562.7V474.9H564.7V481.7H566.7V488.7H568.7V489.9H570.7V490.4H572.7V491.5H574.7V490.5H576.7V485.3H578.7V480.7H580.7V479.9H582.7V481.1H584.7V481.4H586.7V482.3H588.7V481.1H590.7V478.7H592.7V478.7H594.7V479.5H596.7V481.0H598.7V479.7H600.7V479.1H602.7V480.2H604.7V481.2H606.7V479.9H608.7V481.1H610.7V480.8H612.7V481.0H614.7V480.2H616.7V478.5H618.7V479.5H620.7V481.1H622.7V481.8H624.7V480.9H626.7V478.1H628.7V480.0H630.7V479.3H632.7V481.1H634.7V478.5H636.7V477.2H638.7V480.5H640.7V480.2H642.7V479.0H644.7V478.9H646.7V479.1H648.7V476.8H650.7V479.1H652.7V475.5H654.7V476.4H656.7V477.1H658.7V476.6H660.7V477.2H662.7V478.7H664.7V478.5H666.7V479.6H668.7V479.9H670.7V480.9H672.7V479.2H674.7V477.2H676.7V478.2H678.7V473.6H680.7V475.8H682.7V478.9H684.7V480.3H686.7V481.5H688.7V480.4H690.7V476.8H692.7V474.4H694.7V474.7H696.7V475.3H698.7V472.9H700.7V471.3H702.7V470.9H704.7V475.1H706.7V475.9H708.7V475.1H710.7V476.5H712.7V476.7H714.7V476.6H716.7V473.4H718.7V476.7H720.7V477.8H722.7V478.6H724.7V478.2H726.7V479.6H728.7V478.1H730.7V476.5H732.7V478.8H734.7V480.4H736.7V481.2H738.7V476.6H740.7V475.9H742.7V478.6H744.7V478.7H746.7V476.8H748.7V477.2H750.7V480.1H752.7V482.0H754.7V479.0H756.7V475.7H758.7V479.0H760.7V482.5H762.7V480.4H764.7V477.8H766.7V479.8H768.7V479.3H770.7V479.3H772.7V480.4H774.7V479.8H776.7V479.3H778.7V479.6H780.7V480.2H782.7V481.6H784.7V480.7H786.7V481.2H788.7V478.8H790.7V474.6H792.7V476.3H794.7V480.0H796.7V478.2H798.7V479.1H800.7V479.5H802.7V479.9H804.7V479.7H806.7V480.1H808.7V480.6H810.7V480.5H812.7V481.6H814.7V478.8H816.7V480.7H818.7V478.4H820.7V479.0H822.7V481.9H824.7V483.4H826.7V484.2H828.7V483.3H830.7V482.9H832.7V480.1H834.7V481.0H836.7V482.4H838.7V480.9H840.7V477.3H842.7V479.3H844.7V483.0H846.7V483.1H848.7V483.0H850.7V479.3H852.7V475.0H854.7V479.3H856.7V480.0H858.7V481.4H860.7V478.6H862.7V475.3H864.7V476.4H866.7V481.1H868.7V479.4H870.7V480.0H872.7V482.2H874.7V479.8H876.7V476.9H878.7V481.3H880.7V478.0H882.7V479.5H884.7V479.7H886.7V478.1H888.7V479.9H890.7V478.9H892.7V476.9H894.7V471.2H896.7V477.7H898.7V476.5H900.7V476.8H902.7V481.3H904.7V482.8H906.7V478.1H908.7V473.8H910.7V472.4H912.7V475.2H914.7V477.4H916.7V478.5H918.7V476.5H920.7V475.5H922.7V478.4H924.7V480.3H926.7V478.6H928.7V478.3H930.7V479.0H932.7V477.1H934.7V476.5H936.7V473.3H938.7V473.6H940.7V478.7H942.7V473.4H944.7V473.7H946.7V473.2H948.7V472.4H950.7V471.4H952.7V468.7H954.7V469.9H956.7V470.0H958.7V467.8H960.7V467.8H962.7V469.4H964.7V472.7H966.7V471.5H968.7V477.1H970.7V476.8H972.7V477.3H974.7V477.0H976.7V475.4H978.7V474.1H980.7V475.1H982.7V476.9H984.7V476.0H986.7V475.5H988.7V476.6H990.7V477.5H992.7V476.6H994.7V474.7H996.7V475.5H998.7V475.6H1000.7V476.8H1002.7V473.7H1004.7V473.4H1006.7V475.4H1008.7V478.2H1010.7V477.5H1012.7V476.7H1014.7V478.9H1016.7V477.5H1018.7V479.3H1020.7V476.4H1022.7V476.0H1024.7V478.3H1026.7V479.3H1028.7V476.7H1030.7V476.4H1032.7V480.1H1034.7V485.5H1036.7V494.7H1038.7V506.0H1040.7V513.9H1042.7V507.6H1044.7V503.9H1046.7V499.4H1048.7V496.1H1050.7V495.3H1052.7V494.2H1054.7V492.5H1056.7V491.8H1058.7V491.3H1060.7V488.9H1062.7V489.1H1064.7V487.6H1066.7V483.4H1068.7V481.1H1070.7V482.1H1072.7V484.5H1074.7V487.9H1076.7V486.3H1078.7V488.4H1080.7V487.0H1082.7V489.6H1084.7V487.5H1086.7V484.9H1088.7V484.6H1090.7V484.0H1092.7V482.9H1094.7V482.7H1096.7V485.9H1098.7V485.2H1100.7V484.8H1102.7V485.9H1104.7V484.9H1106.7V486.2H1108.7V485.9H1110.7V485.8H1112.7V482.7H1114.7V480.9H1116.7V474.0H1118.7V471.0H1120.7V470.8H1122.7V471.3H1124.7V468.7H1126.7V470.3H1128.7V483.4H1130.7V486.5H1132.7V483.7H1134.7V483.8H1136.7V485.4H1138.7V481.6H1140.7V482.3H1142.7V486.4H1144.7V484.8H1146.7V486.0H1148.7V485.0H1150.7V485.3H1152.7V480.6H1154.7V479.1H1156.7V482.6H1158.7V485.2H1160.7V485.0H1162.7V483.1H1164.7V482.7H1166.7V486.4H1168.7V481.7H1170.7V482.1H1172.7V487.5H1174.7V483.9H1176.7V482.1H1178.7V487.4H1180.7V483.5H1182.7V485.6H1184.7V485.3H1186.7V486.4H1188.7V485.4H1190.7V484.7H1192.7V481.3H1194.7V484.1H1196.7V485.2H1198.7V486.2H1200.7V484.1H1202.7V486.8H1204.7V487.8H1206.7V488.4H1208.7V487.7H1210.7V484.1H1212.7V480.5H1214.7V481.7H1216.7V484.5H1218.7V484.2H1220.7V486.4H1222.7V486.7H1224.7V485.8H1226.7V484.4H1228.7V484.1H1230.7V485.5H1232.7V482.7H1234.7V483.9H1236.7V483.8H1238.7V485.2H1240.7V485.5H1242.7V484.9H1244.7V488.2H1246.7V487.5H1248.7V484.9H1250.7V482.9H1252.7V484.5H1254.7V486.2H1256.7V484.8H1258.7V484.1H1260.7V482.5H1262.7V481.0H1264.7V481.1H1266.7V482.0H1268.7V484.7H1270.7V486.7H1272.7V487.0H1274.7V485.8H1276.7V487.2H1278.7V487.1H1280.7V486.7H1282.7V487.2H1284.7V483.6H1286.7V485.0H1288.7V486.6H1290.7V482.1H1292.7V482.0H1294.7V485.1H1296.7V481.7H1298.7V480.5H1300.7V481.8H1302.7V484.3H1304.7V484.1H1306.7V485.3H1308.7V486.7H1310.7V487.3H1312.7V484.4H1314.7V482.3H1316.7V484.5H1318.7V486.8H1320.7V484.6H1322.7V483.2H1324.7V476.8H1326.7V455.1H1328.7V444.7H1330.7V443.6H1332.7V443.1H1334.7V443.8H1336.7V443.3H1338.7V449.8H1340.7V458.0H1342.7V463.4H1344.7V466.6H1346.7V468.9H1348.7V471.9H1350.7V469.4H1352.7V468.4H1354.7V469.3H1356.7V468.7H1358.7V469.7H1360.7V472.1H1362.7V472.0H1364.7V472.2H1366.7V472.5H1368.7V472.6H1370.7V480.6H1372.7V512.7H1374.7V529.3H1376.7V523.5H1378.7V518.1H1380.7V511.7H1382.7V502.5H1384.7V493.4H1386.7V489.9H1388.7V486.9H1390.7V483.8H1392.7V482.8H1394.7V482.9H1396.7V481.2H1398.7V480.4H1400.7V481.5H1402.7V481.7H1404.7V482.3H1406.7V481.1H1408.7V483.1H1410.7V483.1H1412.7V486.2H1414.7V486.2H1416.7V486.6H1418.7V486.3H1420.7V485.5H1422.7V484.4H1424.7V485.3H1426.7V484.8H1428.7V483.0H1430.7V483.7H1432.7V489.3H1434.7V486.0H1436.7V487.3H1438.7V488.3H1440.7V488.5H1442.7V489.0H1444.7V487.8H1446.7V488.9H1448.7V491.0H1450.7V491.1H1452.7V490.9H1454.7V491.4H1456.7V489.2H1458.7V488.4H1460.7V489.8H1462.7V489.6H1464.7V489.5H1466.7V489.7H1468.7V488.6H1470.7V488.9H1472.7V488.8H1474.7V486.5H1476.7V479.8H1478.7V456.6H1480.7V441.0H1482.7V433.8H1484.7V431.2H1486.7V431.3H1488.7V430.6H1490.7V430.6H1492.7V431.1H1494.7V436.0H1496.7V441.5H1498.7V447.1H1500.7V453.0H1502.7V459.5H1504.7V466.0H1506.7V469.6H1508.7V471.5H1510.7V474.3H1512.7V475.6H1514.7V477.2H1516.7V478.8H1518.7V480.3H1520.7V482.5H1522.7V483.5H1524.7V483.5H1526.7V483.3H1528.7V484.3H1530.7V481.7H1532.7V481.0H1534.7V482.7H1536.7V482.9H1538.7V483.6H1540.7V481.4H1542.7V479.5H1544.7V481.5H1546.7V483.9H1548.7V481.3H1550.7V481.0H1552.7V482.8H1554.7V483.3H1556.7V479.0H1558.7V480.1H1560.7V484.6H1562.7V485.4H1564.7V487.9H1566.7V512.6H1568.7V540.5H1570.7V515.8H1572.7V510.9H1574.7V511.8H1576.7V509.4H1578.7V496.2H1580.7V496.5H1582.7V496.1H1584.7V496.4H1586.7V495.8H1588.7V493.9H1590.7V491.9H1592.7V491.1H1594.7V489.3H1596.7V488.1H1598.7V488.5H1600.7V490.7H1602.7V490.4H1604.7V492.2H1606.7V491.4H1608.7V492.4H1610.7V491.8H1612.7V491.0H1614.7V491.5H1616.7V494.8H1618.7V491.6H1620.7V489.6H1622.7V488.0H1624.7V483.2H1626.7V459.1H1628.7V439.9H1630.7V428.9H1632.7V421.5H1634.7V418.4H1636.7V417.9H1638.7V418.0H1640.7V418.7H1642.7V419.5H1644.7V430.9H1646.7V445.9H1648.7V449.5H1650.7V452.3H1652.7V458.1H1654.7V462.8H1656.7V467.3H1658.7V469.4H1660.7V471.4H1662.7V473.5H1664.7V474.8H1666.7V476.2H1668.7V478.0H1670.7V480.3H1672.7V479.6H1674.7V478.7H1676.7V477.7H1678.7V474.8H1680.7V474.1H1682.7V473.8H1684.7h0.8V486.0H1682.7V487.3H1680.7V487.0H1678.7V489.7H1676.7V489.9H1674.7V489.7H1672.7V489.3H1670.7V490.4H1668.7V490.8H1666.7V490.1H1664.7V489.0H1662.7V486.5H1660.7V482.6H1658.7V481.8H1656.7V479.8H1654.7V478.8H1652.7V476.7H1650.7V473.1H1648.7V468.6H1646.7V463.4H1644.7V459.1H1642.7V456.6H1640.7V449.0H1638.7V441.8H1636.7V458.0H1634.7V480.0H1632.7V495.5H1630.7V497.3H1628.7V499.9H1626.7V500.7H1624.7V502.8H1622.7V503.2H1620.7V503.1H1618.7V503.8H1616.7V504.4H1614.7V502.2H1612.7V503.8H1610.7V503.9H1608.7V503.4H1606.7V502.1H1604.7V502.6H1602.7V502.3H1600.7V501.8H1598.7V500.4H1596.7V502.5H1594.7V504.8H1592.7V505.2H1590.7V504.5H1588.7V504.6H1586.7V509.7H1584.7V530.8H1582.7V538.2H1580.7V538.0H1578.7V540.7H1576.7V566.7H1574.7V570.2H1572.7V569.0H1570.7V569.3H1568.7V568.9H1566.7V565.1H1564.7V559.7H1562.7V535.3H1560.7V511.5H1558.7V495.9H1556.7V493.9H1554.7V493.2H1552.7V493.1H1550.7V493.0H1548.7V495.3H1546.7V495.0H1544.7V492.1H1542.7V491.9H1540.7V492.6H1538.7V491.7H1536.7V493.9H1534.7V493.7H1532.7V493.5H1530.7V493.4H1528.7V493.0H1526.7V492.6H1524.7V493.9H1522.7V492.3H1520.7V491.4H1518.7V490.9H1516.7V491.7H1514.7V489.5H1512.7V486.7H1510.7V484.8H1508.7V483.4H1506.7V483.0H1504.7V481.5H1502.7V478.2H1500.7V478.1H1498.7V470.9H1496.7V464.1H1494.7V458.3H1492.7V452.2H1490.7V445.8H1488.7V455.2H1486.7V482.4H1484.7V495.6H1482.7V497.6H1480.7V499.4H1478.7V500.3H1476.7V501.1H1474.7V501.0H1472.7V498.7H1470.7V498.8H1468.7V499.1H1466.7V498.3H1464.7V500.0H1462.7V499.2H1460.7V502.0H1458.7V501.7H1456.7V499.5H1454.7V500.5H1452.7V499.5H1450.7V499.5H1448.7V498.7H1446.7V499.7H1444.7V501.7H1442.7V500.7H1440.7V497.9H1438.7V497.4H1436.7V499.3H1434.7V499.7H1432.7V499.2H1430.7V497.3H1428.7V498.1H1426.7V497.0H1424.7V495.1H1422.7V497.2H1420.7V498.8H1418.7V498.5H1416.7V498.6H1414.7V500.2H1412.7V498.7H1410.7V498.0H1408.7V496.0H1406.7V496.9H1404.7V494.2H1402.7V491.4H1400.7V491.3H1398.7V495.3H1396.7V495.8H1394.7V498.4H1392.7V505.4H1390.7V515.0H1388.7V524.2H1386.7V530.0H1384.7V535.5H1382.7V539.0H1380.7V543.4H1378.7V546.8H1376.7V547.8H1374.7V548.2H1372.7V548.6H1370.7V545.8H1368.7V529.6H1366.7V506.5H1364.7V491.9H1362.7V491.0H1360.7V490.8H1358.7V490.5H1356.7V488.3H1354.7V485.2H1352.7V485.0H1350.7V484.7H1348.7V484.6H1346.7V483.8H1344.7V481.8H1342.7V479.5H1340.7V476.1H1338.7V472.2H1336.7V469.0H1334.7V475.9H1332.7V489.4H1330.7V494.1H1328.7V495.2H1326.7V498.2H1324.7V500.5H1322.7V499.8H1320.7V496.0H1318.7V496.8H1316.7V501.6H1314.7V503.1H1312.7V498.0H1310.7V499.2H1308.7V498.0H1306.7V498.8H1304.7V500.0H1302.7V497.5H1300.7V496.1H1298.7V495.1H1296.7V497.7H1294.7V498.2H1292.7V495.7H1290.7V495.9H1288.7V496.4H1286.7V495.0H1284.7V497.8H1282.7V497.3H1280.7V495.6H1278.7V497.4H1276.7V502.9H1274.7V505.2H1272.7V497.5H1270.7V500.8H1268.7V497.7H1266.7V494.0H1264.7V495.4H1262.7V499.3H1260.7V497.9H1258.7V497.2H1256.7V498.2H1254.7V497.3H1252.7V497.8H1250.7V497.5H1248.7V496.9H1246.7V496.7H1244.7V496.4H1242.7V496.9H1240.7V498.1H1238.7V496.5H1236.7V495.8H1234.7V497.1H1232.7V497.5H1230.7V497.3H1228.7V496.8H1226.7V499.4H1224.7V503.9H1222.7V502.9H1220.7V499.5H1218.7V498.5H1216.7V496.2H1214.7V499.2H1212.7V496.4H1210.7V500.5H1208.7V501.6H1206.7V501.7H1204.7V500.2H1202.7V499.0H1200.7V499.6H1198.7V497.2H1196.7V496.5H1194.7V496.3H1192.7V495.8H1190.7V495.0H1188.7V496.8H1186.7V496.0H1184.7V494.7H1182.7V497.1H1180.7V497.4H1178.7V499.9H1176.7V505.5H1174.7V503.9H1172.7V496.1H1170.7V502.1H1168.7V503.4H1166.7V500.6H1164.7V498.2H1162.7V497.0H1160.7V498.9H1158.7V498.7H1156.7V497.7H1154.7V495.8H1152.7V497.0H1150.7V495.6H1148.7V495.0H1146.7V499.5H1144.7V500.6H1142.7V498.8H1140.7V497.9H1138.7V497.4H1136.7V495.6H1134.7V495.6H1132.7V496.7H1130.7V496.9H1128.7V498.6H1126.7V498.5H1124.7V497.0H1122.7V492.6H1120.7V494.5H1118.7V495.4H1116.7V494.4H1114.7V496.3H1112.7V496.9H1110.7V499.5H1108.7V502.0H1106.7V502.8H1104.7V501.0H1102.7V498.6H1100.7V496.1H1098.7V495.9H1096.7V495.6H1094.7V498.3H1092.7V499.1H1090.7V500.2H1088.7V500.2H1086.7V499.4H1084.7V500.9H1082.7V499.8H1080.7V499.0H1078.7V499.5H1076.7V503.2H1074.7V504.9H1072.7V505.0H1070.7V504.0H1068.7V502.4H1066.7V501.0H1064.7V504.2H1062.7V508.9H1060.7V502.6H1058.7V503.4H1056.7V504.1H1054.7V509.6H1052.7V514.5H1050.7V518.8H1048.7V527.2H1046.7V537.2H1044.7V537.2H1042.7V536.9H1040.7V536.8H1038.7V536.6H1036.7V533.5H1034.7V521.9H1032.7V507.9H1030.7V499.9H1028.7V487.9H1026.7V488.5H1024.7V488.4H1022.7V490.2H1020.7V489.5H1018.7V489.3H1016.7V491.1H1014.7V490.8H1012.7V488.8H1010.7V490.7H1008.7V488.5H1006.7V488.7H1004.7V487.3H1002.7V487.5H1000.7V489.0H998.7V487.0H996.7V487.8H994.7V491.1H992.7V490.0H990.7V486.4H988.7V486.6H986.7V485.6H984.7V486.6H982.7V489.4H980.7V489.1H978.7V487.5H976.7V487.4H974.7V489.0H972.7V493.3H970.7V494.6H968.7V491.9H966.7V487.4H964.7V487.4H962.7V485.4H960.7V485.5H958.7V483.0H956.7V481.7H954.7V482.3H952.7V482.4H950.7V485.4H948.7V490.9H946.7V491.5H944.7V492.8H942.7V492.7H940.7V490.8H938.7V489.9H936.7V489.3H934.7V490.8H932.7V490.9H930.7V490.1H928.7V492.1H926.7V493.6H924.7V490.0H922.7V489.9H920.7V489.2H918.7V489.0H916.7V489.0H914.7V490.3H912.7V491.9H910.7V494.4H908.7V492.5H906.7V489.7H904.7V490.3H902.7V489.8H900.7V491.1H898.7V490.9H896.7V489.8H894.7V489.2H892.7V488.0H890.7V488.1H888.7V490.1H886.7V492.0H884.7V490.5H882.7V493.5H880.7V493.4H878.7V497.1H876.7V497.4H874.7V492.4H872.7V497.3H870.7V499.2H868.7V494.0H866.7V491.3H864.7V490.9H862.7V490.7H860.7V493.7H858.7V495.2H856.7V492.5H854.7V496.5H852.7V492.8H850.7V496.3H848.7V496.4H846.7V493.8H844.7V494.7H842.7V493.7H840.7V494.8H838.7V496.1H836.7V493.7H834.7V494.9H832.7V498.2H830.7V493.8H828.7V497.9H826.7V494.4H824.7V500.0H822.7V502.0H820.7V493.2H818.7V490.1H816.7V491.3H814.7V493.2H812.7V493.1H810.7V493.1H808.7V494.3H806.7V493.0H804.7V494.2H802.7V495.5H800.7V492.2H798.7V488.4H796.7V489.3H794.7V492.4H792.7V493.5H790.7V491.0H788.7V489.9H786.7V491.3H784.7V492.6H782.7V496.1H780.7V500.9H778.7V498.5H776.7V490.5H774.7V491.6H772.7V490.3H770.7V493.7H768.7V498.1H766.7V495.8H764.7V490.6H762.7V490.9H760.7V490.4H758.7V492.9H756.7V493.3H754.7V491.9H752.7V493.2H750.7V494.1H748.7V493.1H746.7V493.6H744.7V491.5H742.7V491.4H740.7V495.3H738.7V492.6H736.7V493.1H734.7V492.7H732.7V490.9H730.7V492.1H728.7V491.5H726.7V490.6H724.7V491.1H722.7V491.5H720.7V488.8H718.7V490.6H716.7V492.4H714.7V492.1H712.7V493.8H710.7V496.7H708.7V496.1H706.7V492.7H704.7V488.4H702.7V486.5H700.7V487.4H698.7V488.5H696.7V490.9H694.7V490.9H692.7V495.0H690.7V494.7H688.7V494.9H686.7V493.5H684.7V490.4H682.7V489.6H680.7V488.1H678.7V490.7H676.7V490.8H674.7V489.7H672.7V489.3H670.7V490.3H668.7V493.2H666.7V490.3H664.7V488.9H662.7V490.6H660.7V490.3H658.7V493.3H656.7V496.5H654.7V493.3H652.7V487.1H650.7V486.7H648.7V493.5H646.7V497.1H644.7V494.3H642.7V491.5H640.7V490.8H638.7V492.1H636.7V491.4H634.7V491.9H632.7V492.5H630.7V492.3H628.7V492.1H626.7V492.1H624.7V493.3H622.7V492.8H620.7V491.6H618.7V492.0H616.7V491.4H614.7V489.5H612.7V492.0H610.7V495.8H608.7V494.8H606.7V493.9H604.7V497.5H602.7V494.8H600.7V491.9H598.7V494.9H596.7V496.6H594.7V491.1H592.7V495.2H590.7V495.0H588.7V492.6H586.7V491.8H584.7V497.7H582.7V502.8H580.7V503.4H578.7V501.0H576.7V503.3H574.7V503.1H572.7V502.1H570.7V501.7H568.7V502.2H566.7V500.4H564.7V498.8H562.7V501.3H560.7V495.1H558.7V488.9H556.7V488.2H554.7V486.2H552.7V487.8H550.7V488.7H548.7V485.3H546.7V481.6H544.7V483.5H542.7V483.3H540.7V484.1H538.7V485.1H536.7V485.0H534.7V483.7H532.7V485.2H530.7V487.7H528.7V488.3H526.7V485.5H524.7V482.0H522.7V484.4H520.7V484.9H518.7V485.8H516.7V489.2H514.7V492.4H512.7V493.8H510.7V493.3H508.7V492.6H506.7V489.2H504.7V488.1H502.7V488.3H500.7V487.5H498.7V488.0H496.7V490.3H494.7V491.8H492.7V488.9H490.7V485.2H488.7V487.5H486.7V491.9H484.7V492.3H482.7V492.7H480.7V494.3H478.7V492.5H476.7V489.5H474.7V490.3H472.7V489.5H470.7V486.0H468.7V489.6H466.7V489.0H464.7V486.3H462.7V485.6H460.7V484.6H458.7V485.3H456.7V487.5H454.7V486.9H452.7V485.4H450.7V487.3H448.7V488.4H446.7V487.3H444.7V495.9H442.7V492.0H440.7V488.6H438.7V489.7H436.7V487.2H434.7V487.9H432.7V488.1H430.7V491.7H428.7V490.7H426.7V489.7H424.7V493.1H422.7V495.2H420.7V493.5H418.7V492.8H416.7V491.6H414.7V488.7H412.7V489.1H410.7V492.0H408.7V496.5H406.7V493.0H404.7V486.9H402.7V490.5H400.7V486.7H398.7V485.0H396.7V485.3H394.7V488.1H392.7V486.1H390.7V486.7H388.7V489.0H386.7V493.0H384.7V489.2H382.7V488.6H380.7V488.5H378.7V488.0H376.7V485.6H374.7V487.2H372.7V486.9H370.7V488.1H368.7V485.4H366.7V487.0H364.7V488.9H362.7V489.7H360.7V490.3H358.7V488.0H356.7V483.3H354.7V482.1H352.7V483.4H350.7V481.7H348.7V484.4H346.7V483.5H344.7V482.0H342.7V483.1H340.7V483.1H338.7V480.5H336.7V484.7H334.7V483.9H332.7V480.4H330.7V482.3H328.7V481.9H326.7V479.9H324.7V479.7H322.7V479.4H320.7V481.2H318.7V482.0H316.7V479.8H314.7V479.4H312.7V478.4H310.7V480.4H308.7V480.3H306.7V480.0H304.7V483.9H302.7V483.0H300.7V481.6H298.7V481.9H296.7V482.2H294.7V483.8H292.7V484.0H290.7V482.4H288.7V482.3H286.7V484.0H284.7V484.6H282.7V482.1H280.7V481.1H278.7V483.4H276.7V483.5H274.7V482.4H272.7V484.6H270.7V479.6H268.7V480.1H266.7V480.2H264.7V480.4H262.7V479.6H260.7V482.2H258.7V484.1H256.7V482.5H254.7V482.7H252.7V483.0H250.7V479.1H248.7V482.0H246.7h-0.8Z" fill="#ff00ff" stroke="none"/>
</g>
<g stroke="#000" stroke-width="4.1">
<line x1="246.70" y1="87.75" x2="246.70" y2="1159.90"/>
<line x1="244.65" y1="1157.85" x2="1685.75" y2="1157.85"/>
<line x1="226.3" y1="1157.85" x2="246.70" y2="1157.85"/>
<line x1="226.3" y1="944.24" x2="246.70" y2="944.24"/>
<line x1="226.3" y1="730.63" x2="246.70" y2="730.63"/>
<line x1="226.3" y1="517.02" x2="246.70" y2="517.02"/>
<line x1="226.3" y1="303.41" x2="246.70" y2="303.41"/>
<line x1="226.3" y1="89.80" x2="246.70" y2="89.80"/>
<line x1="235.6" y1="1051.04" x2="246.70" y2="1051.04"/>
<line x1="235.6" y1="837.43" x2="246.70" y2="837.43"/>
<line x1="235.6" y1="623.82" x2="246.70" y2="623.82"/>
<line x1="235.6" y1="410.21" x2="246.70" y2="410.21"/>
<line x1="235.6" y1="196.61" x2="246.70" y2="196.61"/>
<line x1="246.70" y1="1157.85" x2="246.70" y2="1178.4"/>
<line x1="486.20" y1="1157.85" x2="486.20" y2="1178.4"/>
<line x1="725.70" y1="1157.85" x2="725.70" y2="1178.4"/>
<line x1="965.20" y1="1157.85" x2="965.20" y2="1178.4"/>
<line x1="1204.70" y1="1157.85" x2="1204.70" y2="1178.4"/>
<line x1="1444.20" y1="1157.85" x2="1444.20" y2="1178.4"/>
<line x1="1683.70" y1="1157.85" x2="1683.70" y2="1178.4"/>
<line x1="366.45" y1="1157.85" x2="366.45" y2="1168.4"/>
<line x1="605.95" y1="1157.85" x2="605.95" y2="1168.4"/>
<line x1="845.45" y1="1157.85" x2="845.45" y2="1168.4"/>
<line x1="1084.95" y1="1157.85" x2="1084.95" y2="1168.4"/>
<line x1="1324.45" y1="1157.85" x2="1324.45" y2="1168.4"/>
<line x1="1563.95" y1="1157.85" x2="1563.95" y2="1168.4"/>
</g>
<g>
<text id="ty0" transform="translate(212.0,1177.0) scale(1,1.070)" text-anchor="end" font-size="60">0</text>
<text id="ty1" transform="translate(213.9,963.4) scale(1,1.070)" text-anchor="end" font-size="60" clip-path="url(#c_ty1)">1</text>
<text id="ty2" transform="translate(212.0,749.8) scale(1,1.070)" text-anchor="end" font-size="60">2</text>
<text id="ty3" transform="translate(212.0,536.2) scale(1,1.070)" text-anchor="end" font-size="60">3</text>
<text id="ty4" transform="translate(212.0,322.5) scale(1,1.070)" text-anchor="end" font-size="60">4</text>
<text id="ty5" transform="translate(212.0,108.9) scale(1,1.070)" text-anchor="end" font-size="60">5</text>
<text id="tx0" transform="translate(246.7,1240.5) scale(1,1.070)" text-anchor="middle" font-size="60">0</text>
<text id="tx6" transform="translate(486.2,1240.5) scale(1,1.070)" text-anchor="middle" font-size="60">6</text>
<text id="tx12" transform="translate(725.7,1240.5) scale(1,1.070)" text-anchor="middle" font-size="60" clip-path="url(#c_tx12)"><tspan dx="1.0">1</tspan><tspan dx="-1.0">2</tspan></text>
<text id="tx18" transform="translate(965.2,1240.5) scale(1,1.070)" text-anchor="middle" font-size="60" clip-path="url(#c_tx18)"><tspan dx="1.0">1</tspan><tspan dx="-1.0">8</tspan></text>
<text id="tx24" transform="translate(1204.7,1240.5) scale(1,1.070)" text-anchor="middle" font-size="60">24</text>
<text id="tx30" transform="translate(1444.2,1240.5) scale(1,1.070)" text-anchor="middle" font-size="60">30</text>
<text id="tx36" transform="translate(1683.7,1240.5) scale(1,1.070)" text-anchor="middle" font-size="60">36</text>
</g>
<g font-size="65">
<line x1="782.3" y1="132.6" x2="933.7" y2="132.6" stroke="#000" stroke-width="5.2" stroke-dasharray="32 9.5 11 9.5"/>
<line x1="782.3" y1="212.7" x2="911" y2="212.7" stroke="#f00" stroke-width="5.2" stroke-dasharray="29 20"/>
<line x1="782.3" y1="307.4" x2="911" y2="307.4" stroke="#00f" stroke-width="5.2" stroke-dasharray="11 18"/>
<line x1="782.3" y1="402" x2="933.7" y2="402" stroke="#f0f" stroke-width="5.2"/>
<text transform="translate(949,154.5) scale(1,1.03)">CO</text>
<text transform="translate(949,234) scale(1,1.03)">CO<tspan font-size="45" dy="19">2</tspan></text>
<text transform="translate(949,328.4) scale(1,1.03)">O<tspan font-size="45" dy="19">2</tspan></text>
<text transform="translate(949,423) scale(1,1.03)">CO + CO<tspan font-size="45" dy="19">2</tspan></text>
</g>
<text transform="translate(956.9,1322.5) scale(1,1.03)" text-anchor="middle" font-size="65.7">time (min)</text>
<text id="ytitle" transform="translate(104.6,612.5) rotate(-90) scale(1,1.045)" text-anchor="middle" font-size="65.2" clip-path="url(#c_ytitle)">Concentration (10<tspan font-size="46" dy="-27">3</tspan><tspan dy="27"> ppm)</tspan></text>
<text x="913.5" y="1443.8" text-anchor="middle" font-size="72" style="font-family:'Liberation Serif',serif;fill:#231f20">(c)</text>
</g>
</svg>
</body></html>
